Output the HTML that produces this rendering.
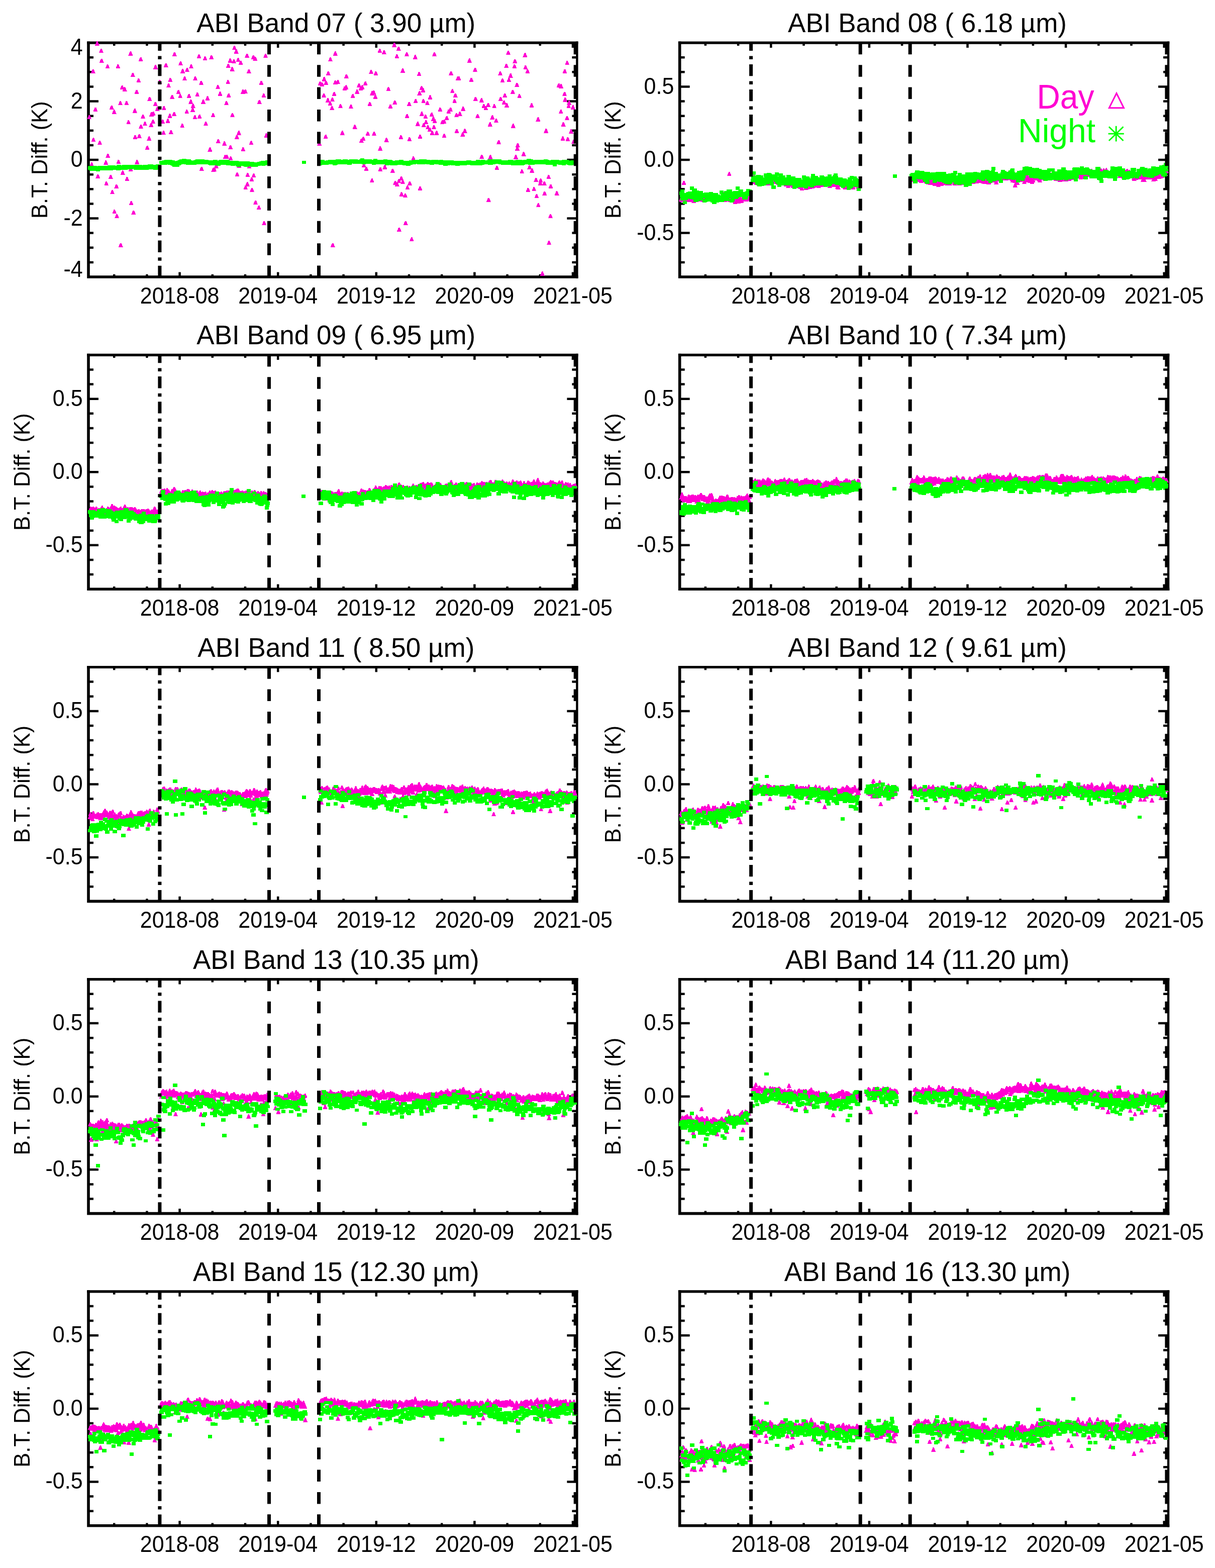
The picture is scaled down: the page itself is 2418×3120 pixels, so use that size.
<!DOCTYPE html><html><head><meta charset="utf-8"><title>ABI Bands B.T. Diff.</title><style>

*{margin:0;padding:0}
html,body{width:2418px;height:3120px;background:#fff;overflow:hidden}
svg{display:block}
text{font-family:"Liberation Sans",Arial,sans-serif;fill:#000}
.ti{font-size:53px;text-anchor:middle}
.tl{font-size:43px}
.yl{font-size:43.5px;text-anchor:middle}
.lg{font-size:66px}
path.d{fill:none;stroke:none;marker-start:url(#t);marker-mid:url(#t);marker-end:url(#t)}
path.n{fill:none;stroke:none;marker-start:url(#s);marker-mid:url(#s);marker-end:url(#s)}

</style></head><body>
<svg width="2418" height="3120" viewBox="0 0 2418 3120">
<rect width="2418" height="3120" fill="#fff"/>
<text class="ti" x="668.8" y="64.1">ABI Band 07 ( 3.90 µm)</text>
<text class="yl" transform="translate(93.8,318.1) rotate(-90)">B.T. Diff. (K)</text>
<path d="M357.6 551V541.4M357.6 85.1V94.9M553.2 551V541.4M553.2 85.1V94.9M748.8 551V541.4M748.8 85.1V94.9M944.4 551V541.4M944.4 85.1V94.9M1140 551V541.4M1140 85.1V94.9M227.2 551V545.8M227.2 85.1V90.9M292.4 551V545.8M292.4 85.1V90.9M422.8 551V545.8M422.8 85.1V90.9M488 551V545.8M488 85.1V90.9M618.4 551V545.8M618.4 85.1V90.9M683.6 551V545.8M683.6 85.1V90.9M814 551V545.8M814 85.1V90.9M879.2 551V545.8M879.2 85.1V90.9M1009.6 551V545.8M1009.6 85.1V90.9M1074.8 551V545.8M1074.8 85.1V90.9M176 434.5H196M1148.4 434.5H1128.4M176 318.1H196M1148.4 318.1H1128.4M176 201.6H196M1148.4 201.6H1128.4M176 521.9H186M1148.4 521.9H1138.4M176 492.8H186M1148.4 492.8H1138.4M176 463.6H186M1148.4 463.6H1138.4M176 405.4H186M1148.4 405.4H1138.4M176 376.3H186M1148.4 376.3H1138.4M176 347.2H186M1148.4 347.2H1138.4M176 288.9H186M1148.4 288.9H1138.4M176 259.8H186M1148.4 259.8H1138.4M176 230.7H186M1148.4 230.7H1138.4M176 172.5H186M1148.4 172.5H1138.4M176 143.3H186M1148.4 143.3H1138.4M176 114.2H186M1148.4 114.2H1138.4" stroke="#000" stroke-width="4.5" fill="none"/>
<text class="tl" transform="translate(164.6,108.7) scale(1,1.065)" text-anchor="end">4</text>
<text class="tl" transform="translate(164.6,215.6) scale(1,1.065)" text-anchor="end">2</text>
<text class="tl" transform="translate(164.6,332.1) scale(1,1.065)" text-anchor="end">0</text>
<text class="tl" transform="translate(164.6,448.5) scale(1,1.065)" text-anchor="end">-2</text>
<text class="tl" transform="translate(164.6,551) scale(1,1.065)" text-anchor="end">-4</text>
<text class="tl" transform="translate(357.6,603.5) scale(1,1.065)" text-anchor="middle">2018-08</text>
<text class="tl" transform="translate(553.2,603.5) scale(1,1.065)" text-anchor="middle">2019-04</text>
<text class="tl" transform="translate(748.8,603.5) scale(1,1.065)" text-anchor="middle">2019-12</text>
<text class="tl" transform="translate(944.4,603.5) scale(1,1.065)" text-anchor="middle">2020-09</text>
<text class="tl" transform="translate(1140,603.5) scale(1,1.065)" text-anchor="middle">2021-05</text>
<text class="ti" x="1845.5" y="64.1">ABI Band 08 ( 6.18 µm)</text>
<text class="yl" transform="translate(1235.4,318.1) rotate(-90)">B.T. Diff. (K)</text>
<path d="M1534.3 551V541.4M1534.3 85.1V94.9M1729.9 551V541.4M1729.9 85.1V94.9M1925.5 551V541.4M1925.5 85.1V94.9M2121.1 551V541.4M2121.1 85.1V94.9M2316.7 551V541.4M2316.7 85.1V94.9M1403.9 551V545.8M1403.9 85.1V90.9M1469.1 551V545.8M1469.1 85.1V90.9M1599.5 551V545.8M1599.5 85.1V90.9M1664.7 551V545.8M1664.7 85.1V90.9M1795.1 551V545.8M1795.1 85.1V90.9M1860.3 551V545.8M1860.3 85.1V90.9M1990.7 551V545.8M1990.7 85.1V90.9M2055.9 551V545.8M2055.9 85.1V90.9M2186.3 551V545.8M2186.3 85.1V90.9M2251.5 551V545.8M2251.5 85.1V90.9M1352.7 463.6H1372.7M2325.1 463.6H2305.1M1352.7 318.1H1372.7M2325.1 318.1H2305.1M1352.7 172.5H1372.7M2325.1 172.5H2305.1M1352.7 521.9H1362.7M2325.1 521.9H2315.1M1352.7 492.8H1362.7M2325.1 492.8H2315.1M1352.7 434.5H1362.7M2325.1 434.5H2315.1M1352.7 405.4H1362.7M2325.1 405.4H2315.1M1352.7 376.3H1362.7M2325.1 376.3H2315.1M1352.7 347.2H1362.7M2325.1 347.2H2315.1M1352.7 288.9H1362.7M2325.1 288.9H2315.1M1352.7 259.8H1362.7M2325.1 259.8H2315.1M1352.7 230.7H1362.7M2325.1 230.7H2315.1M1352.7 201.6H1362.7M2325.1 201.6H2315.1M1352.7 143.3H1362.7M2325.1 143.3H2315.1M1352.7 114.2H1362.7M2325.1 114.2H2315.1" stroke="#000" stroke-width="4.5" fill="none"/>
<text class="tl" transform="translate(1341.3,186.5) scale(1,1.065)" text-anchor="end">0.5</text>
<text class="tl" transform="translate(1341.3,332.1) scale(1,1.065)" text-anchor="end">0.0</text>
<text class="tl" transform="translate(1341.3,477.6) scale(1,1.065)" text-anchor="end">-0.5</text>
<text class="tl" transform="translate(1534.3,603.5) scale(1,1.065)" text-anchor="middle">2018-08</text>
<text class="tl" transform="translate(1729.9,603.5) scale(1,1.065)" text-anchor="middle">2019-04</text>
<text class="tl" transform="translate(1925.5,603.5) scale(1,1.065)" text-anchor="middle">2019-12</text>
<text class="tl" transform="translate(2121.1,603.5) scale(1,1.065)" text-anchor="middle">2020-09</text>
<text class="tl" transform="translate(2316.7,603.5) scale(1,1.065)" text-anchor="middle">2021-05</text>
<text class="ti" x="668.8" y="685.3">ABI Band 09 ( 6.95 µm)</text>
<text class="yl" transform="translate(58.7,939.2) rotate(-90)">B.T. Diff. (K)</text>
<path d="M357.6 1172.2V1162.6M357.6 706.3V716.1M553.2 1172.2V1162.6M553.2 706.3V716.1M748.8 1172.2V1162.6M748.8 706.3V716.1M944.4 1172.2V1162.6M944.4 706.3V716.1M1140 1172.2V1162.6M1140 706.3V716.1M227.2 1172.2V1167M227.2 706.3V712.1M292.4 1172.2V1167M292.4 706.3V712.1M422.8 1172.2V1167M422.8 706.3V712.1M488 1172.2V1167M488 706.3V712.1M618.4 1172.2V1167M618.4 706.3V712.1M683.6 1172.2V1167M683.6 706.3V712.1M814 1172.2V1167M814 706.3V712.1M879.2 1172.2V1167M879.2 706.3V712.1M1009.6 1172.2V1167M1009.6 706.3V712.1M1074.8 1172.2V1167M1074.8 706.3V712.1M176 1084.8H196M1148.4 1084.8H1128.4M176 939.2H196M1148.4 939.2H1128.4M176 793.7H196M1148.4 793.7H1128.4M176 1143.1H186M1148.4 1143.1H1138.4M176 1114H186M1148.4 1114H1138.4M176 1055.7H186M1148.4 1055.7H1138.4M176 1026.6H186M1148.4 1026.6H1138.4M176 997.5H186M1148.4 997.5H1138.4M176 968.4H186M1148.4 968.4H1138.4M176 910.1H186M1148.4 910.1H1138.4M176 881H186M1148.4 881H1138.4M176 851.9H186M1148.4 851.9H1138.4M176 822.8H186M1148.4 822.8H1138.4M176 764.5H186M1148.4 764.5H1138.4M176 735.4H186M1148.4 735.4H1138.4" stroke="#000" stroke-width="4.5" fill="none"/>
<text class="tl" transform="translate(164.6,807.7) scale(1,1.065)" text-anchor="end">0.5</text>
<text class="tl" transform="translate(164.6,953.2) scale(1,1.065)" text-anchor="end">0.0</text>
<text class="tl" transform="translate(164.6,1098.8) scale(1,1.065)" text-anchor="end">-0.5</text>
<text class="tl" transform="translate(357.6,1224.7) scale(1,1.065)" text-anchor="middle">2018-08</text>
<text class="tl" transform="translate(553.2,1224.7) scale(1,1.065)" text-anchor="middle">2019-04</text>
<text class="tl" transform="translate(748.8,1224.7) scale(1,1.065)" text-anchor="middle">2019-12</text>
<text class="tl" transform="translate(944.4,1224.7) scale(1,1.065)" text-anchor="middle">2020-09</text>
<text class="tl" transform="translate(1140,1224.7) scale(1,1.065)" text-anchor="middle">2021-05</text>
<text class="ti" x="1845.5" y="685.3">ABI Band 10 ( 7.34 µm)</text>
<text class="yl" transform="translate(1235.4,939.2) rotate(-90)">B.T. Diff. (K)</text>
<path d="M1534.3 1172.2V1162.6M1534.3 706.3V716.1M1729.9 1172.2V1162.6M1729.9 706.3V716.1M1925.5 1172.2V1162.6M1925.5 706.3V716.1M2121.1 1172.2V1162.6M2121.1 706.3V716.1M2316.7 1172.2V1162.6M2316.7 706.3V716.1M1403.9 1172.2V1167M1403.9 706.3V712.1M1469.1 1172.2V1167M1469.1 706.3V712.1M1599.5 1172.2V1167M1599.5 706.3V712.1M1664.7 1172.2V1167M1664.7 706.3V712.1M1795.1 1172.2V1167M1795.1 706.3V712.1M1860.3 1172.2V1167M1860.3 706.3V712.1M1990.7 1172.2V1167M1990.7 706.3V712.1M2055.9 1172.2V1167M2055.9 706.3V712.1M2186.3 1172.2V1167M2186.3 706.3V712.1M2251.5 1172.2V1167M2251.5 706.3V712.1M1352.7 1084.8H1372.7M2325.1 1084.8H2305.1M1352.7 939.2H1372.7M2325.1 939.2H2305.1M1352.7 793.7H1372.7M2325.1 793.7H2305.1M1352.7 1143.1H1362.7M2325.1 1143.1H2315.1M1352.7 1114H1362.7M2325.1 1114H2315.1M1352.7 1055.7H1362.7M2325.1 1055.7H2315.1M1352.7 1026.6H1362.7M2325.1 1026.6H2315.1M1352.7 997.5H1362.7M2325.1 997.5H2315.1M1352.7 968.4H1362.7M2325.1 968.4H2315.1M1352.7 910.1H1362.7M2325.1 910.1H2315.1M1352.7 881H1362.7M2325.1 881H2315.1M1352.7 851.9H1362.7M2325.1 851.9H2315.1M1352.7 822.8H1362.7M2325.1 822.8H2315.1M1352.7 764.5H1362.7M2325.1 764.5H2315.1M1352.7 735.4H1362.7M2325.1 735.4H2315.1" stroke="#000" stroke-width="4.5" fill="none"/>
<text class="tl" transform="translate(1341.3,807.7) scale(1,1.065)" text-anchor="end">0.5</text>
<text class="tl" transform="translate(1341.3,953.2) scale(1,1.065)" text-anchor="end">0.0</text>
<text class="tl" transform="translate(1341.3,1098.8) scale(1,1.065)" text-anchor="end">-0.5</text>
<text class="tl" transform="translate(1534.3,1224.7) scale(1,1.065)" text-anchor="middle">2018-08</text>
<text class="tl" transform="translate(1729.9,1224.7) scale(1,1.065)" text-anchor="middle">2019-04</text>
<text class="tl" transform="translate(1925.5,1224.7) scale(1,1.065)" text-anchor="middle">2019-12</text>
<text class="tl" transform="translate(2121.1,1224.7) scale(1,1.065)" text-anchor="middle">2020-09</text>
<text class="tl" transform="translate(2316.7,1224.7) scale(1,1.065)" text-anchor="middle">2021-05</text>
<text class="ti" x="668.8" y="1306.5">ABI Band 11 ( 8.50 µm)</text>
<text class="yl" transform="translate(58.7,1560.5) rotate(-90)">B.T. Diff. (K)</text>
<path d="M357.6 1793.4V1783.8M357.6 1327.5V1337.3M553.2 1793.4V1783.8M553.2 1327.5V1337.3M748.8 1793.4V1783.8M748.8 1327.5V1337.3M944.4 1793.4V1783.8M944.4 1327.5V1337.3M1140 1793.4V1783.8M1140 1327.5V1337.3M227.2 1793.4V1788.2M227.2 1327.5V1333.3M292.4 1793.4V1788.2M292.4 1327.5V1333.3M422.8 1793.4V1788.2M422.8 1327.5V1333.3M488 1793.4V1788.2M488 1327.5V1333.3M618.4 1793.4V1788.2M618.4 1327.5V1333.3M683.6 1793.4V1788.2M683.6 1327.5V1333.3M814 1793.4V1788.2M814 1327.5V1333.3M879.2 1793.4V1788.2M879.2 1327.5V1333.3M1009.6 1793.4V1788.2M1009.6 1327.5V1333.3M1074.8 1793.4V1788.2M1074.8 1327.5V1333.3M176 1706H196M1148.4 1706H1128.4M176 1560.5H196M1148.4 1560.5H1128.4M176 1414.9H196M1148.4 1414.9H1128.4M176 1764.3H186M1148.4 1764.3H1138.4M176 1735.2H186M1148.4 1735.2H1138.4M176 1676.9H186M1148.4 1676.9H1138.4M176 1647.8H186M1148.4 1647.8H1138.4M176 1618.7H186M1148.4 1618.7H1138.4M176 1589.6H186M1148.4 1589.6H1138.4M176 1531.3H186M1148.4 1531.3H1138.4M176 1502.2H186M1148.4 1502.2H1138.4M176 1473.1H186M1148.4 1473.1H1138.4M176 1444H186M1148.4 1444H1138.4M176 1385.7H186M1148.4 1385.7H1138.4M176 1356.6H186M1148.4 1356.6H1138.4" stroke="#000" stroke-width="4.5" fill="none"/>
<text class="tl" transform="translate(164.6,1428.9) scale(1,1.065)" text-anchor="end">0.5</text>
<text class="tl" transform="translate(164.6,1574.5) scale(1,1.065)" text-anchor="end">0.0</text>
<text class="tl" transform="translate(164.6,1720) scale(1,1.065)" text-anchor="end">-0.5</text>
<text class="tl" transform="translate(357.6,1845.9) scale(1,1.065)" text-anchor="middle">2018-08</text>
<text class="tl" transform="translate(553.2,1845.9) scale(1,1.065)" text-anchor="middle">2019-04</text>
<text class="tl" transform="translate(748.8,1845.9) scale(1,1.065)" text-anchor="middle">2019-12</text>
<text class="tl" transform="translate(944.4,1845.9) scale(1,1.065)" text-anchor="middle">2020-09</text>
<text class="tl" transform="translate(1140,1845.9) scale(1,1.065)" text-anchor="middle">2021-05</text>
<text class="ti" x="1845.5" y="1306.5">ABI Band 12 ( 9.61 µm)</text>
<text class="yl" transform="translate(1235.4,1560.5) rotate(-90)">B.T. Diff. (K)</text>
<path d="M1534.3 1793.4V1783.8M1534.3 1327.5V1337.3M1729.9 1793.4V1783.8M1729.9 1327.5V1337.3M1925.5 1793.4V1783.8M1925.5 1327.5V1337.3M2121.1 1793.4V1783.8M2121.1 1327.5V1337.3M2316.7 1793.4V1783.8M2316.7 1327.5V1337.3M1403.9 1793.4V1788.2M1403.9 1327.5V1333.3M1469.1 1793.4V1788.2M1469.1 1327.5V1333.3M1599.5 1793.4V1788.2M1599.5 1327.5V1333.3M1664.7 1793.4V1788.2M1664.7 1327.5V1333.3M1795.1 1793.4V1788.2M1795.1 1327.5V1333.3M1860.3 1793.4V1788.2M1860.3 1327.5V1333.3M1990.7 1793.4V1788.2M1990.7 1327.5V1333.3M2055.9 1793.4V1788.2M2055.9 1327.5V1333.3M2186.3 1793.4V1788.2M2186.3 1327.5V1333.3M2251.5 1793.4V1788.2M2251.5 1327.5V1333.3M1352.7 1706H1372.7M2325.1 1706H2305.1M1352.7 1560.5H1372.7M2325.1 1560.5H2305.1M1352.7 1414.9H1372.7M2325.1 1414.9H2305.1M1352.7 1764.3H1362.7M2325.1 1764.3H2315.1M1352.7 1735.2H1362.7M2325.1 1735.2H2315.1M1352.7 1676.9H1362.7M2325.1 1676.9H2315.1M1352.7 1647.8H1362.7M2325.1 1647.8H2315.1M1352.7 1618.7H1362.7M2325.1 1618.7H2315.1M1352.7 1589.6H1362.7M2325.1 1589.6H2315.1M1352.7 1531.3H1362.7M2325.1 1531.3H2315.1M1352.7 1502.2H1362.7M2325.1 1502.2H2315.1M1352.7 1473.1H1362.7M2325.1 1473.1H2315.1M1352.7 1444H1362.7M2325.1 1444H2315.1M1352.7 1385.7H1362.7M2325.1 1385.7H2315.1M1352.7 1356.6H1362.7M2325.1 1356.6H2315.1" stroke="#000" stroke-width="4.5" fill="none"/>
<text class="tl" transform="translate(1341.3,1428.9) scale(1,1.065)" text-anchor="end">0.5</text>
<text class="tl" transform="translate(1341.3,1574.5) scale(1,1.065)" text-anchor="end">0.0</text>
<text class="tl" transform="translate(1341.3,1720) scale(1,1.065)" text-anchor="end">-0.5</text>
<text class="tl" transform="translate(1534.3,1845.9) scale(1,1.065)" text-anchor="middle">2018-08</text>
<text class="tl" transform="translate(1729.9,1845.9) scale(1,1.065)" text-anchor="middle">2019-04</text>
<text class="tl" transform="translate(1925.5,1845.9) scale(1,1.065)" text-anchor="middle">2019-12</text>
<text class="tl" transform="translate(2121.1,1845.9) scale(1,1.065)" text-anchor="middle">2020-09</text>
<text class="tl" transform="translate(2316.7,1845.9) scale(1,1.065)" text-anchor="middle">2021-05</text>
<text class="ti" x="668.8" y="1927.7">ABI Band 13 (10.35 µm)</text>
<text class="yl" transform="translate(58.7,2181.7) rotate(-90)">B.T. Diff. (K)</text>
<path d="M357.6 2414.6V2405M357.6 1948.7V1958.5M553.2 2414.6V2405M553.2 1948.7V1958.5M748.8 2414.6V2405M748.8 1948.7V1958.5M944.4 2414.6V2405M944.4 1948.7V1958.5M1140 2414.6V2405M1140 1948.7V1958.5M227.2 2414.6V2409.4M227.2 1948.7V1954.5M292.4 2414.6V2409.4M292.4 1948.7V1954.5M422.8 2414.6V2409.4M422.8 1948.7V1954.5M488 2414.6V2409.4M488 1948.7V1954.5M618.4 2414.6V2409.4M618.4 1948.7V1954.5M683.6 2414.6V2409.4M683.6 1948.7V1954.5M814 2414.6V2409.4M814 1948.7V1954.5M879.2 2414.6V2409.4M879.2 1948.7V1954.5M1009.6 2414.6V2409.4M1009.6 1948.7V1954.5M1074.8 2414.6V2409.4M1074.8 1948.7V1954.5M176 2327.2H196M1148.4 2327.2H1128.4M176 2181.7H196M1148.4 2181.7H1128.4M176 2036.1H196M1148.4 2036.1H1128.4M176 2385.5H186M1148.4 2385.5H1138.4M176 2356.4H186M1148.4 2356.4H1138.4M176 2298.1H186M1148.4 2298.1H1138.4M176 2269H186M1148.4 2269H1138.4M176 2239.9H186M1148.4 2239.9H1138.4M176 2210.8H186M1148.4 2210.8H1138.4M176 2152.5H186M1148.4 2152.5H1138.4M176 2123.4H186M1148.4 2123.4H1138.4M176 2094.3H186M1148.4 2094.3H1138.4M176 2065.2H186M1148.4 2065.2H1138.4M176 2006.9H186M1148.4 2006.9H1138.4M176 1977.8H186M1148.4 1977.8H1138.4" stroke="#000" stroke-width="4.5" fill="none"/>
<text class="tl" transform="translate(164.6,2050.1) scale(1,1.065)" text-anchor="end">0.5</text>
<text class="tl" transform="translate(164.6,2195.7) scale(1,1.065)" text-anchor="end">0.0</text>
<text class="tl" transform="translate(164.6,2341.2) scale(1,1.065)" text-anchor="end">-0.5</text>
<text class="tl" transform="translate(357.6,2467.1) scale(1,1.065)" text-anchor="middle">2018-08</text>
<text class="tl" transform="translate(553.2,2467.1) scale(1,1.065)" text-anchor="middle">2019-04</text>
<text class="tl" transform="translate(748.8,2467.1) scale(1,1.065)" text-anchor="middle">2019-12</text>
<text class="tl" transform="translate(944.4,2467.1) scale(1,1.065)" text-anchor="middle">2020-09</text>
<text class="tl" transform="translate(1140,2467.1) scale(1,1.065)" text-anchor="middle">2021-05</text>
<text class="ti" x="1845.5" y="1927.7">ABI Band 14 (11.20 µm)</text>
<text class="yl" transform="translate(1235.4,2181.7) rotate(-90)">B.T. Diff. (K)</text>
<path d="M1534.3 2414.6V2405M1534.3 1948.7V1958.5M1729.9 2414.6V2405M1729.9 1948.7V1958.5M1925.5 2414.6V2405M1925.5 1948.7V1958.5M2121.1 2414.6V2405M2121.1 1948.7V1958.5M2316.7 2414.6V2405M2316.7 1948.7V1958.5M1403.9 2414.6V2409.4M1403.9 1948.7V1954.5M1469.1 2414.6V2409.4M1469.1 1948.7V1954.5M1599.5 2414.6V2409.4M1599.5 1948.7V1954.5M1664.7 2414.6V2409.4M1664.7 1948.7V1954.5M1795.1 2414.6V2409.4M1795.1 1948.7V1954.5M1860.3 2414.6V2409.4M1860.3 1948.7V1954.5M1990.7 2414.6V2409.4M1990.7 1948.7V1954.5M2055.9 2414.6V2409.4M2055.9 1948.7V1954.5M2186.3 2414.6V2409.4M2186.3 1948.7V1954.5M2251.5 2414.6V2409.4M2251.5 1948.7V1954.5M1352.7 2327.2H1372.7M2325.1 2327.2H2305.1M1352.7 2181.7H1372.7M2325.1 2181.7H2305.1M1352.7 2036.1H1372.7M2325.1 2036.1H2305.1M1352.7 2385.5H1362.7M2325.1 2385.5H2315.1M1352.7 2356.4H1362.7M2325.1 2356.4H2315.1M1352.7 2298.1H1362.7M2325.1 2298.1H2315.1M1352.7 2269H1362.7M2325.1 2269H2315.1M1352.7 2239.9H1362.7M2325.1 2239.9H2315.1M1352.7 2210.8H1362.7M2325.1 2210.8H2315.1M1352.7 2152.5H1362.7M2325.1 2152.5H2315.1M1352.7 2123.4H1362.7M2325.1 2123.4H2315.1M1352.7 2094.3H1362.7M2325.1 2094.3H2315.1M1352.7 2065.2H1362.7M2325.1 2065.2H2315.1M1352.7 2006.9H1362.7M2325.1 2006.9H2315.1M1352.7 1977.8H1362.7M2325.1 1977.8H2315.1" stroke="#000" stroke-width="4.5" fill="none"/>
<text class="tl" transform="translate(1341.3,2050.1) scale(1,1.065)" text-anchor="end">0.5</text>
<text class="tl" transform="translate(1341.3,2195.7) scale(1,1.065)" text-anchor="end">0.0</text>
<text class="tl" transform="translate(1341.3,2341.2) scale(1,1.065)" text-anchor="end">-0.5</text>
<text class="tl" transform="translate(1534.3,2467.1) scale(1,1.065)" text-anchor="middle">2018-08</text>
<text class="tl" transform="translate(1729.9,2467.1) scale(1,1.065)" text-anchor="middle">2019-04</text>
<text class="tl" transform="translate(1925.5,2467.1) scale(1,1.065)" text-anchor="middle">2019-12</text>
<text class="tl" transform="translate(2121.1,2467.1) scale(1,1.065)" text-anchor="middle">2020-09</text>
<text class="tl" transform="translate(2316.7,2467.1) scale(1,1.065)" text-anchor="middle">2021-05</text>
<text class="ti" x="668.8" y="2548.9">ABI Band 15 (12.30 µm)</text>
<text class="yl" transform="translate(58.7,2802.9) rotate(-90)">B.T. Diff. (K)</text>
<path d="M357.6 3035.8V3026.2M357.6 2569.9V2579.7M553.2 3035.8V3026.2M553.2 2569.9V2579.7M748.8 3035.8V3026.2M748.8 2569.9V2579.7M944.4 3035.8V3026.2M944.4 2569.9V2579.7M1140 3035.8V3026.2M1140 2569.9V2579.7M227.2 3035.8V3030.6M227.2 2569.9V2575.7M292.4 3035.8V3030.6M292.4 2569.9V2575.7M422.8 3035.8V3030.6M422.8 2569.9V2575.7M488 3035.8V3030.6M488 2569.9V2575.7M618.4 3035.8V3030.6M618.4 2569.9V2575.7M683.6 3035.8V3030.6M683.6 2569.9V2575.7M814 3035.8V3030.6M814 2569.9V2575.7M879.2 3035.8V3030.6M879.2 2569.9V2575.7M1009.6 3035.8V3030.6M1009.6 2569.9V2575.7M1074.8 3035.8V3030.6M1074.8 2569.9V2575.7M176 2948.4H196M1148.4 2948.4H1128.4M176 2802.9H196M1148.4 2802.9H1128.4M176 2657.3H196M1148.4 2657.3H1128.4M176 3006.7H186M1148.4 3006.7H1138.4M176 2977.6H186M1148.4 2977.6H1138.4M176 2919.3H186M1148.4 2919.3H1138.4M176 2890.2H186M1148.4 2890.2H1138.4M176 2861.1H186M1148.4 2861.1H1138.4M176 2832H186M1148.4 2832H1138.4M176 2773.7H186M1148.4 2773.7H1138.4M176 2744.6H186M1148.4 2744.6H1138.4M176 2715.5H186M1148.4 2715.5H1138.4M176 2686.4H186M1148.4 2686.4H1138.4M176 2628.1H186M1148.4 2628.1H1138.4M176 2599H186M1148.4 2599H1138.4" stroke="#000" stroke-width="4.5" fill="none"/>
<text class="tl" transform="translate(164.6,2671.3) scale(1,1.065)" text-anchor="end">0.5</text>
<text class="tl" transform="translate(164.6,2816.9) scale(1,1.065)" text-anchor="end">0.0</text>
<text class="tl" transform="translate(164.6,2962.4) scale(1,1.065)" text-anchor="end">-0.5</text>
<text class="tl" transform="translate(357.6,3088.3) scale(1,1.065)" text-anchor="middle">2018-08</text>
<text class="tl" transform="translate(553.2,3088.3) scale(1,1.065)" text-anchor="middle">2019-04</text>
<text class="tl" transform="translate(748.8,3088.3) scale(1,1.065)" text-anchor="middle">2019-12</text>
<text class="tl" transform="translate(944.4,3088.3) scale(1,1.065)" text-anchor="middle">2020-09</text>
<text class="tl" transform="translate(1140,3088.3) scale(1,1.065)" text-anchor="middle">2021-05</text>
<text class="ti" x="1845.5" y="2548.9">ABI Band 16 (13.30 µm)</text>
<text class="yl" transform="translate(1235.4,2802.9) rotate(-90)">B.T. Diff. (K)</text>
<path d="M1534.3 3035.8V3026.2M1534.3 2569.9V2579.7M1729.9 3035.8V3026.2M1729.9 2569.9V2579.7M1925.5 3035.8V3026.2M1925.5 2569.9V2579.7M2121.1 3035.8V3026.2M2121.1 2569.9V2579.7M2316.7 3035.8V3026.2M2316.7 2569.9V2579.7M1403.9 3035.8V3030.6M1403.9 2569.9V2575.7M1469.1 3035.8V3030.6M1469.1 2569.9V2575.7M1599.5 3035.8V3030.6M1599.5 2569.9V2575.7M1664.7 3035.8V3030.6M1664.7 2569.9V2575.7M1795.1 3035.8V3030.6M1795.1 2569.9V2575.7M1860.3 3035.8V3030.6M1860.3 2569.9V2575.7M1990.7 3035.8V3030.6M1990.7 2569.9V2575.7M2055.9 3035.8V3030.6M2055.9 2569.9V2575.7M2186.3 3035.8V3030.6M2186.3 2569.9V2575.7M2251.5 3035.8V3030.6M2251.5 2569.9V2575.7M1352.7 2948.4H1372.7M2325.1 2948.4H2305.1M1352.7 2802.9H1372.7M2325.1 2802.9H2305.1M1352.7 2657.3H1372.7M2325.1 2657.3H2305.1M1352.7 3006.7H1362.7M2325.1 3006.7H2315.1M1352.7 2977.6H1362.7M2325.1 2977.6H2315.1M1352.7 2919.3H1362.7M2325.1 2919.3H2315.1M1352.7 2890.2H1362.7M2325.1 2890.2H2315.1M1352.7 2861.1H1362.7M2325.1 2861.1H2315.1M1352.7 2832H1362.7M2325.1 2832H2315.1M1352.7 2773.7H1362.7M2325.1 2773.7H2315.1M1352.7 2744.6H1362.7M2325.1 2744.6H2315.1M1352.7 2715.5H1362.7M2325.1 2715.5H2315.1M1352.7 2686.4H1362.7M2325.1 2686.4H2315.1M1352.7 2628.1H1362.7M2325.1 2628.1H2315.1M1352.7 2599H1362.7M2325.1 2599H2315.1" stroke="#000" stroke-width="4.5" fill="none"/>
<text class="tl" transform="translate(1341.3,2671.3) scale(1,1.065)" text-anchor="end">0.5</text>
<text class="tl" transform="translate(1341.3,2816.9) scale(1,1.065)" text-anchor="end">0.0</text>
<text class="tl" transform="translate(1341.3,2962.4) scale(1,1.065)" text-anchor="end">-0.5</text>
<text class="tl" transform="translate(1534.3,3088.3) scale(1,1.065)" text-anchor="middle">2018-08</text>
<text class="tl" transform="translate(1729.9,3088.3) scale(1,1.065)" text-anchor="middle">2019-04</text>
<text class="tl" transform="translate(1925.5,3088.3) scale(1,1.065)" text-anchor="middle">2019-12</text>
<text class="tl" transform="translate(2121.1,3088.3) scale(1,1.065)" text-anchor="middle">2020-09</text>
<text class="tl" transform="translate(2316.7,3088.3) scale(1,1.065)" text-anchor="middle">2021-05</text>
<path d="M173.2 85.1H1150.6" stroke="#000" stroke-width="5.2"/><path d="M173.2 551H1150.6M176 82.5V553.8" stroke="#000" stroke-width="5.6"/><path d="M1148.4 82.5V553.8" stroke="#000" stroke-width="4.4"/>
<path d="M1349.9 85.1H2327.3" stroke="#000" stroke-width="5.2"/><path d="M1349.9 551H2327.3M1352.7 82.5V553.8" stroke="#000" stroke-width="5.6"/><path d="M2325.1 82.5V553.8" stroke="#000" stroke-width="4.4"/>
<path d="M173.2 706.3H1150.6" stroke="#000" stroke-width="5.2"/><path d="M173.2 1172.2H1150.6M176 703.7V1175" stroke="#000" stroke-width="5.6"/><path d="M1148.4 703.7V1175" stroke="#000" stroke-width="4.4"/>
<path d="M1349.9 706.3H2327.3" stroke="#000" stroke-width="5.2"/><path d="M1349.9 1172.2H2327.3M1352.7 703.7V1175" stroke="#000" stroke-width="5.6"/><path d="M2325.1 703.7V1175" stroke="#000" stroke-width="4.4"/>
<path d="M173.2 1327.5H1150.6" stroke="#000" stroke-width="5.2"/><path d="M173.2 1793.4H1150.6M176 1324.9V1796.2" stroke="#000" stroke-width="5.6"/><path d="M1148.4 1324.9V1796.2" stroke="#000" stroke-width="4.4"/>
<path d="M1349.9 1327.5H2327.3" stroke="#000" stroke-width="5.2"/><path d="M1349.9 1793.4H2327.3M1352.7 1324.9V1796.2" stroke="#000" stroke-width="5.6"/><path d="M2325.1 1324.9V1796.2" stroke="#000" stroke-width="4.4"/>
<path d="M173.2 1948.7H1150.6" stroke="#000" stroke-width="5.2"/><path d="M173.2 2414.6H1150.6M176 1946.1V2417.4" stroke="#000" stroke-width="5.6"/><path d="M1148.4 1946.1V2417.4" stroke="#000" stroke-width="4.4"/>
<path d="M1349.9 1948.7H2327.3" stroke="#000" stroke-width="5.2"/><path d="M1349.9 2414.6H2327.3M1352.7 1946.1V2417.4" stroke="#000" stroke-width="5.6"/><path d="M2325.1 1946.1V2417.4" stroke="#000" stroke-width="4.4"/>
<path d="M173.2 2569.9H1150.6" stroke="#000" stroke-width="5.2"/><path d="M173.2 3035.8H1150.6M176 2567.3V3038.6" stroke="#000" stroke-width="5.6"/><path d="M1148.4 2567.3V3038.6" stroke="#000" stroke-width="4.4"/>
<path d="M1349.9 2569.9H2327.3" stroke="#000" stroke-width="5.2"/><path d="M1349.9 3035.8H2327.3M1352.7 2567.3V3038.6" stroke="#000" stroke-width="5.6"/><path d="M2325.1 2567.3V3038.6" stroke="#000" stroke-width="4.4"/>
<defs>
<marker id="t" markerUnits="userSpaceOnUse" markerWidth="12" markerHeight="12" refX="6" refY="6" overflow="visible"><path d="M1.5 10.1L4.8 1.8L7.2 1.8L10.5 10.1Z" fill="#ff00d2" shape-rendering="crispEdges"/></marker>
<marker id="s" markerUnits="userSpaceOnUse" markerWidth="12" markerHeight="12" refX="6" refY="6" overflow="visible"><rect x="1.8" y="2.6" width="8.4" height="6.8" fill="#00ff00" shape-rendering="crispEdges"/></marker>
</defs>
<path class="d" d="M193.4 86.5l8 14.5 58.5 5.4 20.2 11.4-77.8 2.9 11.8 11.6 20.7 0-49.6 9.4 124.4-8.3 37.7-25.5 48.7 4.4 12.1 4 12.7-2.5-90.5 15.9 29.1-3.4 21.1 6-17 9.3 8.9-2.4-108.1 9.6 11.5 11.5 42 3 21.1-4.5 28.6-2.5 21.1-.1 11.9 8.5-65 5.5-92.3 3.7 4.9 3.7 23.9 5.2 83.1 0 3.6 8.5-16.1 1.5 33.5-1.8 16.7-2.6 20.2 7.3-115.2 1.1-58.3 8.5 12.3 0 57.5 1.5 70.5-4.4 24.8 0-20.4 8.1-194.2 7.4 32.2-4.1 5 8.8 41.1-2 45-4.2 13-1.2 57.2 3.4-11.8 3.7-70.2 5.2 3.7-1.5 41.4 .8-8.6 3.7-53.5 1.4 103.4 1.5 9.2-1.5 27-2.5-246.3 4 77.9 9.9 48.8-1.3 19.2 0 10.3-1.5-45.5 5.8 12.3 2.6-20.3 3 82.3-1.5 46.8-4.4-84 18.4 14.8-1.5-71.4 9.9 8.2-2 19.6 4.7-110.8 2.9 12.6 5.7 94.5 9.9 124.8 3.6-203.2 12.2 21.1 12.2 36.9 .5-62 1-28.1 4.1 77.6 9.6-16 6.3-49.3 7.2 25.4 1.2 32.5 4.4-41.1 8.9 20.1 5.6-8.3 11.4 37.7 22.1-33.5 17 4.9 8.9 33.2-7.4-25.6 65 161-152.1 23.6 2.2 41.7-242.6 3.7 7.1 21.4 8.4 12.6 3 3.7 2.9 20.6-5.9-70.4 9.6 7.4 1.5 8.4-2.6 5.2 5.6-24.8 5.9 7.8 6.6 33.2 4.5-41.6 21.4 66.4 1.4-86.5 8.5 49.9 9.3 4.7-.8-50.2 4.9 17.1 3.5 69.7 0-74.2 15.2 65.7-2.6-53.8 26.3 12.9 35.4-4 8.4-37.1 8.3 12.3 4.4 12.1 7.4 41.3-8.5-16.2 12.8-35.7 15.2 3.6 0 7.4 3 70.9-45.8 137.3-163.2-9.8 11.8-4.2 27.6-8.1 11.6 3.7 7.3-11.8 1.5 3.7 1.5 26.5-3.7-22.8 25.8 20.6-2.9 7.4-23.7-19.9 36.2 8.8-1.4-4.4 8.1 3.7 8.9-12.6 56.8-12.5 14-205.3 44.7-3.7 6.7 49.2-7.4 20.2 1.4-24 16 20.8 1 12.1 1.1-4 7.8-8.5 9.3-3.7 6.9 12.8 4.5 7.1 25.1 6.6 10.3 10.4 31 136.6 43.6 122.6-398.4 8.4 7.4-37.4 4.2 8.6 2.9 25.4 8.1 19.7-4.1 16.9 5.6 38.1-5.6-125.9 35.1 9.3 2.8 53.7-5.4 32.5 6.9 63.5-1.5-208.2 5.9 221.9 4.2-222.5 17.7-2.9 2.2 28.6-5.9 12.7-4-6.3 7.7-3 2.2-7.2 6.7 62.3-5.2 66-2.2 3 4.4-7 5.9 65.3-4.1-159.5 4.1 2.9-1.5 3.3 8.6-44.9-1.5 153.9 2.5 50.2-3.7-1.5 11.4-168.8 5.6 49.9-2.9-8.8 7.8 37.3-4.9 12.9-5.6 15.5 0 7.7 4.1-172.8 5.7 20.8 1.3 177.5 5.6 20.7 0-3.7 4.1 15.5 7-98.2 1.9 29.2-4.4 7.4 5.7 12.4-4.3 3.4 8.5 2.5 4.4 24.1-5.9-8.9 8.4 3.7-1-52.7 4.1 16.5-3.4-4.4 5.9 8.1 4.4 3.7 4.5 8.4-4.5-3.5 11.1 8.9 0 40.1-3.7-25.1 9.6-177.9-17.7-24.7 11.8 50.5 1.5 12.6-0-21.4 10.3-3.7 3.7 49.7-1.5 28.8-5.6 17 4.2 21.1-5.2-79.3 23.6 66 20.1-98.5 13.5 4.8 6.7 28 1.2 8.9-4.5 15.5 7.4-41.1 19.5 58.4-4.4 2.9 7.1-15 1.7 3.7 3 3.7-6.7 21.4 4.8-4.5 8.5 25.1 1.5-36.9 11.8 7.4 2.2 .7 55-12.8 13 24.9 19.5 192.2-371.4 33.5 4.5-110.7 11 90.5 1.5-17.1 8.9 16.2 1.2 21.9 2.2 4.1 7.7-104.3-3 183.1-13.6-4.7 16.6-128.4 4.1 20.6 4.4-103 5.5 24.8 2.9 62 1.5 12.8-1 16 9.6 83.4 1 4.4 1.5-96.2 11.4-15.7 7.3 29 1.2 89.9-4.4-177.2 9.9 11.9 2.6 38-2.6 6.9 7.1 5.3 5.6-45.7 1.8 4 3.7 4.8-6.3 12.1 2.6 74.3-1.8 66.8-11.1 7.8 6.2-.9 6.7 8.6 2.2-218.6 2.9-6.6 10.1 35.4 4.4 29.5 2.5 7.4 6.9-12.1 7.1 46.1 3 49.5-13 45.4-15.1 12.2 12.6-7.4 12.5-196 13-4.1 7 165.8-7 49.8 1.1-144 21.4 37.7 5.9-.8 6.6 90.5-19.9 9.9 1.5-87.8 29.5-83.2 5.2 17 .7 50.7 0 115.1-30.3-152.8 51.8 49.8 7.4 15.2-8.6 4.9 6.7 33 12.8-25.1 5.6 9.3 1.5-.7 5.2 8.1 .4 12.6 5.9-45.1 7 11.8-1.5 21.2 8.4 24.2-.3-40.2 5.9-95.5 7.4 98.9 10.6 24.2 21.6-2.9 53.4-13.2 61.3"/>
<path class="n" d="M179.2 334.7l.6-.1 .5-.7 .5 .3 1.2 2.8 .7-2.3 1 .7 .4-1.4 1.2 1.6 1.1 1 .6-.7 1.1-2 .6-.3 1 1.5 1.1-.1 .9 .4 .8 0 .5 1.4 .5-1.7 .6-.1 .9 2.7 1.2-1.9 .7-1.5 .7 1.4 .7-1.8 1.2 1 .9-.5 .5 .9 .6-1 .8 .5 .8 .4 1 .6 .8-.2 .7-1.1 .4-.1 .6 .1 .6-1.1 .6 2.3 .6-1.4 .5 .9 .6-2.1 .9 1.4 .8-1.1 .8 .6 .7 .1 1-.4 .8-0 .8 .4 .7 1.2 .9-1.2 .8 .1 .6-1.3 1 1.7 .6-.3 .6 1.3 .5-1.4 .5-1.5 .7 1.4 .5 .5 .8-1.9 .7 2.3 .8-1.7 .7-.4 .5 .2 1.1 1.6 .4-1.3 .7 1.1 .4-1.2 .6 .4 .9 .1 1.2 .1 1.1-.6 .5 0 .6 .6 .5-.5 1.2 2.5 1.1-4.1 .9 2.5 1.1 .1 1-.5 .5-.5 1.2 .4 1-.6 .9 1.6 .5 .3 1.1-2.5 .9 .4 .6 0 .6 .3 .7-1.4 1 .2 1 2.7 1.1-2.2 .9 .9 .6-1.5 .5 .8 .8 .8 1-.9 .5-1 .7 .8 .9-1.1 1 1.7 1.2-1.8 .9 2.5 1.2-.9 .9-.5 .6-.6 .7 1.3 1-.6 .9-.1 .4 .6 1.1-1 .9 .6 .6-.6 .7 .2 1-.5 .8 2.5 .5-1.6 1 .4 .6-.7 1.1-.6 .6 1.8 .5-.8 1 .1 .4-.2 .7-1.1 .9 3.2 .7-2.5 .4-1.1 .6 2.4 1-1.4 .5 .3 1.2 2.7 1.1-1.7 1.2-.2 .4-1.2 .4 2.4 .8-1.8 1 .4 1.1-1.4 .7 1.8 .6 .5 .8-1.6 .5 1.5 1.1 .4 .9-2.4 .6 1.1 .7-.5 .4 1.7 .6-1.1 .9-1.7 .7 2.5 .8-1 .5-1.9 1 .9 .6 .9 1-2.3 .8 1.3 .7-.1 .9 .2 .8 1.4 .9-1.3 1.2 1.1 1.2 .1 1-.7 .9 .2 .4 1.6 .6-1.7 1.1 .7 .6-1.3 .9 .9 .5-1 .6-.8 .9-.4 .8 2.5 6.1-10 .7-.1 1 1.2 .5-.6 .7 .6 .9-.4 .5 .1 1.1 .4 .4-1.9 .7 1 .7 1.2 1.1-1.9 .4-.6 .9-.7 .8 1.8 .4 .4 1.2-.7 .6 .8 .8-1.5 .6 1.7 .8-2.4 .5 2.4 1 1 1-3.6 1 1.7 1.1 .3 1-.6 .9 2.5 .7-2.6 .5 3.2 .9 1 1.2-1.2 .5 .8 .5 1.9 1.2-1.3 1.1 1.1 1.1-3.5 1.1 2.3 .9 1.9 1-5.1 .9 2.1 .5-.9 .9 .2 .5 .8 .7-1 .7-2.5 .7 .7 .5-2 .4 1.1 .7 1.5 .8-2.8 1 2.1 1-2.4 1.1 1.3 .7-.6 .4-.5 1.2-.2 .4-1.1 .8 1.9 .7-1.2 .7 0 .8 3.1 .5-.9 1.1-1.2 1.1 .3 1.1-.3 .7 3.5 1-2.9 1.2-1.2 1.1 2.5 .8-1 .9 .6 .6 .3 .6 .6 1.1 1.2 1.2-1.2 .5 .9 1.1-1.2 1.1 1.1 1.2-.9 .8 .8 1.1-2.2 1.1 1.2 .6-.8 1.1-1.5 .8 .5 1-.6 .9 1.4 .7 .5 .6 .9 .6-1.5 .7-1.8 .4 2.2 .9 .6 .6 .2 .7-1.3 .5 1.8 .4-1.6 1.1 1.5 .5-2.3 1.1-1.5 .4 2 1.1 .7 .9-.4 1.1 1 .6-1.5 .7 .6 1.1-.6 .4 1.2 1 1 .4-1.8 .9-.8 .5 2 1.1-.2 .8-.8 .5 .4 .7 1.2 1.1-1.5 1 .5 1.2 2 1.1-.2 .6 .9 1-3.1 .6 2.1 1 0 .7 .7 .8-.4 1.1-1.6 .6-.9 1 1.5 .7-1.9 .4-1 .8 2.9 .6-2.1 .6 2 .8-.4 1.1 1.9 1.2-1.7 1 .7 .9 1.8 .8-1.6 .5-1.4 .5 1.9 1-1.2 1.1-1.5 1.1 1.6 .5-2.2 1.1 1.7 .8 .1 1 .5 .7 .1 .5-1.2 .9-.7 .5-1 .5 1.3 1-.8 1.1 3 1.2-.6 1.2 .7 1.1-.3 1-3.1 .9 3.7 .6-1.8 1.2 .4 .8-.8 .6 .5 1.2 .7 .5 .8 .6-.1 .8-1 .5 1.4 1.1-1.1 .7-.8 1 3.7 .9-3.5 .7 1.2 .8 1 .6-1.9 .9 1.6 .9-1.1 .5-.4 1 .3 1.1-.4 1.2 1.2 .4-.2 .4 2.3 .9-2.2 .6 .4 1.1 3 .4-3.4 1.1-.5 .9 2.3 .5-.8 .9-.5 .7-.3 1.1 1.1 .6-1 .5 .7 .8 .4 .7-1.5 1.1 1.5 .8-1.1 .6-.9 .9 3.6 .9-3.2 .9 2.8 1.1-1.4 .6 2 1.1-.4 .9-.7 .7-2.9 1 1.6 .5 1.1 1 .8 1.2-1.2 1.1-.3 1 .2 .7 .9 1-.6 .7-1.7 .7 2.8 1-1.2 .5 1.9 1.1-2 .4 1.2 .7 .3 .5-1.3 .8 1.9 .6-1.8 1-.4 .4 2 1.1-.9 .5-.4 .5-.8 .8 .2 .6 .2 .7-.7 .7 1.1 .6-.4 1.2-1.2 .6-.2 .9 .5 .8 0 .8 .3 .9-1.2 1-.2 .8 .2 .8 .3 .8-2.2 .8 3.9 .9-.8 .6-1.5 .5 .5 .6 .2 1.2-1.7 1.1 .8 .8 .5 1.1-1.9 .8 1.2 .6-2.1 105.1 3.1 .5-1.5 .9 .7 1-1.1 1.1-.1 .6-1.3 .8 .2 .8 1.8 1-.1 .5-.4 .7 1.5 .5-1.2 1 1.4 1-2 .6 1.5 .9-1.1 1 1.6 .5-1.4 1.1-.5 .4-1 .7 1.3 .4-.9 1 .8 .6-1.2 .5 1.4 .5-.8 .8 .1 .4-1.1 .5 .8 .8 .6 .8 .2 1-0 1-.1 .8-1 .6 1.2 1.1-2.3 .8 1.5 .7 .1 1.1 2.7 .9-2.8 .6 2.3 1.1-3.2 .9 2.3 1.2-2.9 .9-.6 .7 2.1 1.2-.6 1-.2 .5-1.9 .6 1.5 .5 .7 .4 1.1 .5-2.2 .9 .4 .4 2.2 .8-.7 .6 .2 .7-.6 1.1-.1 .6-1.1 .8-.4 .5 .6 1 2.1 1.1-2.9 .9 .5 .9-.5 .5 0 1 1.1 .4 .9 1.1 .6 .6-.6 .4 .7 .7 .4 .6-.9 .5 .1 .7-.5 .5 .2 1 1.7 .6-2.9 .6 .7 .9-.5 1.1-.7 .8-.2 1.1 .8 1.1-1.1 1.2 .8 1.1 .1 1-.3 .8 1.5 .5-2 1.2-0 1 1.1 .9 1.1 .7-.9 .7 .1 .8 .3 .7-.5 1.1-.2 .8 0 .7 .9 1.1-.2 .4-.1 .6 .5 .7-.5 .9-.6 .8-1.1 .8-.2 1-2.1 .8 3 .8 1.7 .8-.9 .6 1.5 .4-2 .8 .1 .6 1.4 1-1.8 1.1-.4 .9 1.1 1-.7 .8-.3 .6 1 .5-.5 1.2 1 .9-1.5 .8-.8 .5 .2 1.2 .8 .9 .6 .5 .8 .5-1.5 .4 1.3 1-.5 .6-.5 .9 1.3 .6-.6 1.1 1 1 1.4 1.1-3 .8 1.9 .8-3.8 1 1.6 .9 2.3 .8-1.5 1.1 .1 .9 .3 .9-.5 .9-.3 .6 1.6 .9-1.8 .7 .6 .8 .9 .8-.7 .5-.9 .6 2.8 .7-2.2 .8 .8 1-.7 .8 1.2 1.1-.4 1.1-1.4 1.1 1.4 .4-1.7 .6 .3 .8 2.1 .8-3.5 .8 1.9 .9 .8 .7 1.8 1.1 1.1 .5-.7 1.1-.6 .5-.8 .5-2.1 .8 .8 1 1.8 .5-2.4 .6 1.6 1.1-1.2 .7 1.5 .9 1.6 .7-1 .8 1.9 .7-2.6 .9 1 .6 .5 .8 1.1 .6-.7 .6-1.7 .5 .8 .8 .5 .6 .9 .6-2.3 .5-.2 .9 1.5 1.2-2 .7-.3 1 1.5 .7-.8 1.2 .1 .7-.3 .8 2.1 .9-1 .6-.4 1.1-.6 .6-.1 .6-1.3 .5 1.5 .4-.1 .7 1 1 .6 1 .2 .7-.4 .7 .1 1.2 .6 .8-1.3 .7 .5 1.2-0 .5-1.3 .8 1.6 .4 .3 .9-1 1 1.4 .7-.7 .7 1.8 .9-2.4 1.1 0 .8-.8 .4 1.8 .5-1.5 1 1 .9-1.9 .5-.4 .7 .8 .8-1.1 1 .5 .9 .7 .4-1.2 1 1.2 .7-.9 .5 .1 .6-.6 1.2-.2 1.1 .5 .7-1.1 1.1 1 1.2 .2 .7 .1 .7-.9 1.1 .5 1.1 1.7 .5-1.1 1.1-.7 .9 1.3 .9-.8 .9-1.5 1.2 2.3 .5-2.5 .5 1.8 .5-1 1.1 2.3 .8-3.2 .8 1.2 .8-.3 .5-1.3 1.2 2 .7 .8 .9-.9 1.1-0 1-.5 1.1 1.5 .7 .8 .9-2 .6 1.5 .6-.4 .6 .5 1.1-1.1 1 .3 1.1-.5 1.2 1.8 .4 .3 1-.3 .9-1.5 .7-1.2 .9 1.4 1.2-.9 .4-.7 .9 1.7 .6-.7 1 .5 1.1-.7 .5-.1 .9 .8 .9 1.3 .7-1.2 .9-.3 .8 1 .7-1.3 .5 .6 .8 .1 1.2 1 .5 .2 1.1 .5 .6-2.8 .6 3 .6-.3 .7-.2 .4 0 1-.4 .7 .5 1.1 .1 .5 .5 .9-1.8 .6-.5 .4 .8 .9 3.1 .9-4.1 1 2.4 1.2-2 .6 1.4 1 1.1 .5 .1 1.2-1.2 .6-1.2 .8 1 1.1-.9 .5 .8 .6-.1 .9 .3 .9-.6 .8-.9 .8 1.5 .5 .5 1.1 1.6 .7-2.4 .6 .4 .8 .9 .8 .6 1.1-.6 .6-.6 1.1-.1 1 .4 .9-.8 1.2 3 .8-3.7 .7 1.9 1.1-.6 1-1.1 .8 .9 1.2 .3 .9 .7 .9-2.1 .5 .8 .7 1 .4-.2 .6 .7 .7-2.5 1 0 .5 .2 1.2 2.4 1.1 .3 .8-.9 1.2-1.3 .9 1.1 .9-.9 .9 .5 1.2-.7 .9 .9 .8-2 .7 1.9 .9-1.7 .8 1.3 .7-.5 .9-.5 1 1 .5-.7 .4 .1 .6 1 .9-.8 .7 2 .8-2.2 .8 1 1-1.2 .5 .4 .8 .7 1-.1 1.1-.6 1.1 1.6 1.1-1.5 .8 0 1 .3 1.2-2.2 1 2 .7-1 1.2 1.1 .9-2 .8 3.4 1-1.5 .8 1 .9-1.1 1 .7 1.1-2.7 1.1 1.6 .7 .4 .7 .2 1.1-1.1 1 .1 1.2 .1 .6 0 .9-1 1.2 1.5 .9-.1 .4-.1 .5 .2 1.1-.4 1.2-.3 .4-.7 .6-1.4 .8 4 .9-1.9 .8 1.7 1-.7 .9-1.1 1.1-.9 .9-.1 .9 1.7 .5-2.7 .5 2.1 .5-.8 1.1 .5 1.2-.6 1.1 .1 .6 1 .8-2.2 1.1 .4 .5-0 1 .5 .9 1 .9-.5 .7-.8 .4 .5 .6-1.6 1 2.7 .6 .2 1 .4 .5-1.1 .9-.2 1 1.1 .8-1.2 .5 1.3 .4 1.3 1.1-2 .6-.8 .6 1.3 1.2 1.2 1.1-1.5 .4 .1 1 .3 1-.4 .7 1.2 1.2-.1 .9-2 1.2 .5 .7-.1 .4 1.6 1.2-1.6 1.2-1.3 1.1 .5 .6 1.5 .8-.6 .4 .6 .5-.7 .9 .5 .9 1.1 .9 1.1 .9-2.7 .8 1.6 .5-2.1 .5 0 .9 .9 .6 .2 1 .1 .4-.8 .8 .3 1.2 3 .7-4.2 .5 3.6 .7-.5 .5-.9 .8-.2 1-.1 .7-1.3 .8-1 .6 1.2 .9-.7 .8 1.7 .6 .5 .9 1.9 .7-2.8 .7 .3 1.1 1.2 .7-2.1 .7 .8 .7 .6 .6-1.7 .5 .8 .7-.5 .6-.6 1 1.5 .9-.8 1.1 .6 1.1-.4 1.1 .8 .9-.4 1.1-3.2 .8 1 .9 2 1 1.4 1.2-3.9 1.1 .9 .6 1.1 .6 2 .7 .2 1.1-1 1.1-.5 .7-.4 .6 .9 .9-.6 1.2 .1 1-1 1 1.3 .5-1.9 1 2.3 1-.7 .5 .2 1-2.1 .7 2.5 .5-0 .9-2.1 .9 2.1 .8-2.4 .5 2.8 .8-1.3 .4-1.2 1.1 1.4 .9 .3 .8-1.8 1.1 .4 .5 .8 1.1-1 .4-.4 .6 1.2 .9-.8 .4 0 .6 2.1 1-3.3 .5 .6 .6 2.3 .8 .6 .6-2.1 .5 1 .9 .4 .7 .9 1.1-.5 .7-1.4 1.1 .5 .6 .8 .7 .4 .9 .1 .8 .2 1.1 .6 .9-1 .9-.8 1.1-1.5 .6 .3 .7 2 .9-2.2 .5 3.3 .7 2.4 1.1-6.2 .6 .9 .5 1.5 .8-1.2 1 .7 .4-.3 .6-1.6 .8 2.3 1.2 .6 .8-1.2 1.1-.8 .4 2 .4-1.9 .6 1.7 .9 .9 .7-1 1-.9 1 .7 1.2 .5 .4-2.1 .6 2.4 .6-1.6 .6 1.2 .8 1.4 .6-3.5 .5 .9 1.2-.8 .4-.4 .6 1.3 .6 .6 .6-2.1 .9-.1 .4 1.6 1-.2 .9-.7 .7 2 .5-1 1.1 2.1 .6-.8 1.2-.6 1.1 0 .6 1.6 .8-1.8 .9 .4 .5 1 .6-1.9 .5 1.5 .7-2.2 .7 1 1.2 1.1 1.2-.8 .6-.8 1-.1-539 .3"/>
<path class="d" d="M1355.9 395.5l.5 2 1-3.3 .8 2.7 .9-1.6 .9 1.4 1.1-6.3 1 7 1.2-1.5 1.1-2.6 1.1-.5 .5 4.8 .6-1.1 .6-4.4 1.1 1.2 .5 4.7 1.1-9.3 1 5.4 .5 1.5 .9 1.1 .4-1.4 1.1 1.5 .8-3.5 .8 4.8 .6-6 .4 2.8 .5-4 1 2.9 .7-2.8 1 1.6 1.1 7.1 1.1-4.8 .9 .1 1.1 2.6 1-4 .7 4.2 .7 .1 .8-5.7 .7 1.6 .7-3.5 .6 5.8 1.1-5.2 1.1-0 .9 0 .8 4.9 1.1 1.3 .7-1.8 .8 1.7 .4-.7 .9-0 .4-6.1 .4 6.1 1-2.8 1.1-2.1 .9 6.8 1.2-10.2 .6 7.7 .5-3.9 .9 .2 .6 1.1 .7 .1 .9-.4 .7-4.8 1 7.4 .5-.3 1-4.5 .6 4.4 1.2-3.5 .6-2.3 1.1 3.9 .7-2.9 .7 1.6 .7 2.2 1.1-4.3 .9 4.2 .6-.5 1.1 1.3 1-4.7 .9 2.1 .7 2.5 .9-1.8 1 2.5 .6-3.3 .5-.5 1-3.5 .6 2.6 1.1 4.9 .9-2.3 .8 .5 .9-1.9 .4 4.8 .9-1.6 1.1-2.5 1.1 4.2 1-1 1.2 2.1 .8-4.3 .8-2.2 1 2.4 .6-7.5 1.1-.3 1.1 5.5 .5 1.7 .9-.7 1.1 5.8 1-2.1 .9-3.7 .8-2.3 .9-1 .9 5.7 1.1-1.9 .7 2.5 1.1-6.4 .9 1.7 .6 7.2 .7-7.6 .9 7.1 1-2.3 1.1-3.6 .9 5.7 .8 .4 1.1-2.8 1 2.5 1.1 1.3 .8-2.6 .7-.8 1 6.7 .8-4.1 .7 2.4 .9 .4 .8-3.8 .5 .1 .7 3.7 .6 .1 .7-9.4 .6 9.8 .6-6.3 .5 4.5 .8-7.2 1 4.7 1.2-.7 1.1 4.2 .8-2.6 1.1 1.2 1.1-3.8 1.1 1 1.1-1 .4-3.8 .6 4.5 .8-4.1 .4 1.3 1-2.7 .6 5.3 .8-.4 .6-.2 .8 1.9 .6-5.9 1.1-4.2 .8 5.8 .8 .4 .8-.6 1.2 2.2 .6 .7 6.4-34.1 .5-1.3 1.1-5.6 1.2-2.8 1 10.3 .7-4.6 1 2.7 1.1-.9 .7 4.7 1-3.7 .8 3.2 1.1-3.6 1 5.7 .5-2 .8-2.8 .9 .6 1 .6 .5-.5 .8-4 1.1 6.6 .8 2 .7-2.9 .5-5.8 1 8.2 .6-3.2 1 .3 1-1.9 .8 1.4 .9 1.2 .6-1.1 1.1-4.3 .8 4.4 .5 1.4 .4 .9 1.2 .8 1-4.1 .7 .8 .4 2.7 .9-.1 .9-6.5 .7 1.1 .5 4.9 1-.6 1.2-2.8 .4 4.1 .7-3 .5-1 .5-.4 .6-4.9 .9 6.3 1-6 .9 1 1.2 3.6 .8-1.6 1.1 2.8 1-2.4 .7 1.2 .9-1 .4-2.4 1.2 .8 .8 1.4 .4-.9 .8 4.7 .8 1.3 .9-1.5 .4-2.6 1 1.3 .6 .9 .7-.7 .5 .7 .9-3.6 .4 .3 1.2 3.5 1.1-4.6 .5 4.2 .8-.3 .6 .4 1.2 2.6 .9-.9 .9 1.2 1.2-.9 .9 2.5 .9-1.5 .6-5.6 1.2 6.9 .5-2.8 .9 6.6 1.1-3.4 1.1-3 1.2-.3 .5-2.4 1.1 1.7 .9-3.2 1.2 4.4 .9-.2 .5 4 .8-4.4 .5 5.9 .7-.6 .4-3.7 1.1-2.4 .9 .4 .9-3.5 .9 9 .8-3.1 1.1-3.3 1.2 5.4 .5-1.5 .7-1 1.1-2.9 .9 2 1.1 2.9 .6-3.8 .5 7.9 .6-1.4 1.1 1.7 1-.1 .5-.6 .9 4.5 .8-5.9 .9-4.4 .8 1.8 1-2.7 .7 5.5 .4-4.8 .9 2 .4-.1 .7 1.1 .7 1.3 .5 4.8 .7-10.2 1.2 9.1 .9-0 .9-2.1 .7-2.3 .5 .7 .6 3.2 1-1.3 .5 1 .8-.5 .4-6 1 3.6 .7-4.7 .5 1 .6 2.8 .6-6.1 1 7.4 .9 1 .7-2.5 1.1 1.5 .5-1.3 .4-5.8 .8 3.4 .7 .8 .9 .3 .8-3.7 1.1 3.1 .4 3 1.2-1.1 .6-3.3 .9-3.5 1 3.7 1 4.4 .8-6.8 .7 1 .8 3 .6-4.8 .7 2.8 1-.3 1.1 3.9 1.2-4.5 .6 1.3 .6-1.8 1.2 .6 .4-4 1.1-.2 .4 7 .5-8.8 1 3.8 1-3.9 .4 4.2 .5-1.5 1.2 6 .5-6.9 .4 3.9 1.1-1.3 1-4.3 .9 7.3 .4-3.6 .4-.1 .7-2.6 1 10.8 .4-9.1 .7 1.8 1.2-5.5 .4 .9 .6 7 .7 2.6 1.1-.1 .4-4.3 .9 3.4 .7 1.9 .6-8.2 1.1 4.5 1 2.1 .6 .8 1-3 .6 2.5 .6-5.2 .6 1.7 1.1 1.6 .9 7 1.2-10.4 .5 11 .7-10.1 1.1 2.7 1.1 2.6 1-3 .7-4.7 .5 1.5 1 1.4 1-.4 1.2 5.3 1.2-.9 .7-2 1.1 1.8 1.1 1.8 .6 3 1.1 1.4 1.1-4.5 1.1 2.5 1.1-5.8 .9-1.1 .6 3.4 .4-3.2 .6 4.1 .6 2.2 .7-1.1 .7-9.9 .8 9.3 1 .1 .9-1.9 .4 .5 1-2.3 1.2 3.4 1-.2 1.1 3.7 .7 .9 .9-4.9 .6-1.9 .6 2 .4-2 .7-3.4 1.1-2.1 1 7.8 .6-2.4 .8 2.8 .9-1 .7 .5 1 3.6 1.2 2.9 .6-4.1 104.5-13.6 1.1-9.2 .5 8.2 .4-.5 1.2 .1 1-5.1 1 2.1 .4 .1 1 3.9 .9-1.7 .4 .7 1-.7 .8-2.3 .5 1.3 .5-.6 1 3.4 .7-5.9 .9 3.4 .8 1.9 .4 1.3 .9-.1 1.1 0 .9-4.1 1.1-1.6 .7 7.8 1-4.2 .9-2.3 .8 2.7 .7 .2 .6 1.3 1.2 .7 1-1.3 .8-.5 1 2.4 1.1-1 .9 3.3 .5-7.8 .7 7 .6-7 .4 6.1 .5 1.7 .6-4.9 1 6.3 .5-.9 .5-2.6 .6 2.8 .8-2.6 .9 2.1 .6 2.9 .4-3.6 .7 .9 .8-6.3 .7 6.4 1 1.1 .5-5.1 .8 3.1 .8-2.3 .9 5.1 .9-3.1 .6 2.2 .9 2.8 .5-8.4 1-1.2 .5 5 1.2 2.6 1.1-10.1 .7 2.7 .7 5.4 .5-6.1 .7 6.1 .5 6.5 .4-9 .7 7.3 .5-8.5 .5 4.6 .5-1.2 1.2 3.7 .5-6 .4 4.9 .5-.7 .9 2.7 .9-13.2 1.2 11.7 1.1-7.9 1.1 4.3 .8-3.3 .4 2.2 1.2-1.9 1.2 5.6 .5 .9 .4-6.1 .7 3.9 1.1 3.3 .5-7 .5 1.6 1.1 2.6 .4-2.3 1.1 4.9 .8-7 .8 4.4 .9 2.7 1.2-8.1 1.1-3.4 .4 4.6 .9-1.9 .5 3.5 .9-3.1 1.2-4.7 .8 5.4 .7-7.1 1 12.6 1.2 1.9 1.1-6.9 1.1 .1 1.1-.9 .6 3.5 .9-2.9 .7 2 .5 .7 .8-2 1 3.5 .8 3.2 .6-.1 1.2-1.9 .8-4.2 1 1.2 1 3.6 .6-5.5 .9 .7 .4 .9 1-3 .7 .2 .8 1.1 .8 1.9 .7-.7 1.1 .9 .4-6.7 1.2 5.9 .9 1.5 1-5.4 1-1.3 .9 3.4 .9 .3 .5-.8 .8-.6 .6-4.5 .4 4.7 .5-3.7 .9 4.4 .9-.6 .6-1.7 1.2 2.1 .5 3.7 .5-.6 .4-1.7 .8-3.1 .8 .1 .5 5.8 .5-10.3 1 5.4 .7 2 .6-4.3 .6 3.4 .6-.2 1.1-1 1.1 2.6 1.1 1.9 .8-6.7 1.1 3.8 .7-2 1-0 1-2.7 .5 6.9 1-3.1 .9 .7 1-1.9 1 3.3 .5 .7 .9-1.9 .6-2.1 1.1 4.9 .4-.5 .6-3.8 1.2 .9 1.1-.3 .5 4.4 .5-1.1 .4-.2 1.2-2.3 .5-.2 .7-1.6 1 1.6 .8 4.5 .8-3.1 1.1-7.4 .6 10.7 .8-1.6 .8-2 1.1-3.8 .6 2.1 .5 1 .9-2.7 .5-1.7 1.1 .5 .9 1.1 .5 1.7 .9 .1 .9-2.3 .6 4.1 .4-1.9 .5-2.8 .7 1.3 .6 .2 .8-.9 .9 4.2 1.1 3.5 .7-13.2 1.1 5.7 1.2 2.1 1-6.8 1 1.7 .9 .5 .7 1.5 1-3.4 1.2 4.1 1.2-2.3 .7 2.6 1.2-.1 .5-5.8 1.1 2.1 .9-4.2 .8 3.9 .6 3.6 1-.3 .8-10.1 .8 6.1 .5 .4 .8-.7 .6 4.9 1.1-3.4 1.2-4.1 .8 5.5 .7 .6 .4-6 .7-2.9 .7 8.2 .9-3 1.2 3.6 .9 0 1.1-1.5 .6 2.7 .5-1.6 .5 2.5 .5-1.6 .5 4.8 .5-6 .6 5.3 .9-.6 .4 1.4 .5-.1 .7-2.5 .9 4.1 .6 8.3 .4-14.9 1 1.1 .6-.6 .5 0 .6 .8 1 2.3 .4 6.7 1-7.7 .4 .1 .6 .7 .6-3.3 1.1 .5 .4 2.7 .8-2.4 1.1 3.8 .9-2 .9-2.4 1.1-.5 .6 1.9 1.1-2.8 1.1 .8 .5-1.1 .6 3.9 .8 6 .5-5.3 .7-4.6 .5 4.2 .9-4.6 .8 5.3 1.1 1.7 1-7.6 .7 1.2 1.1 .3 .5 1.3 .6 .4 1.1-.6 .7 3 .7-3.4 .8 6.7 .8-3.5 1.2 3.4 .8-5.3 1.2 7 .8-7.4 .7 2.9 .5 1.8 .4-8 .5-.8 .9 2 .5 .6 .7 .9 1 .9 .5 .4 .9 .3 .5-.6 .9-3.9 .5-2.2 1.1 6.1 .4-1.7 .8 1.5 .7-2.3 .5 2 1.1 2.5 .9-.5 .6 3 .5-11.8 .9 3.3 .6-1.8 .9-2.4 .9 6.1 .7 1.2 .7-6.1 1 1.8 1.1-1.3 1.1 .8 .5 4.8 .4-5.2 .8 7.1 1.2-6.6 .8 .3 .6-2.6 .7 2.7 .9 1 .5-3.2 1.2-1.2 1.1-.6 .9 .8 1 6.6 .9-.7 .9-4.9 .6 .7 .8 2.8 1.1-1.8 .4 4 .6-.6 1.1 1.3 1.2-.8 .4-1.7 .5 1.8 1.1 1 .6-4.1 .8 1.1 1-.7 1 5.1 .6-2.2 1.2-7.3 1 7.1 1 2.6 1.2-4.8 .4-2 .5 4.6 .5-5.1 .7 1.9 .7 7.4 .4-.3 .8-8.5 .7 3.9 .8-1.6 .6-0 1.1 3.6 1 1 1-3.8 1.1 .5 .9 4.3 .5-5.9 .4 3.8 .4-2.5 .6 1.3 1.1 3.4 .6-.2 1-8 .9 6.6 .9-5 1.1-2.3 .6 2.4 1-1.9 .8 7.3 .5-2.8 .8-4.3 .7-1.2 .8 1.6 .8 1.2 .4-3.5 .8 4.4 .6 2.8 .4-1.5 1-7.3 1 2.1 1.1 4.1 1.1 .4 .5-8.1 .7 .4 1 5.8 1-4.7 .4 2.8 .8 1.2 .8-6.6 1.2 8.3 .8-8.6 1 3.4 .5-.3 .7 .5 1 3.3 1.2-5.7 1 3.5 .8 5.9 .5-11.9 .9 10.7 .5-2.3 .8-3.2 .7 4.1 1.2-4.1 .5 .3 .9 2.1 .6 .5 1 .1 .6-2.6 .8 2.5 1.1 1.2 1.1-9.7 .8 1.6 1 5.4 .6-.3 1.2-5.7 1 4.7 1 .7 1.1-.7 .8-1.7 1.1-1.6 .9 2.9 .8-5.4 1.1 3.3 1.1 3 1.2-1.7 1.1 3.3 .7-3.7 1 1.7 .5-.4 .9 4.8 1.2-3.8 1.1 2.2 .7-5 .6 2 .8-2.1 .8 4.1 .5 .8 .7-1.4 .8-2.8 .6-1.4 1.2-.3 1 4.6 .7-8.5 .6 15.4 1.2-9.9 1 .7 .5-.9 .9-2.5 .8 6.8 .6-9.4 .7 9 1.2-1.3 .6-6 .8 1.1 .6-1.1 .5 2.7 1-5.2 1 9.7 1-4.1 .9 .1 .9 1.5 .5 3 1.1-4.6 1.2 3.5 .7 2.1 1-3 .8-.4 1.1 1.5 1-2 1-6.5 .8 .9 .9 2.9 1 4.5 .6-6.7 1 1.6 .6 2.1 .4 2.8 1.2-1.5 .7-.9 .8 .2 .6-0 .9-5.4 .5 4 .5 .7 1-6.1 1.1 2.7 .6 2.6 1.2 6.3 1.1-2.8 .9-4.7 .6 .3 .4 .3 1.1 4.1 1-4.6 1.1 7.3 1.2 .7 1.1-8 1.2 4.4 1 .8 .6-5.3 1.1 3.9 .5-1.4 .5 2.3 .7-2.7 .7-4.4 1.1 10.1 1.1-3.1 .6 .6 1.1-5.8 .8 3.9 .7 2.8 .5 .8 .6-2.5 .9 .2 .6-3.5 .9 6.1 .9-1.8 1.1-.7 .8-.5 1 2.3 .7 4.7 .7 2 1-4.1 1.2-1 .7-3.8 .4 6.8 .8-5.1 .9 3.6 .6-2.3 .6-2.7 .8 5.5 .7-.9 .5-5.2 1 .8 .5 2.7 1.1-.8 .5 3.4 .8-3.6 .9 2.5 1.1 .6 1.1 .8 .6-5.8 .9 1.2 .8 9 1.1-6.2 .8-2 .4 8.4 1-5.8 .5-5.7 1 2.1 .8-1.7 .8 5.9 .7-9.1 1.1 9.6 1.1-0 .7-2.3 1.1-1 .8 .2 .6 1.5 1.2 .9 .9-6.2 .8 5.1 .5-.8 1 2.8 .6-2.8 .6-4.7 .8 5.6 1-.3 1 6.1 .7-4.1 .5-5.3 .9 2.6 1.1 2.6 .6 3 .9-4.4 .5-3.5 1.1-0 1.1-.7 .8 1.8 .4-2.4 .8-1.9 .4 5.8 .6-.8 .5 2.4 .5-7.8 .5 4.4 1.1-.1 .8 2.4 1-5 .6-1.6 1 5.9 .9-.3 .9-3 1.2 .2 .5-.2 .9 1.4 1.1-1.3 .9-2.1 .7 4.1 .5-3.1 .5-5.5 .9-.9-960.1 24.1 90.3-17.4"/>
<path class="n" d="M1356 384.7l.9 4.6 .8-8.7 .6 15 .9-7.8 1 1.2 .5 1.2 .8 5.7 .6-8.2 1.1 15.2 .9-10.2 .8 1.5 .4-3 .6-.5 1.1-1.4 .9 .8 1-4.1 1.1-.3 .9 6.3 1.1-3 .7-5.1 .4 1.4 .6 1.4 .9 5.5 .8-6.5 .5 6.3 .8-17.6 .5 12 .6 .4 .9-.2 1 6.8 .7-3.7 1.1-9.8 1-1.5 .4 5.7 .9 14.4 1-14.1 1.1 4.5 .4 8.5 .7-15.2 .6 12.5 1.1 1.8 1.1-7.5 1 1.5 .8 .2 1.1 .2 1.2 3.6 1-11.2 .5 12 .8-3.6 .6-1.9 .5-1.9 .6 1 1.2-1.1 .9-.3 .7 3.3 1.1 8.7 .8-10.6 .5-.1 1.1 10.3 .7-12.8 1.2 6.7 .8 .6 .6 .7 .4-8.1 1.1 1.6 .6 1.8 .7 7.6 1.2-10.5 .8 4.5 .4-1.3 .4 1.5 .4 6.2 .5-11.2 .9-.6 .8 9.6 1.1 .3 1-4.5 .6 8.5 .9-4.6 .7 4.8 .7-12.6 .9 15.7 .4-13.4 1.1 8.6 .8-2.3 1-8.4 .8 8.2 1.1 3.6 .6-.9 .6-5.5 .5-2.7 1.1 2.6 1.1 1.8 1.2 2 .5-.4 .9 2.4 1.2-4.1 .9 2.8 .7-14.8 .6 15.8 .6-3.2 .9-5.6 .8 1.2 .4-.9 1.1-2.5 1 1.9 .9 7.4 .4-.2 .7-3 1-4.3 .5-5.5 .7 11.7 .8-10.1 1 11.9 .4-8.1 1 1.7 .7-.1 .9-10.3 .4 5.2 .6-4.5 1-.6 .8 5.5 1.1 3.2 .7-4.4 .8 15 .6-11.1 .4-1.9 .6 4.4 .7 6.6 .9-9.9 .6-3.1 .7 6.8 .4-6.3 .9 5.1 .6 .7 1-7.3 .8 4.5 .9 4.4 .8-2 .5-6.4 1 4.9 .6-14.3 .9 10.5 1-2.2 1.1 5.5 .7-3.5 .8 3.1 .9-6.1 1.1-1.6 .4 3.8 .9 .9 .8-.3 .8 .4 1 2.4 1.2 1.1 1.1 .1 1 4.8 .7-6.1 .8-2 1.1 7.8 .8-3.5 1.2-5.4 .8 1.4 1.1-2.6 .8-4.3 .8 1.5 .6 1.6 .6 2.9 .5 1.2 .4-6.1 6-21 1-5.3 .6-9.2 .9 10 .7-2.3 1 0 .7 6.2 .7 1.5 .8-3.1 1.1 .8 .8 2.2 .9-6.4 .5 11.2 1.2-2.6 .9-10.7 .9 5.7 1 10.1 1.2-12 .9 8.1 .6-5.3 .8-5.9 1.1 11 .8 3.3 .7-9.9 .5 3.3 1 1.9 .4-4.8 1.2 3.8 .4 4.4 .5-1.5 .6-.7 .6-2 .5-3.3 1-9.2 1 4.8 .8 10.3 .8 .4 1-7.7 .7 3.8 .4-5.8 .9-3.3 .4-3.3 .4 8 .7 .2 .9-7.6 .9 6.8 1.2-3.2 .6 9.7 .9 4 .7-10.6 .6 .7 1-5.6 .4 3.7 1.1 18.8 1.1-20.4 .5-.2 1.1 3.6 1.1-4.3 .4 7.8 1.1-4.8 1-7.9 1 16.4 .7-4.1 .7 4.2 .6-6 .6 2.6 1.2-2.3 .4 11.3 1.1-11.1 .6-3 .6-6.1 .8 5.7 .8 10.7 1 1 1-5.1 .9-3.9 1-4 1.2 4.6 1.1 1.8 .5 5.8 .5-3.6 .4 1 1.1 3.4 1-2.3 .4 1.7 1.2-7.7 .9-1.3 .5 2.2 1.1 3.3 .7-10.1 .5 13.7 .4-9.8 .8 5.5 .6-5.1 .8 2.1 .5-.1 .6 1.7 .6-.1 .9 3.3 .4 3.1 .9-4.4 1.1-2.7 .5 .1 .5-4.4 .8 3.7 .4 2.7 1.2 11.7 1.1-10.1 1-5.4 .9 8.8 1.1 5.2 .8-3.8 1-5.3 .6-2 .6 8.4 .8-5.7 1-2.1 .5-2.9 1.2 10.7 .5-4.1 1 3.6 .7-7 .8 4.9 1 4 .7-6.5 .8 .9 .5 .9 1.1 .2 .6 .6 .5-13.6 1.1 4 1 4.7 .8 3.8 .7-4 .6 10.5 1.1-9.6 .5 .3 1-7.9 .7 2.8 .6 1.7 1.1 9.2 .9-6.9 1.1 1.7 1.1-3.3 .7 2.2 1-3 1.1 .5 .9 10.6 1.1-14.6 .9-5 1 13.7 .4-1.6 .9 4.8 .9-9.5 .6-3.6 1.1 6.6 1.1-6.6 .7 10.8 .5-9.3 .6 4.6 .7-.6 1.1 6.4 .9-7.3 1.2 5.9 .8-7.9 .4 4.7 .5-.6 1.1 3.2 .9-5 1 2.3 1.1-8.3 1.1 13.1 1-11 1.1 .9 .4 5.1 .6-4 .5 1.1 1 2.4 .8-4.9 1.2 13.6 .8-4.5 .6-6.6 1 4.7 1-2.7 .6-5.2 .7 12.1 .6-5.1 1.1 6.5 1.1-5.2 .7-12.9 .6 15.2 .5-5 1.1-5.2 1 5.5 .6 2.4 .9-8.7 .8 1.8 .5 6.6 1-1.2 1.1-7.3 .9 6.4 .6-8 .8 3.9 .9-4.5 .7-3.3 .5 4.5 .8 4.5 1 6.4 .7 1 1.1-2 .4-1 .8 1.1 1.2 .6 .7-.9 .8-4.2 .8 2.6 .5-5.1 1 6.4 1.1 4.4 .9-7.4 .9 7.7 .4 1.2 1.1 2.4 .7-4 .8-2.3 .6 1.9 1.1-8 1 4.7 .7 .3 .5 .4 .7 .1 .8 3.4 1.2-5 .4 5.6 .4-7.8 1.1 .1 .4 7.3 .8 7.4 1.1-10.1 .8-8.6 .7 3.8 1 12.1 1-1.4 .6-7.1 .6-9.8 .9 10 1.1-.7 .9 .2 .8 4.7 .9-5.3 1.2-8.1 .7 7.1 .5 4.2 1-8.3 .7 1.8 .8 9.3 1.1-4.9 .8-2.6 .5 7.2 .7-8.7 .6 6.3 .8 10.2 105-27.1 1.1 5.8 .9-7.2 1.2 9.2 1.1-5.8 .4-2.9 1.2 8.3 .8-6.5 .9 11.5 .9-11.9 .6 3 .9-1.2 .6-5.5 .9-3.9 1 6.1 1.1-.6 1.1 .6 .6-4 .5 .8 .5 8.9 .8-3.6 .7-0 .8 3.3 .5-7.9 .9 2.8 .7-5.1 .6 8.6 .4-7.2 .7 2.3 .6-1 1.2-.9 .8 7.3 .8 3.5 .8-7.6 .9 10.4 1-6.6 1.1-2 1.1 5.4 .8 7.4 1.1-17.9 .9 7.2 .7-2.5 .6 .3 .6-1 .6 3.3 .6-4.9 .5 7 1.2-4.7 1 3.9 .7 .3 .6-2.5 .6-1.9 .8-3.3 .6 .7 1.1 1.4 1 5.4 .5-3.8 .6 10.9 1-1.9 1.1-2.4 1-7.4 .6-.5 .4 4.5 .5-6.2 .5 1.1 1.2-2.6 .8 5.7 1.1 1.5 .6 4.8 1.1 .6 .5-.9 .8-3.6 .7 5.2 .5-3.4 .6-.2 1-9.2 .5 9.7 1.2-2.9 .9-5.9 .7 3.4 .5 2.9 1-7.3 .6 14.4 .8-2.9 .4 1.3 1.2-4.5 .8 5.1 .4-2.8 .5 6 1-2.7 1-8.3 1.1-2 .6 6.5 .6 8 .8-9 .7-1.5 .8-0 .6 8.9 .7-13.9 1.2 8.4 .6-4.3 .7 4.8 .6-4.1 .5 2.1 1 1.3 1.2-8.7 .8 12.2 .9-1.4 .5-8.5 .7 7.2 .6-.5 .4-2.3 .4-10.8 .6 19.8 1-5.5 1.1 1.2 .8 3.6 .8-10.2 .8 5.1 .5-2.2 1 .1 1.2 9.1 1.1-17.8 .5 14.6 .9-11.5 1.2 5.4 1.1 .5 1.1 6.3 .5-2.5 .6-1.5 .5 5.8 .9-13.8 .9 2.2 1.1 8.4 1-.5 .5-4.2 .9 .8 .6 12 1.1-6.5 .5-1.7 1-14 .9 11.7 .6-3.4 1.1-1.6 .6 3.8 .6 7.2 1 2 1.1-10.3 .6-5.7 1-4.3 .9 4 .7 1.2 1-2 .6-.6 .5 9.1 .4 3.1 .6-6.8 1.2 4.6 1-1.9 .8-1.2 .7-9.9 1 6.1 .6 2.1 .8-4.3 1.1 .7 .7-3.6 1.1 4.5 1.1 2 .5-3.5 1.1 2.2 .9 1.3 .6-4.1 .7 .9 1 4.5 1.1-7.1 .8-1.5 1.2 4.5 1.2-8.5 .6 14.6 .9-6.5 1 1.4 1.1-7.4 1.2 8.9 1-3.2 1.2 2.5 .8-11.1 .4 3.9 .9-2.9 .9 3.2 .5 10.8 .9-12.7 .5 .4 .7 11.7 1-1.7 .7 6.4 1.1-13.8 .8 4.2 1 2.1 1.1-3.4 .5 5.7 .9-12.4 .7-7.3 .4 22.7 1.2-1.6 .4-5.9 1.1-0 1-.1 .6-5.3 .5 2.5 1.1 .8 1.2 .2 1 1 .6 .1 .6 1.5 .5 4.5 .5 .1 1-5.6 .7 2.6 .7-0 1-4.8 1.1 12.4 .7-10.3 1.1 2.1 1.1-4.5 .5-2.1 .6-3.8 .9 3.7 .8 4.3 .9-.5 .6-5.5 .7 4.1 .9 3.9 .6 .4 1 .5 .9-1.2 .6 2.2 .7-6.1 1.1 2.1 .8-4.3 .7 6.2 .7 1.2 1.1-2.7 .7 1.9 .9-5.9 .8-3.5 1.2 2.6 .5 8.8 .5-2.1 .6-11.2 .9-2.2 .4 6.5 .9 8 .4 1.9 .7-2.7 .5-4.9 .9 4.7 .7-2.2 .6 1.1 1 3.1 .9-2.5 1-2.9 1 2.2 1-4.1 1 12.4 .5-10.9 .8 5.3 .8-10.1 1.1 2.3 .4 5.1 .5-.7 .5-4.7 .8 8.8 .7-9.3 .4 5.8 .6-7.9 .6 7.5 1 5.8 .9-10.4 .7-2.7 .6 8.6 .9-10.1 1.2-6 .6 .7 .8 1.8 1.2 7.4 1.1-10.7 .6 1.8 .8 7.1 1-4 1 6.4 1.1-1.9 .8-.1 .9-5.1 .8-3.7 1.1 3.3 .8 5.3 .5 5.3 .5-10.6 .7 11.8 .6-9.5 .7-3.1 .5 5.7 1 7.2 .7-4.8 .6-.2 1.1-.4 1-6.7 .6 12.7 .8-11.7 .9 12.2 1.1 .3 .8-6.3 .4-7.9 .8 4.2 1 1.7 .4 .7 1-5.1 1.1-.4 .7 2.8 1.1 4.6 .8 7.1 .9-5.4 .9 5.8 1.2-5.8 1-1.3 1.1-.3 .7-5.3 .8 11.7 1-11 .5 12.5 .6-7.4 1.2 10 .9-6.2 1.1-2.7 1-4.4 .7 1.6 1.2-3.4 .4 9.6 .9-1.5 .5-11.4 1.2 16.9 .8-.3 .9-8.1 .8 3.8 .6-3.8 1.1 4.9 .9-.7 .9-13.3 1.1 13.7 .6 1.9 .4-9 .9 9.7 1-9.9 1 8.9 .7-8.4 1.2 1.5 .9 4.4 .5-1.8 .5 5.4 .9-9.9 1 11.4 1.1-2 .7-2.1 1.1-11.1 1.2 10 .4 2.7 1-4.1 1 5.1 .5-10.7 .6 .4 1 3 .6-6.6 .7 2.7 1.1-6.4 .9 11.1 1.2-4.9 .4-1.1 1.1 11.7 .4-8.7 .5 2.9 .4 1.5 .7 5.9 .8-12.3 .8-0 .6 8.1 1.2-4 1.1 2.9 .8-2.3 .7 2.9 1.2 2.7 .4-9.1 .9-1.7 .4 .4 1 6 .4 3.6 .6-5.1 .6-2.7 1 2.4 1.1-.4 1 3 .8-4.5 .4-7.7 .8-1.3 1.1 12 .7-9.7 .6 19.1 1.1-5.8 1-13.7 .8-1.3 .6 2.6 1.1 5.2 .5-7 .5 6.9 .7-6.1 .8-.6 .8 6.9 1.1-4.6 1.1 1.1 .5 2.9 .6 .7 .8-10.2 1.1 7.1 .9 2.3 1-6.3 .6 6.6 1-2.4 1.1-3.4 1.1 15.3 .6-.4 .8-12.1 .9 3.7 .6-8 1 1 .7 1.4 .9 .4 1.2 .4 1 .1 1 1.1 .6 4.6 .9-5.3 .8 1.4 .7 5.1 .6 4.6 1.2-9.3 1.1 1.4 1.2 5.4 1.1-7.4 .5 5.2 1 3.3 .4-.6 1.2 2.3 .7-10.5 .9 5.6 .7-1.8 .5-1.7 1.1-8.1 .6 6 1-6.4 .4 13.9 1 6 .7-6.8 1.2-.7 .6 1.8 .8 6.8 .6-.8 .5-10.6 .8 16.1 .9-10.4 1-5.4 .7 2.7 1-1.1 .7 2.8 .9-3.6 .8 4.7 1.1-8.2 .7-.9 1.1 6 .5-4.5 .9-.4 1.2 7.9 1-2.9 1.2 2.5 .9-7 .6 7.4 .5 1.2 1.2-6.7 1.1 3.3 .4-4.2 .6 1.4 1.2 2.7 1.1-6.5 .7-6.8 1.2 14.2 .4 2.6 .5-13.1 .5 10.9 .7-7.5 .9-.3 .8 14.9 1-5.1 .6-16.2 .7 10.2 .8-9.5 .5 9.2 1 2.1 1-8.1 .8 8.7 .6-2.7 .6-2.4 1-5.8 .6-2.1 1.2 4.5 .8 6.5 .6 1.4 .7-2.9 .4 1.2 .7 3.5 .6-7.1 .7 2.3 1-6.1 1.1 8.1 .6 8 .5-9.8 .8 5.4 .7-2.3 1.1 .6 1.1-4.1 .8 .5 .7 .6 .7 8.9 1.1-9.6 .9 7.9 .7-1 1.1-7.5 .5 5.3 1 .9 .7-6.3 .5 3 .9 1.9 .6 1.1 .5 1.5 .4-4.6 .4 4.5 .7-4.5 1-9.4 .9 9.7 .5-2.8 1.1 1.5 .5-7.7 1.1 9.8 1.1 1.3 .4-3.5 .5 3.6 .7-3.2 .9 4.4 .8 .9 .9-4.8 1.2-1 1 .1 .6-6.1 .9 8.3 .6-5.5 .5 .5 .4-.4 1.1-.8 .9 .9 .7-2.7 1-2.3 1.2-1.6 .8 3.5 .5 .3 .6 3.3 .8 2.7 .7-2.9 .7-4.2 .5 10.5 .8-3.7 .9-8.1 1.1 9.6 .5-.1 .8-2.4 .6 .4 .8-4.6 1.1 1.7 1.2 7.9 .7-1.9 .5-7.8 .7 6.2 .8-7.7 1.2 7 .5 1 .5-1.7 .9-.1 .6 6 .7-10.9 .7 5 .9-4.7 .7-5.3 .6 13.3 .9-6.2 .9 2.5 .7 1.9 1.1-2.4 .7-7.7 .8 7.9 .6 1.5 .5-3.9 .7-5.8 1.2 2.9 .6 2.6 .7-.1 .7-3.8 .7 3.5 .9 2.4 .9-1.2 .7-5 1.1-1.8 .6-2.6 .8 4 .8-.3 .9 6.7 .4-1.6 .6-1.4 .4 7.8 1.1-12.6 .5 3.5 1.1-7.7 1.1 15.1 .4 3.8 .6-22.8 1 10.7 .5-7-540 19.7"/>
<path class="d" d="M179.2 1015.2l.8 1.9 .7-4.5 .7 3.4 .5 .7 .8-3.3 .9 5 .7-2 .6 .7 .4 .4 .5-5.8 1 6.5 1.2 3 .8-6.7 1 2.1 .9-1.7 .6-1.3 .5-1.5 .6 10.8 .5-4 1.2-2.9 1.2 .9 .8 3.3 .6-4.6 .6 .1 1.1 2.6 .8-3.4 .8 2.8 .6 2.5 .5-1.4 .7-5.5 .5 6.3 1.1-9.2 .6 8 1.1 2.2 .5-4.4 .6-2.3 1 3.6 1-0 1-.8 1 1.1 .5-1.3 1.1 3.2 .5-4.1 .9 7.9 1-6.4 .6-4.7 .8 3.7 1 1.1 1.1-2.7 1.1-.7 1 7.6 1-6.1 .8-.6 .5 3.2 .9-11.1 1.1 2.4 .8 5.7 .9 1.4 .8-2.5 .7-3.5 .9 .9 .7 .5 1.1 .1 1 1 1.2 2.7 .6 .3 .5-1.6 .8 1.8 .9 3.5 .7-3.1 .4-1.7 1 2.4 .8 1.5 .8-4.6 1 1.7 .5-3.6 .7 5.2 .5 1.1 .6-3.1 .8 .1 1.1 .2 1.2-.7 .7-1.1 .7-1 .9 9.8 1.1-14.5 .5 2.5 .9 6 1.1 2.3 .5-2.3 .9-.3 .7-.5 .8-.1 .6-3 .8 4.8 1 2.8 1 .3 1.2-7.6 .8 8.4 .7-7.6 .7-.5 1.1 1.4 .8 7.3 .5-8.6 .9 3.5 1.1-.4 .6 2.9 1.1-2 .5-3.2 1-1.1 .6 4.1 .6-.5 .9-.6 .7 5.7 .5-3 .7-.2 1.2 1.7 .7 3.3 .6-5.9 .9 1 .9-1.6 .5 2.8 .4-.7 1 7 1.1-.4 .5-5.7 .8 2.7 .7-5.6 1.2 4.3 .8 1.1 .6-1.3 .7-4.2 1.1 5.3 .5-5.1 1.2 1.3 .5-.8 .8 .2 .8 1 .8 .4 .7-2.7 .5 5 .7-2.4 1.1 1.9 1-5.3 .8 3.7 .5 4.5 .8-5.7 1.1 6.4 1.1-1.9 .5-2.2 1.2 3.7 1-6.3 .7-.2 .8 4.4 .7-.5 .8-3.2 1 2.8 .5-2.6 .6-.3 .5 5.4 .7-12.2 .5 9.2 1.1 1.6 .4-2.4 .9 .6 1.2 2.2 1.1-4.6 .8 2.9 .8-3 6.6-40.5 1 3.5 .5-4.4 .7 5.4 .5-4.1 1.1 3.5 .7-4.2 .7 9.8 1-10.6 .7 6.3 .4 .5 1.2-1.2 .5-.9 .5 .2 .7 4 .7-2.8 .5-7.2 .9 9.3 .8-1.9 .6-2.9 .7-1.7 1.2 2.4 .6 2 1.1 2.2 .8-3.1 1 0 .7-.7 1.1 11.2 .4-15 1 .5 1.2 8.3 1.1-6.4 .7-7 .6 8.8 .6-1.4 .7-3.7 1 15.2 .7-6.6 1-2.9 .6 5.2 .9 .5 .5-4.3 .8 4.1 .7-1 .7-5.3 .6 5.2 .5-2.7 1.1-3.5 .8 9.9 1-2.5 .6-1.7 .5-.4 .4 1.1 .7-1.4 1.1-2.4 .7 2.7 .6-6.5 .5 7.6 .6-1.7 1.2-1.6 .7 3.6 1.2-8 1.2 8.2 .8-2.1 1.2 4.2 1-11.2 1.2-1.4 1 .6 .6 7.8 .9-7.2 .9 9 1.1-3.8 1.1 6.3 .8-6.8 .8-1.4 .7 5.1 1-7.9 .6 7.5 .7-5.4 .6 5 .6-4.3 1 1.3 .8-.8 1 2.4 .7-1.2 .9 3.2 .5 .9 .9 2 1.2-3.1 .7-5.4 .7 1.6 .5 .7 .5 5 .9-3.2 1.2 .1 1.2 2.9 .5-7.6 1 13.2 .5-8.5 1.1-1.8 .7 6.9 .4 .5 .4-6 .9-1.7 1.1 5.2 1.1-1.6 1.1-3.2 1 6.6 .9-.9 .5-6.2 .9 4.2 .6-.7 .6 4.3 .9-3.6 .5 3.2 .8-5.4 1.2-0 .6 1.9 .7 3.1 1-1.8 .9-7.3 .4 8.4 .5-4.5 .8 2.8 .8-1.5 .6-.4 .5-3.3 1.1-2.9 1.1 7.1 .7 .8 .7-1 1.1 .5 .9-5.2 .8 .6 .8-1.2 1.1 5.3 .8-.6 .4 .5 1.1 2.2 1 2.1 .6-6.4 .7-.6 .4 4.6 .7-.3 1.1-4 1.1 3.3 .8 1.6 .5-4.4 .9 4.9 1-6.2 .8 7.7 .5-4.1 .6-1.9 .4 1.2 .9-.5 .5-1.1 1.1 1.9 .7-4.5 1.2 4.8 .6-.3 .6-.9 .5-3.7 .9 4.6 .8-3.3 .7-2.4 1 4.3 .7-4.6 .7 .8 .5 .9 .5 3.1 .5-4.7 .6 5.4 .7-3.6 .7-1.7 .5 3.9 1-5 .4 7 1.2-0 .4-4.1 .6 6.9 .9-8.1 .5 6.9 .7-3.6 .5 .7 .5-4.2 1 4.7 .7-3.3 .5-2.2 .5 1 .7-.5 .5 1 .6-.4 .9-2.5 1.2 3.6 1.1-5.6 .5 1.3 .6 .8 .8-1.8 .9 2.6 .5 4.2 1.2-.3 .5 .5 .7 2.4 .9-5 .7 3.2 .8 1 .9-2.7 1-2.4 .6 1.4 .7 3.5 1.1 .4 .9-3.2 .4-.7 .5 4.6 1 .8 .8-3.9 .9 .7 .5-3.6 .9 5.2 1.1-1.2 1.1 .6 .8-.6 .9 .2 1-2.9 .5 5.8 1.1-.4 .9-.7 1.1 2.1 .4-1.4 .5-0 .6-2.8 1.2-3.7 .5 7 .9-2.7 1.1 7.3 .6-1.6 .8-8.1 .5-.3 .4-2.2 1 .2 .8 2.3 1.1 3.6 .5-1.2 .8 .8 .7-1.8 1.1 2.5 1-4.4 1.2 4.2 1-2.1 1 1.3 1 2.3 .5 1.1 .5-1.4 1.1-5.7 .6 7.6 1.2-4.1 .7 3.4 .9-3 .5 5.4 .5-7.3 .7-1.6 .5 12.1 .7-2.7 .7-6.1 1-1.3 1.1-.1 .5 4.8 .9-1.8 .8-1.4 .5 10.5 .8-9 105-1.2 .5 1.3 .5-3.5 .9 4.2 .5-7.9 .8 6.7 .8-2.2 .4-2.8 .8-.4 .7 4.8 .5 1.1 1.2-3.9 .7 9.1 .5-7.5 .9 .2 .9-1.3 1.1 1.4 .9-1.6 .8 3.5 .7 4.9 .5-4.6 .7-2.6 .4 2.3 1-3.7 .5 4.9 .8 1.9 1.1-5.2 .7 5.9 .9-4.5 .6 4.6 .8-9.2 .5 7.5 .9-5.1 1.2-1.5 1 6.9 .5-1.1 1-1 .8 1.8 .6-3.7 .6-1.5 .9 3.7 .9-4.1 .8-.2 .7 2.3 .8 3.6 .8-3.1 .6-4.7 1.1 .4 .7-4 .5 3.1 .7 8.5 .6-5.5 .6-.3 1 3.9 1.1-1.4 1.2 2.1 1.1-5.8 .7 5 .5-1.6 1.1 .2 .8 1.8 .5-4.5 .8 4.3 1.2 2 .8-5.6 .4 5.9 .6-6.3 .8 7.7 .8-6.7 .6 2.7 1.2 1.5 .7-5.7 .8 2.5 .9 1.1 .8 4.2 .8-3.2 .6 0 1.1 .7 .8-2.1 .9 6.5 .4-6.3 .9 3.3 .5-2.7 .8-.8 1.1 1.2 .6 1.5 .8 .6 1-8.5 .9 11.8 .9-8.3 .7-.6 .6 3.8 .5-2.2 1.1-1.1 .7-1.9 1.1-.2 1.1 2.5 1.2 2.1 1.1-3.3 .6 1.2 1.1 .8 1 .8 .6 .8 1.2-11.3 .8 7.6 .7 2.6 1.2-7.9 1.1 1.9 .5 5.6 1.1 .7 .5-5.1 .7-2.3 .5 3 .5-2.8 1 1.5 1.1 2.5 .7-2.5 .5 .1 .7 4 .9-4.2 .6-.9 .6 1.5 .7 .4 .8 4.7 .8-11.4 .7 12 1.2-7.2 .5 .1 .6 2.1 .9 2.9 .8-4.1 .6-.5 1.2 1.3 1 3.9 .9-9.1 .5 3.6 1-2.1 .5 4 1-6.9 .9-4.3 .9 5.3 .7 3.9 .7-4.5 .7 1.4 .8-1.8 .4 2 .7 .4 .4-.7 .8 1.7 1-6.9 .7 4.1 .6 6.7 1.1-9.5 .8-1.6 .8 4.2 1.1 .5 .8-1 .6-0 .8-1.1 1 8 .6-8.9 .8 3.7 .5-.7 .6-.8 .7-2.2 1.2-3.3 1 4.9 .9-4.3 1.2 1.5 .9 3.6 .4-3.1 .5 1.1 1 .3 1.1-2.7 .8 1.5 1 1.2 .4 4.7 .7-2.3 1.1-2.6 .4-4.3 .5 3.4 .7 5.9 .7-8.3 .6 5.4 .6-.1 .5 .9 1.2-7 .7 5.2 1.1-4.7 .8 4.3 .4-6.6 .5 7.9 .9-3.2 .9 .1 .5 .8 1.2 .1 1 4.3 .7 .7 .8-9.4 1-4.8 .9 9.9 .7-4.1 1 3 .6-4.5 1.1 10.4 .7-4.8 .8-1.9 .9-1.7 .5 2.7 1.1-3.6 .8 2.3 .4 .8 1.1 5.8 1.2-5.4 .4-1.1 .7 .5 .5 1 .9 2.3 .6-3.9 1.1-1.1 1.1 6.3 1.2-2.3 .8-1.4 1.1-1.4 .5 .2 .7 2.3 1.2 1.1 .8 .1 .4 .4 1-1.3 .7 .2 .4-4 .9 2.1 .7 1.5 .5-7.6 .5 7.5 1-3.7 1-.5 .4 1 1 2.1 1.2-2.6 1.2-1.5 1 .9 .7 5.9 1.2-3.9 .9-2.3 .5-1.8 .9 .1 .6 4.1 .5-.9 .7-1 .7-.9 .5-4.1 1.1 .3 .6 2.2 .9-1.6 1.2-1.4 1 3.8 1-5.6 1 9.4 .5-3.3 .9 1.1 .7 4.3 1-6 .9-2.1 .9 .5 1 3.2 1-5.2 .9-1.5 .9 4.1 .6-1.7 .8 7.5 .6-6.8 .5 1.3 1.1-2.2 .6 2.8 1-.2 .6-4.1 .9 3.5 .7-1.8 .9 3.8 1.1 9.4 1.2-3 .8-2.2 1.1-4.8 .9 1.3 1.1 5.4 .4-6.9 .5-2.3 .4 6.4 .7-5.5 1-.5 .4 3.7 1.2 7.2 .6-5.4 1.1-1.1 .8 1.5 .9 .7 1.1-.9 .6-7.2 1 7.7 .6-2.5 .7-.2 .6-.6 1 3.6 .8-1 1.1-1.5 1.1 .2 .9 1.5 1-2.7 .7 3.3 .7-5.6 .6 4.8 .7-5.8 1.1 3.6 1-1.3 1.1 1.5 .6-3.9 1-.9 .7 4.9 .7-2.7 .7-3.3 1 3.9 1.2-4.9 .9-3.8 1.1 5.1 .7 4.4 1.1-.8 .7 2.2 .9 .3 .6 7.3 .9-2.7 .9-7.8 1.2 5.4 .8-1.2 1-7.9 1.1 4.3 .9 5.4 .8-6.1 1 3.6 .7-2 .7 5.8 1.1-3.8 1.1-2.5 .7 3.1 .9-4.2 .8 4.3 .6 4.3 1.2-10.7 .9 3.6 1.1 1.7 .7 .7 1 1 .5-7.6 .9 2 1 2.4 .8-1.3 1 .5 .4-2.4 .6-2.6 .7 7.7 1-4.5 .9 4.5 .8-3 .7 .8 .9 2.1 .6-4.3 1.2-2.2 .9 2.9 1.2 5 1.2-6 .6-.2 1.2 1.8 1.1-.4 .9 .1 .9-2.7 1.2 3.9 1 .7 .8 1.2 1 1 .9 6.1 1-8.5 .6-5 .9 4.7 .6-1.4 .9-1.9 .9 .4 .8 2 .6-1.4 .7-1.5 .5-.9 .8 8.5 .8-4.1 .7 1.7 .7-.6 .5-8.7 1 9.1 .7-5.1 .8 .8 .6-2.5 1 5.8 1.1-6.1 .8 7.4 1-3.6 .5 5.4 .7-6 1.1-3.4 .8 5.7 1.1-1.8 .6 3.3 .5-0 .6-4.2 .6 3.1 .6 1.7 1-3.3 .8-7.6 1.1 8.9 .7-9.5 .5 6.6 .8-1.5 .7 .9 .6-1.4 .8 6 1.1-5.8 .7 3.1 1.2-0 .7-3.5 .5 1.6 1-4 .8-2.4 1.1 5 .6 6.8 1.1-8.6 .8 5.4 1.1-4.8 .6 4.5 1.1 3.2 1-4.9 1.2-1.7 1-.6 .5-1 .4-.2 .4 7.7 .5-1.9 1-3.8 1 4.8 .6-10.3 1.1 6.5 .8-2.2 1.1 4.8 .9-5 1 1 .9 .6 .7 1.2 .6-.6 .7 2 .8-4 .5 4.5 1-.3 .4 .4 1.2 .7 1-.9 .5-4.7 .4 2.9 .8 2.9 1.1-1.9 .5 2.6 .8 .5 .5-4.2 1-2.2 .7 2.9 .5 2.3 1-10 .8 6.2 .5 3.9 .5-5.8 .9 3.3 .6 2.2 .9-1 .8-4.7 .6 2 1 5.6 1.2-10.1 .5 7.1 1-1.7 1.2 7.3 .5-7 .7-3.6 .7 6 1.1-3.3 .6-.5 .6-.8 .8-2.8 1 9.8 .6-2.4 1-.7 1 1.8 1.1-3.1 .5 .8 1.2 .4 .5-5.4 1 9 1.2 .7 .7-6.1 .5 1.6 .5 .6 1-.8 .8-1.6 1.1 4 .5-5.9 .6-2.5 .9 3.8 1 2.1 .6-4.3 1.2 2.8 .6 .7 1-.6 .5 .1 1.2-2.1 .9 1.1 .4-.5 1.2 1 1 1.4 1-7.8 .8 7.7 .7-.1 1-2.2 1 6.2 .8-4.8 1.1 1 .5-1.9 .4-3.1 .4 4.2 .7 2.3 .5-12.1 .8 11.2 .8-3.1 1.2 .5 1.2 3.4 .5-3.9 1.2 .2 .7 3 1 .5 .5-1.2 .8 5 .6-1.9 1-6.7 .5 3.4 .4-2.5 .5 4.3 1 4.9 1.1-2.9 .9-4.7 .5 1.9 1-.1 .5 1.5 .9-1.1 .7-2.4 .4 .3 .5-.6 .9 2.4 .9-3.2 1.1 .6 .5 6.5 .8-8.5 .9 3.3 .7 5.7 .8-11.8 .9 11.6 .7-10 .7 3.8 1 .5 1-5.1 .5 4.3 1 .3 .6 3 .9 4.2 .9-8.9 .8 2.7 1 3 .5-2.6 1.2-2.5 .8 6 .8-.3 1.1 3.6 .5-4.5 .5 2.7 .8-5.8 .8-5.7 .6 5.1 .7 8.3 .9-5.2 .9 10.5 1.2-10.2 1.1-8 .6 2.1 .6 8.9 1-5.6 .7 2.1 .9 .6 .8-.7 .7-.1 1.1 0 1-4.3 .5 1.1 .9 9.9 .9-3.1 .4-.6 .7-2.5 .9-3.8 .7 6.9 .8-3.2 .8 1.2 1.2-1.8 1-2.1 .4 7.7 .6-.9 .8 1.7 1 4 .7-7.3 1.1-1.3 1.2 3.4 .6-5.1 .5 2.3 .9-2.3 1-.2 .4 .5 .7-2"/>
<path class="n" d="M179.2 1018.5l1 .7 .7 6.8 .8-2.2 1 6.5 .6-2.9 1.1-1.7 1.1-7.8 .8 6.1 1.1 2 1.1-1.9 .8-3.9 1.1 5.4 .8 1.1 .5-1.9 1.1 1.7 1.2-1 .6-1.5 .5 1.3 .7-4 .7 .8 .9-6.2 .9 11.1 1.2-3.8 1.1 5.3 1-4.3 .6 .8 1.1-2.3 1.1-8.3 1.1 4 1 .6 .7-1.2 .9 11 .8-13.5 .8 11.5 .4 .8 .8-1.3 .6 1.5 1.1-1.2 1-8.5 .7 7.3 .9-3.8 .8 5.1 .6-3.6 .8-6.4 .4 4.2 .7 5.8 1.1 2.3 .6-4.1 .9-5.7 .8 4.1 1.1-.4 .9 .7 1.1 6.8 1-3.2 .6 7.3 .6-7 1.1-5.9 1 4.7 .7-2.2 1.1 4 1.1 9.1 .5-18.1 .7 4.8 .6-.2 .9 1.6 .6-1.2 .5 1.9 .7 1.1 .4 .6 .7-8.6 .5 12.8 1.1-7.6 1.1 .5 .7 9 .9-15.2 .5 1.2 .5 3.9 .7 3.8 1.2 1.7 1.1-2.6 .7-7.2 .8 10.2 1.1-1 1-14.2 .5 13.4 .5-.7 1-11.9 .8 8.8 .9 1.6 .5-4.7 1.1-1.9 .7 6.4 .5 11.1 .6-6.1 1.1-4.6 .5 7.1 .6-11.6 .6 3.3 1.2-3.5 .9-1.9 1.1 11.3 .5-7 1 3.4 .7 3.9 .8-8.2 .4 6 1.2-2.8 .6 3.6 1.2-1.6 .7 4.3 .6-5.5 1.2 3.9 .8-3.6 .4 5.1 1.1 .4 .9 .6 .9-5.6 .7 3.3 .8 6.4 1-7.4 .5 6.6 1.1 3.1 .6-14.3 1.1 14 .8-10.5 .9-2.6 .5 6 .6 5.3 .6-5.3 .9-10.6 .9 11.7 1.1-3.5 .8 3 .6 .6 1.1-1.6 .4-4.7 .4 3.1 1.2 3 .5 .8 1.1-4.2 .6 2.4 1.2-.6 1.1 5.1 1-3.6 1.1-1.1 .6-5.1 .8 3.6 1.1 .2 1.2-4.2 .8 2.7 .5 3.8 .7 5.2 .8-1.5 1.1-.9 .8-1.9 .4 3.6 .5-4.8 .6 3.3 .8-4.4 .8-2 1.2 .7 .7-3.6 .8 3.6 .5-.5 .7 1.1 .7-4 6.2-39 1.1-2.8 1 6.9 .5-6.8 .6-6.4 .5 10.6 1 1 1 1.6 .5-.2 1.2 1.8 .6-4.1 .5 12.8 .4-8.5 .5 8.3 1-10.5 .6-4.5 .8 8.7 .7-2.3 .5 8.7 .9-3.8 1 .2 .8-11.2 1-2.9 .8 6.4 .7 7.6 .6-5.3 1.2-8 .9 8.5 .7-1 .6 1.1 .6-1.7 1.2-4.7 .7 11.2 .7-3.4 1.1-7.9 1.1 5.8 1.2 .6 .4-11.7 1.1 12.6 .7-.9 .5-1.6 1.1-.7 .6-11.8 .9 2.5 1.2 5.6 1.1-2 1.2 2.7 1.2 4.6 .6-3.9 .4-1.2 .9-3.8 .6 .2 1 11.1 .4-6.8 .6 7.7 .5-4.8 1 .1 1-5.8 1.1 5.1 .5-6 .5-.6 1.1 8.2 .8-11.2 .5 10.8 1 2.9 1.1-10.1 1.1-2.3 1.1 13.3 1-12.8 .5 3.7 1.1 7.6 .6-5 1-2.5 .6 3.6 .9-4.3 1-5.7 .5 12.6 .5 .6 .9-1.5 .5-2.4 .5 6.1 1-16.2 1 14.8 1.1-4.6 1-5 1 9.9 .5-8.4 .5 11.1 .7-4.5 .4 2.6 .8 2.1 .6-6.3 .6 5 .6 .6 .6-4.8 .6 2.1 1.2 2.3 .8-2.2 1 3.4 .6-7.3 .8 4.8 .8 .6 .8 1 .5-3.7 1.2 3.4 .6-7.1 .5 14.6 .7-6.4 .5 .5 .7 7.4 1.2-3.1 .6 .3 .6-5.1 .7-4.9 1 3.9 .8-7.2 .8-.5 .6 11.6 .9-.9 .5 5.4 .5-8 .6-7.1 1 .7 1.2 .7 .6-6.3 1.2 9.7 1.2-3.6 .8 3.1 .6-9.1 .6 10 1.2-4 .7 8.5 1-4.2 .4-8.5 .9-.5 .8 4.1 1 2.3 .9-3.2 1.2 6.7 .5-14.9 .5 13.9 .9-3.3 .5 1.7 .6 2.6 .5-3.6 .9 2.9 .5 7.7 .9-3.6 .4-1.7 .8-9.7 .9 7.6 .9 1.8 .8-11.7 1.1 4.7 .4 5.9 .5-3.8 .4 6.1 .6 9.7 1-15.7 .6 10.8 .7 3.4 1-19.1 .6 14.4 .5-8.9 1.1-9.8 .5 9.9 .4 1 .9-3.1 1-2 1-1.9 .9 11.3 1-4.2 1.1-11.1 1 16.4 .9-.4 1-10.4 .5-8.4 .7 14.1 .7-20.2 .6 12.4 .7 7.1 .6 6.3 .6-13.8 1.2 1.9 .7 4.6 .5-3.7 1.1 8.1 .4-7.2 1 1.3 .5-8.6 1 9.7 .9-6.2 1.1 1.1 1.1 5.5 .9 5.4 1.2-2.9 .8-12.6 1.2 3.5 .8 4.1 .8 .6 .9-3.7 .8 3.5 .6-8 .5 7.2 .4 4 1-4.7 .7-4.3 1 5.4 .4 7.3 .5-4 .4-4.5 .5-1 1.2 7.1 1-3.9 .4 1.6 .8 2.6 .6-5.2 .5-5.9 .6 3.3 .8 3.4 .8 1.8 1.1-2.2 .6-14.8 .5 14.3 1.1-3.6 .9 10.5 1.2-11.2 .6 11.7 .4-13.5 .5-.4 .5 5 .9 4.9 1-2.2 1.1 .3 .9-3 .9 3.5 .6-11.4 .6 9.9 .7 1.6 .7-3.4 .7 6.7 .8-2.4 .6 2 .7-8 1.1 13.5 .5-11.5 .7 4.2 .8-8.6 .9 13.7 .5-6.2 1.1-1.9 .5 12 .6-.1 .7-3.3 .6-.1 1.1 4.5 1.1-1.5 .9-11.8 .8 10 1-5.4 1.2 5.6 .8-6.1 .9-7.4 .6 6.5 .9-1.5 .9-2 1 4.2 .4 .8 .7 15.1 1.1-4.2 .9-4.5 104.1-17.2 .4-3.1 1.1 20.5 .5-11.1 .8-8 .8 .8 .9-1.5 .6 6.4 1.2 2.7 .8 1.9 1-14.8 .9 2.7 1.1 7 .5 4 .8-12.6 .9 10.3 .7-1.9 .6-1.8 1 1.6 1.2-6 .5 4.3 1.1 1 .5-7.1 .9 16.9 .9-10.6 1 3.4 .5 10.5 .7-9.7 .8 5.6 .9 3.9 1.2 4.1 .6-8.7 1.2-7.6 .6 7.7 .8-2.6 .8-7.2 .4 9 1.1-6.9 .8-1.5 .6 3.9 .5 .6 1.2-.1 .6-.8 .6 8.3 .8-5.7 1.1 .7 .9 .4 1.1 1.7 .8 11.6 .6-12.8 .8 7.3 .7-5.1 .5-6.2 1.2 14 1.1-7.6 1.1-6.6 .6 1.9 .6 8.6 .6-.5 .4-8.9 1.2 5.1 .6-10.1 .5 2.4 .8-4.9 .5 14.1 .7-8.1 .4-.6 1.1 8.8 .8-1 .5 2.2 .5-2.8 .9-5 .6 6.1 1.1-2.4 .5-9.7 .8 6.5 .5-2 .9 5.3 .4 4.1 .7-6.4 1.2-11.2 .5 10 1.1-3.7 .9 12.6 .5-.2 1-7.1 .6-.7 1-11.4 .5 18.5 1-1.7 .6-11 .7 4.5 .9 7.9 .8 5.8 .9-9.7 .5-3.6 1-1.7 .9-1.1 .8 .5 .6 10.2 .5-1.9 .8-5.4 1.1-1.5 1.1 .9 .4 3.8 1.1 7.6 .6-9.6 .5 .3 1.1-11 .6 4.7 .7 3.1 1.2 .7 1.1-2.6 1 1.4 .7 1.5 .9 .5 .9-2.6 1 1.7 .9-4.3 .5 4 .6-8.1 .9 2.7 .6-.4 1.1-4.3 .4 4 .9 5.6 .6-4.2 1.1 5.5 .8-6.5 .5 6.3 1-11.4 1.2 12.1 1.1-4 .9 8.2 .9-15 .9-4.1 1.1 13.9 .6-2.3 .8-6.1 .8-1.2 .8 2.6 .7-1.4 .5 8.2 .9-10 .4 4.1 .5-8.2 .6 13 1-3.7 .5-.9 .5-3 .7-3.3 .7 4.4 .5 10 .5-11.3 .9 6.5 1.2 10.8 .7-15.3 .5-2.3 1.1 1.9 1.2 2.6 .8 6.2 1.1 .5 .9-15.5 .4 6.2 .5 1.4 .5 1.2 .8-2 .7-1.1 .6-3.8 .8 .6 1 1.5 1-1.4 .8 .1 1.2-1.4 .7-.7 .8 7.6 .5 2.5 .7-7.7 .5 7 1.2-5.8 .7-2.3 1 7.8 1-5.5 .9 5.5 .6 .8 .4-15 .6 5.1 1 .8 1-5.1 1-7.6 1.2 18.4 1.1-.9 .7-2.4 .9 2.1 1.1-10.6 .4 18 1-11.6 1.1 3 .9 .7 .7-2.5 .8-11.4 1.1 17.3 .4-9.6 .6-3.7 1.2 8.6 .8 9.9 .7-15.2 .7 2.9 1.1-4.3 1.1-.2 1 1.1 1.2 6 .5 .1 .7-3.3 .6 5.5 .4-13.6 .8 14.5 .5-6.6 1.1 3.3 .8 5.2 1.1-9.6 .9-3.1 1 12.1 .8-12.7 .9 1.6 1.1 10.6 .6-6.9 1.1-2.5 .7-4 .7 8 1.1-.8 1.2-1.5 .4-2.6 .9-6.1 .5 9.1 .5 2.4 1.1-8.1 .8-1.3 .9 18.7 .8-14.7 1.1 7.2 .4-11.1 .7 8.1 .5 1.4 .6-4.6 1.1-1.1 .8-3.4 .7 20.4 .5-8.2 .5-2 .8-15 1.2 18 1-9.4 .7-1.5 1.2 8.1 .6-2.2 .5 .8 1.2-2.1 .8 2.9 .6 1.8 .7-3.5 1 6.3 1.1 .4 1.1-7.6 .6-1.7 .7 8.5 .9-4.5 1.1-6.7 .4 8.2 .9-13.7 .8 16.6 .7-3.5 .7-2.1 .6-6.5 .8 .3 .6 9.2 .9-4.7 1-4 1 5.6 .9-3.7 1.1 3.8 1.1-2.1 .9 .5 .6-7.6 .9 3.3 1.1 2.5 1.1-5.8 .7-2.4 .9 9.8 .5-.4 .5-8.8 .8-6.1 1 12.8 .8 3.7 .4-12.3 .7 12.3 .4-8.1 .7 4.8 1.2-5.7 .4 5 1.1-5.8 .6 14.1 .6-.4 .5-15 .9 12.9 .7-6.7 .7 .3 .6-1.8 .6 2.1 .8 5.9 .9-6.5 .6 3.1 .9-9.2 .8 12.3 .9-1.8 .6 3.6 .4-2.8 .9-2.3 1-1.3 1.1-4.5 .8 4.8 1-.1 .8 .9 .8-13.9 .5 8.6 .5-4 .5 2.6 .8-.2 .9 6.1 .9-.3 .7-4.7 .7 8.7 .7 .7 .9-10.3 1 15.1 .7-8.1 .7-8.4 .5 .5 .7 12 1.2-4.3 .7-8.8 1.1 9 .9 2.1 .9-1.3 .4 5.2 1 .6 1-10.8 1 0 .9-8.2 .9 4.7 .6-3 .9 10.6 .5 1.2 .5-2.5 1 4.1 .5-17.2 .6 13.8 1-6.5 .9-.7 1-1 1.1 10.9 1.1-7.7 .7 7.2 .6 2.8 .9 1.8 .6-7.2 .7-8.9 .8 8.3 .5-3.4 1 6.3 1.2 5.9 .5-5.1 .6-15.9 .8 17 .8 4.4 .5 4.4 .9-7.6 1.1-2.5 1.1 1.6 .4 9.1 .9-9.6 .8-1.9 .5-.6 .8 3.7 1.1 1.4 1.1 5.3 .4-11.2 .4-4 .4 10.3 1.2-7 1.2-6.3 1 12.2 .4-2.9 .8-4.5 .7 12.9 .9-8.2 .7 10.9 1.1-21.5 1.1 4.5 1.1 1.6 .4 .9 .7-1.6 .7 12.3 .7-10.7 .7-.8 1.2 8.5 .7-10.4 .4 9.4 .9-5.7 1.2 4.6 .7-7.4 .6-4.4 .6 17.3 1.1-11 .6 2.7 .8 .6 .5-8.4 .4 13.8 .4-9.1 .7 2.5 1-14.8 .7 10.4 .5 6.8 1.1-5.7 .9 8.5 .7-9.6 .6-5 .8-3.5 1 2.2 .7-2.3 1.1 4.9 1.1 1.8 .5-2.2 .5 2.1 .6-5.6 .6 10 .6-1.6 .8-3 .9 1.1 1-1.9 .4-3.5 1.2-1.8 .7 3.8 1.1-1.2 .9-8.9 .5 11 .8 3.5 .8-14 .6 23.4 1.2-11.2 1.1 2.3 .6 3.2 .7-9.7 1 8.6 .5-15.8 1 14.8 .9-8.5 .6-2.2 .7 2.9 1 4.7 .6 5.3 1.2 1.4 .5-3.7 .6-1.6 .6-8.8 1 3.7 .8 10.3 .6-6.7 .5-4.4 .8 6.2 .9-5.2 1 4.2 1.1-3.9 .8 1.1 .7 3.9 1.2-4 .8-.6 .7 7.8 .6-6.6 .9 6 .7-6.7 .9 2.3 .9 6.3 1-4.3 1-3.9 .7 3.1 .5 16.2 .8-26.8 1.1 9.5 .9-2.7 .8 3.9 .5 .6 1 4.8 .5 1.6 .6-12.7 .6 7.7 .4 .3 1-.3 1.1 5.6 .9-8.9 .9 18.9 .6-12.6 1 5.4 .6-5.9 .5 .3 .9 2.1 .9-9.4 .7 3.7 1.2 5.6 .4-2.5 .8-.2 .7 13.8 1-21.7 1 9.7 .5-12.9 .5 8.7 .8 11 .7-7.2 .9-3.5 1.1 8.9 1.1-1.5 .5-3.2 1.1-10.9 1.1 7.8 1.1-.7 1-5.7 .4 5 1.1 8.5 1-9.1 .8 3.9 .9-3.5 .7 1.2 1.2-5.3 .6 4.5 1.1-2.6 .4 9.5 1 .7 .5-6.5 .9 1.3 .5-8.9 .8 13.9 .5-5.5 1.1 2.8 .7-4 .8 9.7 .9-11 .5 8.1 .9-3.6 .5 3.2 1.2-1 .8-6.2 .5 2 1 6.3 .8-11.8 .8 1.8 1.1 2.3 1.1 5.6 .9 9.2 .7-6.3 .4-15.5 .8 3.3 .7 10.9 .9-10.6 .4 4.1 1.1-1.4 .9-1.5 .9 3.1 .6 6.1 .9-14.5 .9 15.4 .5-2.7 .9-.1 .5-4.7 1.2 3.4 .6 2.2 .7-3.1 .9-6.2 1 .3 .5-.7 .7 3.3 .7 6.5 1.2-4.6 .6 8.1 1.1-5.3 .4-1 .7-12.8 1.2 7.3 .5 3 .7-3.8 .5 5.1 .5-7.9 1.1 8.8 .8 .6 .5 2.6 1.1-4.1 .9 9.3 .5 1.2 1.1-16.1 .8 7.7 1-13.9 .9 7.7 1.2 7.5 .8-7.2 1.2 15.5 1-15 .5-.3 1.2 7.1 1 2 .8-8.6 .5 3.3 .7-.9 .8 3 .6-10.7 1 14.7 .7-11.8 1.1 4.8 .7-3.2 1 1.9 .4 4.8 1.1-3.4 .4 1.7 .7 1 .6-5.3 .5 3.3 1-1.3 .6 5.3 .6-5 .4-3.6 .5 1.2 .8 10.8 .9-5.4 .5-.8 1.2 1.8 1.1-4.8 1 .8 1.1-6.6 .9 .9 .4 11.2 .9-.7-540.9 5.6"/>
<path class="d" d="M1355.9 989.7l1-1.1 .4-4 .7 5.3 .6 3 1.2-.7 .4 .3 1.1 2.5 .8-3.4 1.1-.4 .5-.4 .6 1.7 .9-1.4 .6 2.9 1.1-.9 .6 0 .8 1.3 .7-.9 .8 3.3 .6-8.2 .6 5.1 1-4.4 1.1 8.1 .5-5.4 .7-1.8 .9-1 .9 3.4 1-4.8 1 5.5 1.2-5.5 .7 7.4 1-1.6 .8-.4 1.2 .8 .7-4.9 .9 3 .7 2.3 1.1 3.9 .9-5.5 .7 1.7 .8-5.9 1.1 6 .9-3.6 1.1-.4 .5-2.7 .8-.9 .7 4.3 .7-6 .8-.4 .7 1.6 .5 .9 .9 1.8 .8 2.2 .6 1.3 1.2-3.5 .8 1.8 .6-.3 .5-1.2 .9 4.4 1-.2 .4 1.7 .9-3.1 1.2 .1 .9 7.4 .7-7.9 1.2 7.7 .9-4.1 .6-.1 .6-4.2 .7-.4 .5-4.7 .5 1.1 .9 3.7 1.1-5.1 .7 4.5 .4-4.7 .9 15.1 .9-8.8 .9 2.7 1 4.5 1 3.2 .7-4.4 1 .8 .5-.3 1-2.1 .4 4 .6-4.1 .6 3.6 .9-1.8 .7-.4 1 .8 .6 4.3 1.1-5.1 .4-2 .4 2.1 .7 3 .4-2.8 1.1-7.4 .9 5.3 1.2 .6 .6 2.7 .5-9.3 1 .7 .6 6.3 1-2.8 1.2 7.8 .7-10.3 .4 .2 1 3.3 .8-1 .7 1.9 1-.6 .7-.5 1-5.1 1-1.5 .9 .9 1 3.3 .9 8.5 .9-6.4 1 2.9 .4 2.2 1.1-5.4 .9 3.7 1-4.5 .5 3.3 1.2-.2 .5-2.7 .6-1 1 5.3 .8-1.2 1.1-1.3 .9-2 .6 6.3 .6-4.8 .6 1.8 .6 .4 1.1-.7 .7-.9 1-2.8 .7-1.5 .7 4.9 1.1 .7 .8-7.7 .9 1.2 1.2 9 .8-1.9 .8-.6 1.1-6.4 .9 4.9 1-2.4 .8 1.3 1.1-3.3 1.1 4.8 1.2 .9 1-5.4 .5 3.1 .6-2.1 .8 .1 1.1-3.5 1 5.6 .9-8.5 .5 9.5 .8-6.4 .6 3.2 .5 5 1.1-1.6 1 3.3 .5-10.1 5.9-20.2 .6-5.4 .8-4.1 1.2 4.4 .6-2.3 .8-.4 .9-4.9 1.2 3.1 1 6.8 .5-3.3 .8-3.5 .6 3.7 1.1-5 1.2 2.1 .7 5.9 1.1-5.4 .7-2.2 .5 2.8 .4-.8 1.1 2.1 1 4.1 1-5.7 .9-1.4 .5 3.2 .5-2.3 .8-4.4 1 7.3 .8-2 .6 1.6 .5-4.5 .6 3.7 .5 3.4 .7-4.9 1.2 4.9 .5-3.1 .9-.9 .8 9.7 .9-8.4 .5-8.8 1 4.1 .5-.1 1 3.3 1.1-5.2 1.2 6.2 .6 2.5 1-1.2 1.2-2.5 .6-.3 .7 .6 .7 .8 1 3.2 1.1-.4 1-.7 .9-1.5 1.1-5.1 .4 1.4 .6 4 1-3.5 .4 4.4 .5-2.8 1 3 .6 .4 1.1-5.7 1 1.6 1 2.8 1-2.6 .4-1.1 .6-2.5 .9 3.4 .9 .9 1.1-4.5 .7 .5 .9 6 .6-2.8 .6 .5 .6 4.2 .9-2 .5-3.7 .8-5 .5 3.9 1.1 4.3 .4 .3 1.1-2 .7 3.3 .9-5.1 .8-.1 1 .4 1.2-1.9 .4 4.4 .5 1.7 .5-3.8 .7-4.9 .5 2.6 .8-.2 .7 6.6 1-3.6 .9-1.1 1.1 .1 .4-1 1 2.9 .7 3.1 .6 3.8 .5-3 .4-4 .5 4.1 1.1 .2 1-8 .6 9.2 1-4.1 .4-5.1 .8 1.5 .6 1.5 .6 1.5 .8-5.6 .8 8.9 .7-1.3 .5-3.5 .8 1.6 .7 .7 .5 1.4 1-1.8 .7-.8 1.1-1.7 .7 4.6 .8-5.6 .9 5.1 1 2 .9-6.9 .4 5.7 .9-3.3 .8-1.1 .5 .8 1.1-4.8 .9 5.8 1-1.2 .8-2 .9-3.8 .5 7.5 1.2-4.1 1 3 .9-1.4 .5-1.5 .8 6.9 .6-2.8 .4-4 .7 5.7 .9-1.9 .7 1.1 .8-2.9 .4-1.1 .9 3.3 .5-.3 1 2.5 .7-7.9 .7 8.9 .5-6.4 .8-.1 .7 2.4 .6-2.2 .4 2.5 .9 2.1 .7-.9 1-1.7 1-2.6 1 3.8 .9 .2 .5-4.7 .9 5.1 .7-2.5 .7-1.3 .6-.4 1 6.4 .6-5.5 1.1 7.2 .7-3.4 .4 1.8 .5-.7 1.1-.9 .9 2.9 1 .2 1 1.3 .9-4.5 .6-.6 .7-1.3 1.1 4.4 .9-.4 .7-6 .7 1.3 .7-1 .5 2 1 4.8 1-1.4 .7 .7 .5-6 .5 12.6 .8-9.8 .7-.7 1.1 4.2 .4-2.7 .9-2.1 1 .4 .5 .1 .8-2.1 1.1-.6 .9 1.7 .6 3 1 .8 1.2-7.9 .8 1.7 1.2 8.7 1.1-9 .7-1.2 .9-4.2 1.2 8.8 1.1 1.6 .5-2.5 1-2.4 .7 4.1 .4-1.2 1.2 1.9 .8-1.4 .6 2.6 1.2-3.9 1.1 .8 1.2 .6 .6 .3 .8 1.3 .8-.3 .7-1.2 1 3.3 .5-6.9 1.2 2.8 .8-3.2 1.1-2.2 .7 8.8 1.2 1.2 .5-10.3 .4 11 .9-3.9 1.2 .3 1 1.7 1.1-6.8 .6 3.6 .5 6.9 1-1.5 .9-2.2 .7-5.3 .7 5.3 .6-.8 .7-1.3 .8-4 .6-0 .7 7 .5-6.8 1.1 6.8 .8-8.7 .9 5.8 1.1 1.5 .5-4.2 1 2.8 1.1 2.2 .7-3 1-1.9 1-3.8 .7 5.6 .5-.8 .5-3.9 104.4 2.1 .7 4.7 .4-4.7 .6-4.6 1 1.4 1.1 2.5 1.2 .7 1.1-2.7 .7 1.6 .8 1.8 .4-.8 .5-.9 1.2 5 .7-10.5 .6 1.8 .5-5.6 1.2 11 .5-4 1.2-4 .5 1.6 1.1 .6 .6 .9 1.1 2.2 .6-1.2 .7-1.4 .7 1 .8-1.6 .8 1.7 1.1-1.9 .9 .8 1 3 .6-7.8 .8 5.5 1 .4 .9 4.3 .5-4.4 1 4.6 1.1-3.7 .5-2 .6 4.9 .8-1.7 .6 6.3 1.1-.3 .9-10.9 .7 8.2 .6-9.5 .7 4.4 1.1-.4 .4 3.1 .4-6.7 .6 .9 .7 7 .8-7.7 .4 9.9 1.2-4.3 1.1-3.1 1-2.2 .8 4.7 .4 4.1 .6-5.9 .6-1.5 1-2.6 .5 2.7 .5-1.8 .6 .9 1 2.9 1 2.7 1.2-3.3 .7 3.2 .6-1.3 .8-4.3 1.1 2.9 1.2-.7 1.2 2.8 1-2.1 .7 3.4 .9-1.6 .5-.3 1.2-2.3 .4 5.8 .5-4.1 .9 1 1.1 1.4 .7 .6 1-1.5 .5-1.7 1.1 6.7 .9-1.7 1-.6 .9-8 .9 .6 .8 2.4 .7-1.1 1.1 3.8 .8-2.5 .6 2.5 1-2.2 .8-4.6 .9 0 .5 4.3 .6 .1 .5 5 1-7.2 1 3.8 .5 .5 .8-1.5 .5-1.1 .7-.9 .7 5.4 .8-3.9 1.1-2.5 .9 3.1 .9 .7 .6-7.7 1.1 8.2 .8-1.6 .7-3.2 .8 .1 1 7.9 .7-2.5 1-1 .6-1.2 1.2 7.3 .9-4.4 .6-3.4 1.2 6.8 .4-10 .8-1.3 1.1 5.2 .8-5.4 1.2 8.7 1.1-.3 .7 .5 1-.4 .6 5.8 1-7.1 .7 4.8 .6-3.4 1.1-0 .9 1.4 .6-4.1 .7 1.7 .9-1.3 1.2-6 1 6 .9-.7 .5 3.9 .8-3.6 .7-.9 .6 2.6 1.1-1.8 1.2 .8 .7 3.5 .8-3.1 1.2-6.2 .6 3.2 .8-3.1 .8 2.5 1-1.2 .5 5.9 .4-2.2 .6 1 .5-4.3 .7 4.1 1.1-5.6 .4-2.5 .7 4.1 1 2.1 1.1-5.3 .7-3.7 1.1 9.1 .5-2.6 .5 2.4 1.2-2.6 .8-1.4 .9 3.6 1 1.5 .8-8.7 .6 3.2 .8 .5 1.1 2.3 .5-.1 .4-7.8 .5 5.6 .7-2.6 1 3.8 1.1 1.5 1-2.1 .5-8.2 .5 12 .5-4.6 .7-2.2 .6 3.5 .6-2.4 .7-3.1 1 1.4 .7-5.1 .8 4.5 .5 4.2 .9 1.8 1.1-2.7 1-1.9 .5-1 .6 5.8 .6-4.2 .8 4.9 .4-3.4 .5-3 .4 5.2 1 .5 .8-3.7 .7 2.9 1.2 .9 .6-3.4 .7-4.4 .5 5.9 1.1 1.5 1-4.3 .9 .6 1.1-.7 .6 8.9 1.1-7 1.1 2 1.1 .8 1 1.4 .6-1.8 .6-4.6 1-.1 .7 3.6 1.2-4.8 .6 4.8 .7-.5 .7 .1 1 3.9 1.1-1.1 .8-3.4 .7 .8 .4 2.5 1.1-.2 1-5.3 .6-.4 .5 3.1 1.1 2.5 .9 .6 .5-4.1 .6 2.3 .6-10.2 1 8.2 .7-.8 .8 3.8 .9-.5 .7 3.6 .8-6.7 1 2.9 .9-.2 .8 1.2 1.1-.9 .5-5.3 1.1 .3 .6-2.7 .9 1.5 .8 10.3 .8-5.9 .6 1.8 .8-1.6 .6 .7 .5-1.5 1.1-1.6 .5 5.7 1.1-5.5 1 7.5 .6-5.7 1.1 2.4 .8 2.2 1-3.1 1.2 4.4 .5-1.3 .4-2 1 .8 .8-2.6 .5 1.7 1-4.1 1.1 2.3 1.2-.3 .4 5.5 .6-7.9 1.1 8.6 .7-.3 .7-4.7 .6-3 .4 4.2 .8 1.8 1.2-.6 .5-3.1 .8 7 .4-.6 .6 .8 1-8.3 .7 6.2 .6-4.2 .8-2.3 1.1 .3 1-2.3 .7 4 .7 5 1-7.7 1 7.2 1.1-5.7 1.1 3.8 1.1 .6 .6-3.6 .5-.5 1.2-3 1-.8 .7 5.9 .6-.6 1.1-.8 .8-4.3 .5 10.4 .7-11.4 .7 8.1 .8-1.8 .7-.3 .4 .2 1.1-.9 .6-5.1 1.1 3.6 1.1-4 1 10.1 1.1-6.5 1 3.3 1.1 .7 .8-1.1 .4-9.7 .8 8.4 .5-3.1 .4 .5 .5-5.4 .7 10.6 .6-3.3 .5-1.8 .4 6.1 1-2.7 1.2-2.8 .8 3.4 1.1-4.8 .7 5.8 .8 .6 .7 .2 .6 2.6 1.2-3.3 .7 .2 1.1 .9 .9 1.5 .7 .3 .7-6.1 .9-0 1 2.7 .9 7.2 .4-7.9 .7 2.3 .8-7.4 1.1 3.4 .4 5.1 1-5.3 1.1 4 .4 1 .7-4.1 .6 1.3 1-.1 1-2.5 .5 5.5 1-.9 .7-11.1 1 8.7 .5-3.3 .6-3.1 1.2-2.2 1 5.4 1 5.3 .8-5.4 1 .3 .7 4.1 1-.7 .9-3.8 .9 8.2 .8-10.7 1.1 6.4 .7 1 .7-3.5 1-1.9 1.1 5.9 .9-3.2 1 .7 .8-4.8 .6 .4 .7-1.9 .5 10.8 .7-6.8 .8-.2 1.2 3 .7 1.8 .7-2.7 .8 5.3 .7-7.3 1.2 3.6 .9-2.7 .7 3.4 1-3.2 .5 4.5 .7-2.2 .9-4.2 .5 7.5 .7-7.7 1.2 3.4 .9 6 .8-.8 1-1.1 .5 .4 .5 6.5 .8 .4 .6-10.1 .5-1.8 .9 6 .6-.6 .8-1.8 1.2 1.8 .6-.9 .6 2.1 .5-5.5 .4 4.2 .6-1.9 1-2.4 1 .3 .7-3.4 1.2 5.3 1.2 .2 1.1-1.3 .5-5.5 1.1 7.7 .4 0 .5-4.4 .4 .7 .9-2.6 .7 3.2 1.1 1.5 1-.2 .9-6.1 .7 9.3 .5-11 .9 8.9 1.2-2.8 1.2-3.2 .4 4.6 1.1-1.2 .7 1.2 .7-1.3 1.2 6.5 .5-4.3 1-1.1 .7 .3 .6-1.2 .9-3.6 1.2 3.6 .9-1 1.2 5.6 .6-7.4 .9 7 .9-3.6 .9-3.2 .7-.7 1.1 3 .4 3.2 .8-3.6 .7 5.7 .7-8.3 .8 7.5 .8-6.5 1.1 6 1.1-4.8 1 .9 .7 5.2 .4-4 1.2 .6 .7-2 .9-.5 .6-5.5 .9 4.9 1 .5 1.1-4 .9 5.3 1.2-2.1 .8-3.7 .8 4.9 .6-2.7 .8 1.3 .7 .8 .5-1.4 .5-2.5 .4-.5 1.2 .6 .9 1.6 1-2 .9 4.7 .5-4.1 .8 1 .8 1.7 .8 2.6 1.1 .6 1-4.6 1.1 1.8 1.1 .4 1.1 1.5 1.2-.5 1.1 .9 1.2-2.6 .9 4.3 1.1-3.8 .6 .1 1-4 1.1 4.6 .5 1 .5 3.3 .4-6.7 .6 1.4 .9 3.1 1.1 .9 .4-9.8 .5 2.7 .5 11.1 1.2-7.1 .9-2.9 1.1-.6 .5 1.5 .5 1.1 .5-2.9 .6 2.9 .5 2.1 .9 .5 1 5 1.2-5.2 .7 0 .7 6.5 1-5.8 .4 2 .8-.6 1.1 1.2 .6 .1 1.2 .1 .7 3.9 .8-6 .9-.1 .8 1 .7 1.1 .7-.3 .5 3.6 .5-1.3 .5-8.1 .6 4.3 1 5.4 .8-1.5 1 .7 .9-3.9 .4-5.3 .9-1.7 .7 2.3 1 6.1 1-7.9 1.1 5.9 .9-1.3 .7-.7 .7 .7 .7 .6 .6 1.6 1-5 1.1 8.2 .6-5.1 .6-.6 1.1-1.8 1 1.6 1.2-3 .7 7 .8-3.1 1.1 1.7 1-3.9 .4 .8 1 4.6 .6-2.9 .9 2.2 .7-2.6 1.2-3.3 .4 .6 1 4.9 1-4 .6-3.4 .6 .3 .6-.8 .7 1.7 1.1 2.6 .6-3.3 .5 .6 .5-.6 .8 4.4 .7-3.6 .4 5.9 .5 .8 1.1-5.2 .7-2.6 1-.2 .5-3.4 1 6.8 .7 2 1.1-2.3 1.2 1.6 .7-3 .4 1.7 .5-.4 .8 8.5 .8-2.5 .4-1.7 1.1-5 1.1 3.5 1.1-.8 .6-4.6 .5 6.4 .9 3.7 .9-8.5 .4 1.1 1.1 2 .5-2 .8 8.8 .5-8.5 .8 .8"/>
<path class="n" d="M1355.8 1021.3l.8-3.2 1 3.2 1.1-11.9 .5-.5 .4 7.4 .8 6.2 1-9.2 .8-4.6 1-4.2 .7 11.8 1.1 3.4 .9-11.4 .9 1.9 1.2 2.9 .7 7 .9-3 .5-1.5 .7-3.8 .7 3.9 1.1 4.6 .6-12.5 .9 1.1 1.1 9.5 .7 .5 .9-6.5 .9 5.7 .9-7.2 .6-1.5 .8-1.5 .4 8.3 1-1.4 .6-5.5 1 9.5 1-10.1 .9 11.8 1.1-12.5 .8 1.7 1.1 4.2 1.1-4.9 .5-2.3 .5 2 .7-6.8 1 14.7 1-11.8 1.1 6.5 1.1 7.1 1.2-5.8 .5 4.8 .8-4.3 .5-10.2 1.1 12.7 .8-4.1 .6 8.3 .8-5.7 1.1-2.3 .6 2 .8-4.3 .5-4.4 .6 3.3 .4 4.7 .5-4.9 1.1 2.2 1-.8 1.1 .5 1.1 1.8 .9 .8 1.1-6.9 .8 2.2 1.2 2.3 .6 6.2 .4-6.8 1.1 1.1 1.1 .1 .4-1.6 .4 1.2 .5 4.3 1-9.9 .5-2.7 1.1 4.1 .5-3.9 .8 4.8 .8 1.1 .7 9.6 .9-15 1.1 11.3 .8-12 1.1 2.2 .9 2.3 .7 5.3 .5-7.4 1.1 1.9 .5 2.3 .9 4.1 1.1 2.9 1.1-9.1 .8 5.8 1-.3 1 .2 1-10.4 1.1 5.1 .8 1.6 .8-2.5 .5-1.2 .8 1.2 .5-1.4 .6-3.1 1 1.2 .6 1.3 1 6.6 .6-1.5 1.2-1.8 .9 5.7 1.1-2.7 1.2-3 .6-8.5 1 2.7 .7 1.5 .4 3.4 .6-.4 1 6.2 1 3.3 .5-8.1 1-1.2 .8 6.9 .9-6.5 1 .5 .8-5.6 1.1 13.1 1-5.7 .8-3.4 1 3.1 .8-5.5 .6 5.2 .5 12.9 1.2-10.3 .7-3.5 .9 3.5 .6-3.2 1 3 .5-8.2 1-3 .9 7.5 .5-4.9 .8 .5 .5 5.6 .5 4.9 .9-7.9 1 5.4 .9-3.4 .5-7.2 .4 14.4 .5-9.6 .9 6 .7-6.9 1 2.7 1-8.1 .5 12.4 .9-1 1-5 .8 3.5 .8-2.2 1.1 .4 1.1-3.2 1.2 11.6 6.3-41.6 .8-9.6 .9 8.1 1-4.4 .9 8.4 .8-2 1 2.7 .8-16.1 1 12.7 1 1.5 .7 1.1 .8 1 .5 .3 1-5.1 .8 .4 1.1 5.2 .7-3 1.1-2.4 1 3.3 .8-.8 .5 .4 .9 7.7 1.2-1.9 .7-9 1 .9 .9 6.3 .8-9 .6-2.2 .5 11.5 .4-9.3 .7 3 1-2.2 1.2 10.1 .8-6.5 .4 5.4 1.1-3.5 .9-4.1 1.1 14.3 .7-12.6 .8 3.5 1-.6 1.1-7 1.2 9.8 .9-8.3 1-.5 1.2-1 .5 0 .6-1.3 1-3.7 .7 11.4 .8 1.3 .4-3.8 1.1-3.6 1.2 3 1 10.5 .5-8.9 .9-5.3 .9 4.6 1-3.6 .9 .3 .6 1.5 .9-3.8 1.1 2.3 .6 8.9 .7-5.3 .9-7.2 .7 9.6 1.1 3 .5-7 .4-11 .7 9.5 .6 4.9 .6-8.4 .6-2.7 .7-1.1 1 17.7 .6-20.3 .7 11.7 .7 2.6 .9-.5 1-7.5 1.1 2.7 .6-.4 .5-3 .9 9.4 .8 8.3 1.2-16.8 .8 7.8 .7-3.5 .9-6.2 .6 3.7 .6 2.4 .6 5.6 .5-9.7 .4-6.5 .5 6.3 .7 6.4 1.1-.1 .8-.3 .5-.5 .7-7.9 .9 .9 .9 15.8 .5-4.3 1.2 3.1 .9-15.9 1.1 3.9 .4-5 .5 20.7 .9-9.2 .5-.2 .5-1.5 .5-2 1 9.4 .9-4.9 1 .1 .7 4.4 .4-5.9 .6 .4 .8 3.1 .5-3.3 .9 5.7 .4-10 .7 5.1 .4 1.1 1.2-8.1 1.2 6.9 .5-5.9 .9-1.1 .7 9.2 .8-8.5 .8 2.9 .5-1.3 .8-2.9 .6-.5 .5 11.1 1-.6 .5-5.7 .8-3.3 .6 5.3 .6 2.8 1.2-9.7 .4 4.2 1-4.3 1 3 1.1 10.5 .5-8.3 .7-6.4 .5 18.2 1-6.8 .9-7.8 1 6.2 .5-3.2 1.1 1.9 1 2.8 .6-1.2 1-1.1 1-6.6 1 8.3 .4 5.8 .8-6.4 .9-.1 .7-.2 1 7.5 1-14.5 1.1 10.7 1.1-5.6 .7-9.5 1.2 11.3 .6 .3 .6 3.1 .7 2.8 .6-8.1 .9 5.6 1.1 3.3 .4 5.7 .7-13.6 .7 8.5 .7-1.7 .7-5 .7-.7 .7-1.1 .9 2.3 .6-3.2 1 11.1 1.1-8.8 .5-4.2 .7 4.1 .8-2.2 .8 4.4 .9-6.7 .7 7.2 1.1-5.9 .5 6.4 .8-3 .5-2.7 .4 .6 .7-6.1 .9 8.3 .5-6.6 .7 9.3 .6-2 1.1-.2 .8 5.5 1-8.9 1.1-1.3 .8-2.7 .8 8.7 1.2-7.3 1.2-1.6 .7 4.5 1.2-1.4 .4-2.6 .8 4.4 .5 .3 .4 5.6 1.1-.9 .7-1.4 1.1-2.4 .4 3.6 1-5.9 .9-.7 1 1.6 1.1-10 .7 8 .8 .7 .6-8 1 10.2 .9-12 .5 15.8 .7-3.8 .7-6.4 1.1 10.5 .8-13.7 1.2-.8 1 16.2 1.1-7 .8-7.8 .5-2.7 .5 7 .5 6.7 .4-9.6 1.1-1 .9 10.3 .8-10 .4-.8 .6 .9 .9-.3 .9 7.6 1.2 1.3 .4-1.7 .6-5.1 1-1.3 .4-6.8 .6-1 .7 6.2 .7 3.4 .7-3.7 .5-3.5 1.1-.2 .7 1.6 .8 4.5 .5 6.1 .9-2.8 .4-7.9 1.2 .8 .6 3.3 1-3.8 1 7.6 104.2-.4 .9-3.2 1.1-1.9 1.1 1 .6 5.6 .4-3 .6-4.8 .7 4.7 .8-3.6 .6 9.4 1.1-6 .6 6.5 .4-.4 .7-3 .6-5.1 .8 2.4 1 7.5 .6-2.5 1-5.8 .9 5.8 .7-5.9 .8 4.9 .7 5 1-10.4 1 12.4 .6-2.1 .6-5.3 .6 1.9 .9-.1 .9-6 .8 5.3 .5-6.6 .9 13.8 1.1-5 .9-9.1 1.2 4.4 .8-.5 .9-6.4 1.1 10 .6 3.7 .9-13.9 .8-2.1 .5 8.7 .9 3.4 .8 2.5 1.1-4.5 .5-3 .8-4.6 1 8.3 .6-3.8 .7 8 .5-1.7 .8-.9 1.1 7.7 .9-6.2 .5 6 .5-9.2 .7 10 1-5.7 1 2.7 1.2-2.6 .5 10.2 .4-15.5 1.1 9.1 .7-4.2 1.1-2 1.1 11.4 .7-13.1 .9 7.3 .5-4.1 .8-3.1 .9 3 .6 7 .7-4.5 1.1-7.8 1.1 1.6 .5-2.8 .8-2.8 .8-.9 1 11.8 .5-6.4 .4-9.7 1.1 10.4 .9 3.9 1-3.5 .5 1.9 .7-1.3 .9 1.4 .8-3.5 .6-6.2 .4 9.4 .6-3.6 .5 7.9 .7-16.2 .7 15 1.2-4.8 .6 3 .9-8.7 .6 5.6 .6-7.6 .5 8.5 1.1-1.5 .9-6.1 .7 9.4 1.2-6.7 .4 6.1 .4-5 .9 1.4 1-7 1.2-11.5 1 15.1 .6-8.9 .9 19.2 .8-10.5 .8 4 1.1-4.7 1 2.6 1.2-2.2 1.2-8.1 .9-.4 .6 12 1.1-11.2 .7 5.3 .9 12.4 .6-10.4 .9-2.2 .7-4.3 1-2.8 1.2 .9 .6-.3 1.2 0 .8 4.3 .9-3.9 .5 14.1 .5-14.5 .5 5.5 .7-3.6 .5 9.4 .5-5.3 .5 4.6 1.1 3.9 1-14.8 1.1 11.6 .6-4.9 1.1-2.7 .6 4.7 .8 .9 .6-4.9 1.2 6.8 .7 4.2 1-8.2 .5 5.8 .8-6.3 1.1 8.9 1.2-4.6 1.1-3.8 .5 9.5 .5-4.6 .9 .2 .6 .7 1.1 3.6 .7-3.2 1.1-3.7 .8 3.4 .6-4.8 .5 3.5 .9-12.3 1-2.9 .7 7 .9 5.2 1.1-3.3 .8 1.2 1.1 2.3 .8-2.5 .8-.3 .5 2.7 .7-4.4 .8 3 .5 1.5 .7 8.7 1.2-19.9 .8 6.7 1.1-.1 .8 4.2 .4 0 1 8.3 .5-4.9 1-5.7 1 9.6 .5-8.8 .4-1.3 1 5.5 .5 1.2 1-7.8 .7 5.9 .8-5.6 .8 6.2 .7 1.3 .6-13.5 .7 14.9 1.2 1.3 .9-2.1 1-.6 1-5.2 .8 2.8 1.1 .2 .6-4.6 1-.9 .7 5.8 .7 3.8 .6 2 1-11.9 .9 4.9 1.1-11.5 .5 14.2 .6-5.9 1 5.6 .6-5.9 .8 5.2 .5-2.2 .6-4.3 1.1 3.4 1.1-4.8 .5 4.7 1.1-6 .5 5.2 .8-6.1 1.1 2.2 .7 4.9 1.2-4.6 .8 2.3 .4 3.3 .8-1.3 .6 7.2 .9-4.3 .4 3.4 .5-8.7 .7 4.5 .9 .9 .6 4.6 1.2-10.8 .7-2.7 .9 12.2 1-4.6 .9 5.3 .5 4.7 1.2-11.3 .9-.3 .7 4.4 .5-4.3 .4 2.6 .7 1.2 .6-11.6 1.1 18.7 .7-14 1.1 5.9 .4-13.9 .5 15.2 .7-2.1 1.1 5.6 .7-3.9 .9-16.8 .8 6.6 .9 9 .7-.4 1.1-9.4 .6 7.1 .8-1.3 .7-3.1 1.1 4.8 .7-6.5 1.1 8.4 .5-3.2 1.2 .4 .6 13.7 1-13.3 .8-2.9 .9 4 1.1-4.7 .9 1 .5-3.5 .6 8.9 1.2 2.9 .8-7.2 .8-4.2 1 5.6 .8 .9 .7 2.1 .5 1.9 1.1-6 .4 8.8 .6 1.3 1.2-8.4 1.1 11.5 .8-12.8 1 14.3 .8-6.7 .5-11.6 1 4 1.1 10.3 .6-4.2 .6-4.5 .9 4.5 .8 3.4 1-1.9 1.1-2.4 .9-0 .7 4.9 .8-11.5 .4 4.9 1-3 .8-1.5 1 10.5 .7-13.8 .6 10.7 .5-11.8 1.1 16.2 1-8.8 .5-2.7 1 4.2 .4-4.8 1 4.8 1-12.4 .7 5.6 .7 5 .7-15.3 .7 12.6 .8-4.2 1 9.5 .4-9.6 .9 4 .6 1.4 .7 .8 1-1.4 .7 1.2 .4-.8 1.1-6.3 1 9.4 .5 6 .4-1.8 .7-8.6 1.1-3.8 .4 4 .9-4 .8 1.9 1 6.4 .7 1.3 .7-.2 .9-6.8 1.1 4.7 .7 3.4 .7 1.1 .8-8.2 .9 17.2 1.1-6.9 .6-3.8 1 4.7 .6-7.3 .6 .8 .7-6 .7 8.5 .8 5.2 1.1-7.7 .5 .1 1 1.9 .8 3 1-4 1.1 .7 .6 6.5 .9-7 1.1 10 .6-2.8 .9-7.2 .6 7 1-1.8 .4-1.6 .5 5.3 .8-3.5 .6-1.8 .8-.2 .6 2.1 .8-9.2 .8-3.7 .7 14.8 .7-6.7 .8 1 .5-6.3 1.2 19.9 .9-15.2 1.1 3.7 .7-4.6 .4-.6 1.1-1.3 .8 13.8 1-19.8 .7 1.4 .7 8.5 .8 4 .7-3.7 1.1 3.6 .9 .7 .7-1.1 .8-5.4 .7-4.2 .6 8.5 .6-5.4 1 2.9 .9-1.1 .5 .6 .8-1.1 .7 6.3 .5-8.6 .7 2.2 .4 1.2 .5-5.9 1 12.1 .4-12.6 .6 3.6 1.1 4.1 1-.6 .7-2.7 .8-7.1 1 6 .6 2.7 1.1 2 1 2.8 .9-14.7 .8 1.4 .5 2.1 1-.7 .7 4.8 .7-4.1 .6 3.2 1.1 5.2 .8-6.3 .5-3.4 1 2.3 1 9.9 1-.3 .8-.5 .8-7.7 .6 7.2 .4-3.7 .6-7.4 .4 2.2 .9 7.9 1 7.6 .8-2.3 .8-1.5 .5-2 .5-2 1-10.4 1.1 12 1.1-4.4 .6 2.4 1.2 6.9 .5-7.4 .4-10.2 .7 14.1 .6-9.8 1.1 8.4 .5-9.8 1 1.6 .7-.8 .8 1.3 .4 6.9 .8-9.8 .9 14.4 1-8.3 .9 .5 .8-5.6 .6 2.4 1 9.9 .9-21.7 1 14.2 .9-4.3 1.2-2.4 .9 1.9 1 7.5 .9-1.3 .8 1.2 .6-11.6 .9 14.9 .6-3.6 .7 3 1.1 2 1-10.5 .6 1.7 .5 3.9 .6 1.4 .7-2.7 1.1 10.6 .5-11.3 .5-2 .8 2.8 1.1 4.4 .8-3.5 .5 8 .7-8.2 .7-3.7 1.2-3.5 .5 4 1-2.9 1 4.2 .6-4.7 .8 12 1-4.3 .9 5.6 .7-9.6 .7-7.9 .8 10.9 1.1-.3 .8-1 .9 .8 1 1 .9 7.5 .9-13 .7 6.9 .9-9.7 .8 14.9 .8-.7 .7-15.7 1.1 15.6 .5-.4 .5-1.4 .6-7.8 .7-3.6 .7 7.8 .9-6.2 .9 6.5 .6-4.7 .9 10.3 .5-16 1.2 16.4 .6-17.3 .6 5.5 .9-.5 .6 4.2 .4-6 1.1 3.8 1-3 .4 4.7 .9-3.6 1.1 2.1 .6-2.4 .4-5 1.1 5.9 .7 4.8 .5-10.6 .4 16.5 .7-11.5 .5-2.1 1 1 1-4.6 .6 7.2 .9-6.6 .6 11.4 .7 6 1-7.5 1.1-2.7 .7 9.9 .5-7.7 .7 4.5 1-1.6 .7-2.1 .9-4.6 .7 5.4 .6-2.7 1.2 2.3 1.1-.3 .6-4.8 1.1-2.4 1 2.2 .9-11.6 .4 9.9 1.1-.7 .6-2.2 .9 4.9 1.2 1.3 .4-6.8 1.1 7.8 .8-14.7 .8 15.2 .5-8.7 1.1-.1 1.2 6.4 .8-.7 .9-2.9 .4-4.5 .8 4.8 .4-10.5 .8 17 1-10.1 1.1 7 .9-12 .8 9.2 .9-9.9 .5 5.2 .9 6.1 .9-2.6 .5 9.7 .8 .3 1.1-8.2 1.1 0 .8 3.6 1.2-2.4 .9 2.5 1-2 .9 1.3 1.2-4.5 .5 3 .5-4.9 .6 1.2 .7 6.7 1.1-14.1 .8 17.6 .8-12.1 .6 4.3 .8-2.2 .8-1.7 .9-5.9 1 16.9 .8-9 1.2 3.9 .8 .7 .8-7.7 .7 .9 1.1-2.9 .4 4.6 1.1 6.1 .5-8 1.2 .7 .5 2.6 .5-2.8 .7 10.8 .6-6.2 .4 6.5 .5-5.5-540.8 6"/>
<path class="d" d="M179.2 1625.4l.7-5.6 1 4.6 1.6 3.8 1-3.9 .8 5.9 1.5-11.8 .7 5.2 1.4-.1 1.4 24.3 .8-23 1.6-2 1.4-.7 .5-1.1 1 4.5 1-5 1.3 3.8 1.6-2 1.2 5.3 1.5-5.3 .5 5.6 1.3-1.3 1.3-1.7 .7-.6 1.5-7.2 1.5-1.6 1.1-2 1.1 7.9 1 .9 1.3-5.4 1.4 3.9 1.4 .3 1.1 4.8 .9-3 1.1-4.2 .6-1.1 .8 10.6 .7-7.8 .8 3.1 1.6-1 1.3-7.7 1.6 11.3 1.1 11.2 1.2-16.4 1.5 8.6 1.2-.9 .6-4.2 .9 3.3 .9 8.8 1.5-8.5 1.1-5.6 1.2-2 1.4 13.5 1.6-16 .9 9.2 1.4 2.7 1.1 5.9 1.2-6.7 1.4-3.7 1.6 1.7 .7 3 1.3-1 1.6-4.2 1.6-2 1.1 4.3 1.3 7 1.2 15.1 1.4-26.5 1.1-1.6 .6 6.1 1.2-10.7 .6 10.6 1.3-2.5 1.2-2.2 1.2 2.6 1.4-.5 1 2.9 1.6-3 1.4 2 1.1-1 1.6 6.3 .5-9.8 .8 1.5 1.1-5.5 1.3 9.3 1.1-.9 1.5-9.5 1.5 7.5 1.4-7 1.2 3.7 .9 5.3 1-6.1 1-.9 .6 4.1 1.2-5 1.2 6.9 1.4-3.4 1.4-6.3 .9 2.3 1.2 4.9 1-1.2 .8 19.2 .8-8.7 1.2-19 1.1 7.8 1.3 3.3 .6-4.5 .7 2.9 1.3-1.5 1.4 .6 1.3-6.4 1.6 6.6 1.1 1.3 1.6-1.4 1.6-1.3 1.3-9.7 1.3 3.9 7-39.1 .5 3.3 1.4-5.3 1.2-3.6 .6 6.7 .8 4.2 .9-12.1 .6 4.5 .6 1 1.1 1.1 1.1-1.8 .7-.5 1.3 2.5 1 8 .8-9 .6 .4 .6 2.1 .5-3.8 .8 5.3 1.3-7.2 .6 9.8 1-9.7 .9 2.7 1.4 4.8 .9-5.2 .7 2.5 1.5 3.1 .6-2.9 1.3-1.1 1.3-.8 1.1 2.7 .7-7.3 1.1 2.8 1.2 1.8 1.2-4.1 1.5 7.3 .7-2.6 1.3-.1 1.4-.6 .9 9 1.2-1 1.1-11.8 .8 9.8 .7-7.3 .5 3.2 1.2 1.2 1.1-2.2 .7 5.3 .9 1.9 .6 .3 .5-8.8 .6 5.9 .8-6.2 .6 3.1 1.3 3.5 .6-3.1 1 5.3 .9-3.4 1-3.2 1-3.2 .8 3 1.2-2.5 1.3 7.6 1.4 .8 .9-1.8 1.2-2.8 1.2 4.2 1.2-5.1 .8 7.5 .7-4.1 1-3.1 .7 1.2 1.2-6.2 1.3 4.5 1 3.3 1.3-.9 .5 3.4 .8-7.6 .9 13.9 1.4-15.2 .8 4.4 .7 9.1 .8-4.7 1.3-.9 1.1-2 1.4 3.6 .9-5.5 1.2 0 .6 1 1.1 2.7 .8 26.1 1.1-29.7 .7 7.8 .9-7 .7 3.1 1.5 1.4 1-.6 .8 1.9 .8-3.4 .8 4 1.4-7.7 .8 3.6 1.4 14.9 .6-20.8 .5 13.7 1.2-6.3 1.1-3.4 .9 .4 1.2 8.9 .7-11.9 1.2 3.2 1.1 9.4 .6-7.3 1.2-.4 1.5-7.8 1.1 6.6 .6-8.4 .8 5.8 1.3 1.8 1 2.5 1.2 5.8 1.4-7.5 .6 1.2 .7-4.2 1.4 1.6 .9-2.2 .8 4.4 .9 .8 1.2-2.6 1 32.6 .8-34.5 1.2 2.8 1.2 7.5 1 6 1.1-13 .7 1.2 1.4 1.5 .7-6.8 1.2 1.2 1.1-1.5 1.4 5.2 1.3-3.6 1 4.2 .9-4.6 .8 3 .9-2.6 .5 2.6 1.1-.6 1.3 2.1 .9 1.6 1.3-3.8 .7-1 1.1-.5 .8 3.5 1.5-3.2 1.3 .4 1 2.2 1.2 5.3 .8-5.1 1.3 .2 .6 2.2 .7 2 1.3-.7 1.2 15.6 1.4-14.9 .5-4.3 .6-.6 1.4 4.2 .5 .2 1.3-4.8 .9-.9 .9 5.1 .8-3.9 .9-5.8 .8 8.3 .7-6.8 .6 6.6 .8-3.3 .9 2.8 .6-.8 1.4 1.5 .9-8 .6 16.6 1-8.2 1.5-4.6 1.2 .9 1.3-2.3 1.5 14.9 1.4-19.9 1 29.5 1.1-11.7 .6-12 .8 3 1.4 3.7 .6-9 1 1.9 .5 22.6 1.4-21.5 1.3 3.3 1.3-2.1 1.3-3.1 1.3 5.4 .5 .6 1.1 1.5 .7-4.8 .7 2.4 1.4 .1 1.3 .9 .6-4.2 1.2-.9 .8-0 .9-4.4 1-.5 1 8.9 .5-3.7 1.2-2.8 104.9-1.8 1 2.9 .6-3 .6 23.6 1.1-28.6 .9 5.8 .8-2.3 .8 3.5 .8 .6 1.3-4.7 1.2-.2 .7 2.9 .9 3.3 1.5-8.3 1 .9 1-1.8 1.4 6.2 1-1.7 1.3-.7 1.4 6.9 1.2-3.5 1.4 6.7 .5-4.1 1.3-.2 1.2-2 .6-2.9 1-3.5 1.5 .9 1.4 5.5 1.2 .4 1.3-1.9 .7 4.1 .8-1.5 .7-2.5 1 3.1 1.1-8.2 .7 9.3 .5 1.2 1.1 1.3 .8-1.9 1 3.8 1.5-6.3 1.3-9.1 1.5 36.9 .7-32.5 1 3.4 1.3-.8 1.3 1.3 1.3 1.8 .9-5.7 .8 2.9 1.4-3.8 .6 3.5 1.4 8.8 .7-13.7 1 4.5 1.4-.8 1.2 4.1 .8 .2 .5 1.2 .9-3.9 .7-3.7 1.2 4.4 .8-.5 1.1 1.7 1 3.5 .7-2.9 1 2.2 1.2-7.6 1.2-2.9 .7 7.3 .6-1.6 1.2 3.8 1.4-.4 .8-3.7 .9 12.2 .9-6.6 1.4-2.2 .9-5.1 .5 2.4 .7 1.8 1.5 .3 .9-5.1 .6-4.2 1.4 4.4 1.1 4.2 .9-3.1 1 5.2 1-11.4 .8 2.6 .6-4.5 1.1 3.9 .9 8.8 1.3-6.3 .6-2.7 .5 5.4 1.4-2.9 .7 .7 .6 1.2 .6 3.3 1.1 0 1.3-5.1 .6 27.7 .6-20.9 .5-4 1 5.8 .7-7.3 1 .3 .8-2.6 .8 4 .9-4 .8 .3 1.1 2.8 1.4 24.4 1-25.6 .8 3.6 1.4-3 1.4 2.9 1.2-3.7 1.4 3.6 1 3 1.5 18.6 1.4-28.1 .8 1.2 1.1-5 .6 5.1 1.4 5.1 1 .6 1.5-7.4 1.1 13.8 1.5-15 1.3 6.7 1.2 .4 .6-3.7 1.1 2.5 .5 2 1-3.9 1.1-2.4 1 6.2 1-10.6 .9 1 1.1 1.2 1.5-1.2 1.4 5.2 1.3-4.6 1 6.3 .7-2.2 .6 14.7 .8-11.1 1-4.1 .9 1.8 1.4-.7 1 4.8 1.1-1.7 1.1-.5 1.2-.5 1.3 3.6 1.4 14 .6-14.2 .9-4.2 .7-1.8 .8 0 .8 6.6 1.5 8 .9-9 1.1-9.1 .8 11 .9-2.3 1-1.4 1-3.5 .8 .9 1.3 4.1 .5-4.9 1.4 3.8 1.3-8 .6 13 1-7.8 1.3 .3 .5-1.5 1.4-6.8 .5 10.8 .6-9.2 1.1-3.1 1.1 10 1.1 4.2 1.1-8.8 1.3 .5 .7-2.9 1.5 4.2 .7-.5 1.3-3.4 .7 15.2 1.2-10.2 1-2.4 .5-2 .8 7 .9-12.9 .6 8 .7-3 .9 6.5 .8-5.8 1 3.3 .7-.3 1.3 2 1.1 10.7 .7-9.5 1-3.2 1 3.3 .5-5.6 .7 2.9 .8-3.4 .5 1.8 .7 .4 .9-.4 1.3-6.3 .7 8.3 .6 .2 1.1-.7 .8-4.3 1.1-0 .6 1.4 1.3 .1 .9 2.9 1.2-2.3 1.1 3.1 .8 1.7 .7-6.7 .8 3.3 .9 6.5 1.2-.5 1-6.3 .8 11.4 .7 4 .6-14.7 .9 7.6 .9-7.8 1.2-4.4 .5 8.1 .9-2.3 1.5-1.3 1.2-3.8 1 5.8 1-3.6 .6-1.1 .7 5.9 1.5-5.6 .5 2.8 .7 4.8 1.2-.6 .9-5.5 .6 5 .9-5.5 .6 6.3 1.1-.6 .8 .1 1-1.4 1.4 41.6 1.1-26.8 1.3-11.6 1.3-1.7 1.5-7.4 .5 5.1 1.4-.2 .5-.2 .6-.3 .6 1.5 1-0 .5 3.3 1.1 1.5 1.2-12.3 1 9.4 .9 1.2 1.1-8.5 1.4 7.4 1.5-5 1 15.1 1.4-7 1.4-7.2 .6 2.7 .5-2.6 1 1.4 1.4 .1 1.2-1 .7 .9 .8-4.2 1 4.9 .7 3.3 1.1-6.4 1.3-3.6 .8 4.6 1 3.9 1.2 2.1 .9-4.3 1.3-3.5 1.2 4.5 1.1-1.4 1-.7 1.1-1 1.1 2.5 1.2 1.4 1.2 2.2 .9-7 .9 2.3 1.1-.6 .8 1 1.3-.9 1.2-3.1 1.4 7.8 1.3 3 1.2-6.9 1.4-1.8 .6 8.8 .9-3.9 1.4-.5 1.3 1.1 .7-2.4 1.4-2.3 1.4 5.1 1.5 .7 .9 .8 1.4 1.3 .9-2.7 1.4-1.9 1.4 0 1.1-1.9 1.3-2.2 1.5 7.5 .8-.2 .5-3.5 1.2 2.6 .7-1.3 1.5 1 .8-5 1.5-.5 1.1 3 1.3-.2 .6 .9 .8-.8 .8 3.6 1.3 16.4 1.2-19.4 1.4 .8 1 1.1 .8 2.1 1.3 42.7 .9-43 .9 21.2 .6-26.5 .7 3.9 .6-.6 .6-1.4 1.3 24 1.3-2.3 .8-20.8 1.1-.2 .7 1.5 .7-2.3 1.3 1.5 1.2-1 .8 .7 .7 2.1 .7-4.2 1.3 2.4 .6-1.7 1.3 6.7 .8 2.4 1.2-2.6 1.4-4.1 1.2 1.8 .9 19.8 1.3-21.6 1.5 3 1.3-3 1-1.6 1.1 3.2 1 2.2 1.3 2.6 1 .6 .6-4.1 .9-1.4 .7 7.5 1.5-.4 1.1-8.5 .7 39.6 1.4-35.4 .8-5.6 1.5 7 1.2-4.1 1.5 3.4 .6 2.6 .7-3.1 1.3-2.7 1.1 2.4 .9 3.3 .6-5.6 1.3 16.7 1.4-13.8 .6 2.7 .7-1 1.2-3.8 .8 5.5 1.1-4.5 1 4.8 .6 2 .9-8.6 1.1 3.6 1.3-.4 .7-2.9 1.2 .7 .5-1.5 .7 6.4 1.2-6.7 .8 5.1 .9-.4 1.1-.4 1.3-.8 1.1 3.1 .9-4.6 .6 4.6 1.4-.6 .9 0 1.4 9.5 .8-9.1 .9 13.6 1.3-13.6 1.2-3.1 .8 1.6 1.2 16.6 1.3-13.1 1.3-3.3 1.2-2.9 .9 6.7 .9-5.1 1 1.3 .9-1.7 .7 6.4 .7-3 1.4-4.8 .8 31.2 1.3-27 .6-5.5 .9 4.6 1.5-2.2 1.4 3.2 1.3-3.9 .9-.4 1.5-3.5 1.2 18.4 1.5-20.5 1 9.6 .6-1.8 .9 21.6 .6-24.2 .5 2.4 .8-1.1 .5 6.3 .8-5.7 1.4-1.4 1.1-1.6 1.1 4.3 1.2 .7 1-3.5 1.2 4.1 .6-.9 1 3.3 1.2 .9 .9-4.4 1.1 .4 1.4-2.1 .8-1.4 1 5.9 .5-6.3 .8 1.4 .8 .8 1.1-.4 .8-5.2 .5-2.5 1 8.8 .8-1.8 .9-3.3 .7 .9 1 5.4 .7 1.4 1.1-5.4 1.4 .8 1.2-1.7 .6 7.1 1.5-1.6 1.4-1.5 1.3-5.1 1.5 20.2 1.3-16.1 .6 3.6 .5-4 1.3 1.2 1 8.8 .6-10.7 .9-.6 .6 7.4 1.4-8.2 .7 3.6 1.4 1.7 1.5-1.9 1.5-3 .5-2.6 .9 .4 .7 4-49.5 32.9"/>
<path class="n" d="M179.1 1653l1.3-.2 .7-5.6 1.7-5 .8 6.4 1.3-6.8 1.7 .1 .8 12.5 1.2-6.5 1.6 3.1 1.4-9.5 .9 12 1.3-6 1.3-6.1 .7 4 .8-4.7 .8 8.5 .8-9 1.1 10.4 .6-6.4 1.1-8 1.4 6.3 1.2 6.1 1.4-9.7 1.7 4.9 1.3 2.8 1.5-15.9 1.7 18.4 1.2-15.2 1 21.6 1.4-12.7 .9-7.4 1.2 .1 1.4 1.8 .9 5.8 1.6 6.2 1.1-18.4 1.1 6.2 1 2.9 .8 3.1 1-4.8 1.5 4.1 1.3 12 1.3-19.4 1 .3 .9 7.4 .6-8.4 1 10.1 1.6 1.6 .6-3.5 1.2 6 1-3.6 1.2-12.9 1.4 1.5 .9 5.7 1.1-2.4 1.6 1.6 .9-3 .7 27.3 1.3-29.2 .7 7.5 1.6-7 1.6 7.7 1.3-10.7 1.1 5 1 5.6 .8-4.6 .8 2.5 .7-4.2 1.7-2.1 .9-3 1.1 2.5 1.2 11 1-8.9 1.2 2.7 1.2 2.9 .9-5.5 1.1 7.1 1.3-5.5 1.1-4.4 1.4-5.2 1.4 18.7 1.5-14.9 1.3-3.3 .9 11.3 1.6-5.1 1.2 1.6 .7-7.2 1.6 9.9 1.1-9.7 1.2 13.2 .6-6 1.2-.3 1.3-7.9 1.5 .3 1.5 4.4 1.2-2.4 1-.3 .8-5.1 1.5 25.1 1.2-27.1 1.5 9.1 .9-1.5 1.4 3.4 1-6.9 1.6-8.7 1.2 10 1.7-3.6 .9 15.9 1.3-13.1 1.1-.8 1.5 8.4 .9-10.6 1.4-4 .8 10 1.6 .5 1.5 1.1 6-47.4 1.1-10.2 1.7 9.4 1-4.7 .9 8.8 1.3-11.3 .9 9.5 .9-1 .9 5.2 .8-5.6 1.5 35.7 1.2-40.6 1.4-4.4 .9 5.6 .9-5.9 1 14.6 .6-1.9 1.4-.1 1.3 4.8 .7-16.3 1.3 14.1 1.3 5.9 1.3-11.3 1.4-.7 1 2.5 .7-6.5 1.3 42 1.7-30.2 1.1-12.7 .8-4.3 1.6 6.1 .8-6.2 1.2 5.2 1.1 3.8 1.1 7.5 1.5-3.8 .8-14.2 1.1 47 .7-43.9 1.3 7.9 .6 17 .9-10.9 1.7-.3 .6-20.2 1.2 18.1 .8-1.2 1.1 2.7 .8 3.8 1.3-13.5 1-1.3 1.5 7.7 1.2-6.9 1.2 13.1 1.3-12.1 .7 .9 .8 23.6 1.3-21.6 1.3 6.3 1.3-1 .8 3.7 1.6 2.1 1.4-1.6 1.4-10.2 .7 13.2 .6 4.6 1.4-11.6 1.4-7.3 1.6 11.1 1.6-7.8 .9-2.5 1.3-1.2 .9 4.4 1.7 16.8 1.2-16.4 1.6-10.1 .7 14.6 1.7 28.1 1.6-34.2 1.5 10.7 .9-5.4 .7 2 1-14.5 .8 13.9 1.5-2.8 .9 6.7 1.3-8.2 1 13.5 1.1-14.8 1.5 5.3 1 7.3 1.3-15.1 1.4 5.1 1.2 7.2 .8 2.4 1 2.3 1.3-15.6 .8 14.7 .9-0 .8-3.7 .7 1 .9 5.4 1.6 1.2 .7-20 1.6 9.1 1-6.5 .8 1.8 .9 3.5 1.5-3.6 1.3 10.4 1.5 .2 .8 2.3 .6-19.1 1.7 29.7 1-12.7 1.4 1.9 1.1-15.6 1.6 1.3 1.6 8.9 1.7 7.5 .8-13.3 .8 8.3 1.7 3.9 1.4-10.2 1.5-1.4 1.5 6.3 1.1-10.5 1.1 4.5 1.6 .8 .7-2 1 0 1.2 11.6 1.3-5.8 1.4-6.2 .8 0 1.7-1.8 1.2 10.5 1.5-6.7 1.6 .7 1.7-.4 .7 10.2 1.8-3.8 1.5 5 .7 2.2 .9-10.2 1.1 10 1.5-9.9 1.5 9.8 1-8.4 1.2-3.3 .8 6.2 .7 8 1.6-9.9 1.2 4.6 1.1 4.6 1.6-8 .9 4.9 .6 11.6 .7-14 1.6 22.6 .7-12 .9-6.7 1.6 35.8 .8-41.2 .9 .3 .9-1.7 .6-.2 1.7-4.8 .6 1.5 1.5 7.3 1 3.8 1.2-8 1.4 13.8 .8-4.5 .7-4 1.6 11.7 1.3-23.2 1 11.3 .8-1.8 1.1 3.9 1 2.2 1.2-6.2 .6-10.7 1.4 14.2 .9 14.2 1.5-25.1 105.2-.1 .9-17.9 1.4 12.1 1.6-.7 1.6-3.8 .8 2.3 1.2 .9 1.6-8.3 .8 7.5 1-4.4 .8-2.2 1.5 3.2 1.5-1.3 .9 21.1 .8-14.2 1.5 .2 .8 2.2 .8-1.4 1.7-12.7 1.4 11.1 1.7 1.8 1.4-7.9 1.7-4.1 .7 2.5 .6 .6 1.7 20.9 .8-34.1 1.2 19.2 .7-3.4 1 7.4 1.7-3.3 1.2 4.5 1.6-5.9 .5 2.2 1.3 5.1 1-5 1-2.1 .8 8.7 .9-5.2 .7-10.3 1 7.8 .6 7.5 .8-1.3 1.7-10.8 1.1 9 1 3.4 1.4-4.6 1 .6 1.7-1.4 1-1.9 .6-.9 1.2-8.8 1.3 11.8 1.6-3.3 .8 5.1 1.4-4.9 .9 13.5 1.7-.8 1.2-8.7 .6-2.4 1.2-3.3 1 1.8 .6 8.7 1.4 .4 1.3-3.8 .6 7.2 .7 2.5 1.2-17.4 .7 14.6 1 2.9 1 .7 1.5-7.5 .8 5.3 1.6-9.9 1.4 14.4 1.6-8.5 1.5 6.1 1-8.2 .8 12 1.5 .1 1.7-17.8 .9 14.7 1.1-3.9 .7 2.6 1.6-7.5 1.3-4.9 .8 12.4 1.3-10.7 1.2 6.2 1.1 8.4 1.1-12.9 1.7 3.5 1.5 7.3 1.4 6.2 1.5-6.6 1.7 4.5 1.2-10.6 1.6 4.5 1.2-9 1.1 9 .8-2.7 1.1 1 1.7-4.7 1.6 1.1 1.3-10.2 1.4 9 .7 3.5 1-7.4 .6-.5 .8 .8 1.7 5.5 1.2 2.5 1.6 .8 1.2 4.6 .8-6.5 1.2 5.7 .8 7.7 1-13.3 .9 5.2 1.6-6.2 .8 5.8 .9 .5 1.5 10.6 1-6.8 1.5-8.7 1.6-3.3 .7 4 1.6 3.9 1.6-8.9 1.4-2.1 1.6 23.2 1.3-16.4 1.4-0 1-4.1 .9 11.7 1.6-1.1 1.4 .1 1.4-9.5 .9 11.7 1.7-14.6 .9-2 .8 11.3 1 1 1.2-.8 .7-7.4 .8 31.8 1.6-28 .6-10.2 1.1 4.7 1.4 9.1 1.4 .4 1.7-5.4 1.7 1.1 1.5-2 .6 4.2 .9-12.7 1.1 8 .9 5.4 1 .8 1.4-4.7 1-7.5 .8 7.1 .7-8.4 1.5-.9 1.3 4.3 1.6 1.2 1.3-4.3 1-4 1.6 3.7 .8 7 .8-11.6 1.5 4.2 1.5 5.8 1.5 7.3 1.5 5.5 1.3-21.5 1.1-5.8 1.5 28.3 1.5-13.7 .7 1.4 1.4-7.6 .9 1.8 1.1 3.9 1.4 3.4 .8-3 1.3-1.9 1.2-13.1 .7 4.9 .9 11.4 1.7 1.6 .7-15.2 .8 2.9 1.6 .4 1.4 13.6 1.2-1.3 .6-11.9 .8 .2 1.8 12 1-5.8 .9-9.2 1.5-1.5 1.1 15.1 1-6.1 1 3.5 .6-5 1.5-11.1 1.2 14.4 .9-3.3 .6 12.6 1.1-7 1.4-4.5 .7 1 .9-16.1 1.3 6 .8 2.8 1.6 14.5 .7-19 1.5 9 1.6-1.4 1.3 .4 1.6 1.8 .7-.5 1-4 1.4-7.7 1.1 10 1.3-8.1 1.2 15.2 .9-10.2 .8 2.4 1.4 2.9 1 10.2 1.2-7.9 .9-5.3 .9 3.3 1.7 .1 .7-5.3 1.1 11.5 1.3-12.6 1.5 .2 .6 7.9 1.6-4.8 1.5-.3 1.7-.2 1.3 11.5 .9-15.5 1.5 6.3 1.5 7.8 1.5-15.7 .7-6.2 1.3 12.8 .8 2.9 1.5 2.2 1.2-10.5 .8-1.9 1.2 2.1 1.4 13.7 1.6-22.7 .9 13.4 1.1 3.4 1.4-13.8 1.1 11.2 1.4 3.1 1.6-5.1 .8 1.2 .9 8 .9-5.3 1.4 4.8 1.6 4.5 .6-12.6 1 11.1 1.7-3 .6 .9 1.6-9.4 1.4 12.5 .8-4.7 1 3.6 1.6-6.4 .8 5.5 1.1-0 1.6 .3 1.2-2 1.6-5.4 1.2-4.6 .9 16.5 1.5-12.8 1.6-4.7 1 4.8 .9 25.2 1.5-24.5 .8 4.2 .8-4.1 1.7 .5 1.4-.7 .6 3.2 .6-4.3 1.7 11.4 1.1-3.7 .9-5.3 1.4 5.4 1.4-7.8 .9 10.2 1.2-12.6 1 8.6 1.2-13.1 1.1 11.8 .9 3.8 .6-6 1.1 18.1 .9-16.7 .6 3.8 1.7 13 1.6-5.9 1.5-8.5 1.1 0 1.3 .1 1.7 1.7 1.6 1.8 1.5 2.4 1.1-6.5 1.2 .6 1.1-2 1.1 12.3 1-5 1 .2 1.1 7.5 .9-11.9 1.3 4.9 1-12.7 1.2 17.1 1.7-1.3 .9-5 1 7 1-6.4 .7 4.6 1.6-4.8 1.3-3.2 1.1 11.8 .9 2.7 1.3-5.9 1.3-3.3 1 8.6 1.4-16.3 1.1 9.3 1.6 4.8 .9 1.7 .9-5.2 1.6-2.4 1.4 10.7 .8-6.3 .6-5.4 .7 1.6 .7 13.5 .7-14.7 .7 4 1 8.8 .6-22.7 1.7 17.9 .8 6.4 .9-7.8 1.3-10.5 .8 11.9 1.1-.8 .6-1.6 1.5 2.8 .8-4.4 1.1 6.9 1.7-1.7 .6 5.7 .6-24.7 1.2 13.3 .8 4.2 .9-12.6 .6-1.5 .8 11.1 1.1-1.5 1.7-3.1 1 2.7 1.7 .1 1.6-.4 1 1.2 1.7-3.1 1.5 6.8 1.4-12.3 1.6 3.7 1.3-13.8 1.6 7.4 1.6 14 .6-.9 1.3-14.5 1.2 7.1 1.1 8.4 .7-18.6 .9 10.4 1.5 2 1-3 1.4-9.9 .6 9.9 .9 6.8 .8-7.2 1.6-17.7 .8 10.6 .9 1.5 .9-.9 .9-1 .9 .3 1-1.1 1.1 12 .8-16.3 1 5.1 1.2 5.1 .6-5.3 1 15.9 1.4-10.2 1.2 8.8 1.6-16.4 1-6.5 1 31.4 1.4-12.5 1.3-17.6 1 1.4 .6 11.1 .8-1.2 .7-10.9 .8 11.1 1.4 3.8 1.1-8.8 1.2-1.4 1 6.6 .7-4.9 1.5 9.1 1.2-5.2 .9-8.2 .9 1.5 1.7-3.4 1.4 7 1.5 3.6 1.1 31.8 .7-34.8 1.6 6.4 .8-7.8 1.6-.3-952.7 76.6 157.1-108.7 256.3 31.7"/>
<path class="d" d="M1355.8 1617.7l.6 3.7 1.1 15.2 1.2-16.7 1.1-2.4 .8-1 1.2-2.6 1.2 4.9 .8 2.7 .6-2.5 .8-9.1 1 3.3 .9 18 1.1-10.1 1.3 0 1-6.9 .8-.8 1 5.4 1.4-.4 1.2-5.6 1.2 2.8 1.3 2.7 .6-5.7 1.3-1.3 .6 7.7 1.2-1.1 1.2-.6 .7 4.6 .5-5.5 1.5 2.4 1.3 5.5 1.2-7.9 1.5-5.2 .8 3.3 1.3-1.5 1.3-.2 1.3 4.5 1.3-.6 1 3 .7-4.3 .8-6.8 .7 10.5 1.4 .7 1-7.7 1.1-3.5 1.5-1.1 1 7.2 1-0 1.4-1.8 .8 6.3 .5-5.9 1-2.7 .9-6.6 1.1 9.7 1.1-1.8 .5 2.9 .6 4.3 1.4-5.9 .9-.3 1.2 21.8 1-21.8 1.5-5.5 .6 7.8 1.1 .6 1-7.9 1.3-.7 .8 7.5 1-4.2 .8 26.3 .6-7.4 .8-16.3 .8-2.8 .6 11.8 .8-3.5 1.2-4 .6-.5 .9-.1 1.4 30.5 1.2-36 1.5 5.7 .8-4.2 .7 .1 1.1 7.5 .6-15.5 .9 7.9 .6 .8 1.3 4.3 .7-9.8 1.3 6.2 1.2-3.2 .7 5.8 .8-3 1.1 4.3 1.4-4.4 1.1 2.4 1.4-3.4 .8 .2 1.3-1.8 1.4 6.3 .9-6.4 1.2-4.3 1-3.4 1.4 5.4 .8-.6 .6-1.6 1.1 7.3 1.4-2.6 .7-2.6 .7 5.7 1 8.5 1.2-8.9 1 1.9 .7-4.9 .9 19.3 .9-21.2 1 .7 1.5 28.9 1.5-24.1 1.3-1.6 .9-3.1 1.3-3.2 .8 8 .8-3.5 .9 4.7 1.4-1.8 1.3-4.6 1-2.2 1 7.1 .8-3.3 1.1-5.4 1.4 2.1 .7 .6 1 .4 1.3-5.7 6.3-33.1 1.1-.2 .6-3.5 1.4 5.3 .8 3.1 1 .3 1-3.6 1.4-1 .7 .9 .6-3.6 .5 6.5 1.1-.5 1.3-4.1 .6 5.2 .6-7.7 1.3 3.6 1.2 5.5 .8-6.8 .8-.2 1.4 2.6 1.3 .9 .9-4.6 .6 4 1-.4 1.3 2.3 1.4 .5 .7 .1 1.3 6.8 1.1-5.2 .8-10.3 .7 1.6 .5 1.3 .8 1.4 .5 1.8 1.2-5.5 1.4 5.3 .7 20.8 .6-19.8 .8-3.5 1.1 5.9 .9-1.9 .8-1.6 .6 5.7 .7-3.9 .5 3.2 1.5-7.5 .6 9 1.1-9.3 1.2 5 1.4 .6 1-.1 .7 4.7 1.5-5.5 .7 4.4 .7-7.3 1.5 1.2 1.5 3.3 1-6.1 .7 2.5 1.5-3.1 .6 .8 1.3 5 1.3 1.8 .5-6.9 1.1 9.2 .7-7.5 1.1-.3 1.3 2.7 .9 5.6 .8-1.6 1.1-6.6 .6 3.1 1.1 2.9 .6-1.1 1.1 .7 .6 1.9 .8 9.3 1.4 21.6 .8-33.4 .6-.5 1.1 1.3 .7-1.3 .6-3 .8 5.5 .9 1.7 1.2 30.4 1.1-34.7 1.2 22 .9-20.8 .5 1.6 1.1-4.4 .8 2.9 1.3-8.8 .7 13.2 .7-4.7 .9 2.6 .9 .9 1-2.2 .9-4.1 1.4 7.6 .9-10.2 1.3 4.7 .7-4.4 1.1 3.1 .6-1.8 1 4.3 .6-5.3 1.2 2 1.1 6.9 .8-3.9 1.3-1.8 .9-3.7 1.1 7.4 .5-5.2 1.3-.3 1 15.3 1.4-10.9 .7-8.8 .6 9.8 1.1-1.1 1.3 13.3 1.5-5 .8-5.7 1-4.5 .7 2.8 .6-.4 .6 6.5 .7-7.1 .8-3.7 .6-.4 1 5.9 .8 4.3 1.5-14.6 .6 15.3 .8-8.8 .8 4.6 .8-3.8 1 7.3 .7-8.8 .6 7.6 .8-.1 .8 14.5 .5-25.7 .6-.6 1 11.4 .6-7.1 .8 1.9 1 .5 .7 2 1.5-5.6 .6 .1 1.1 2.8 .7 7.1 .7-5.2 1.3 30.5 .7-24.5 .6-6.4 .5 4.7 .7-1.3 1.4-7.8 .8 6.2 .6 15.7 .7-14.3 1 5.1 .9-15.8 1 6.4 1.5-.1 .7 .9 1.3-.6 .8 4.6 .7-.5 1-6.3 1.3 1.7 1.4 2.4 1-3.5 1.3 6.5 1.4-3.6 .5-3.5 1.2 2.5 1.4 1.5 1.4-2.3 1 .4 .7 3.4 .7 2 .9-4.6 1.3 3.1 .7-4.1 .9 .1 .9 7.1 .9-.8 .8-2.1 .8-8.8 .6 5.4 .9-5 1.4 6.9 1.3-3.5 .8 3 1.4-5.2 1 3.3 .8-2.9 .6-4.4 1.2 7.5 .5 7.4 .6-13.4 1 2.3 .7 6.2 1.4 2.4 .9-7.3 .7 6.9 1.1-2.5 .8-2.6 1 1.5 .9-5.1 .7 2.5 1.3-.1 1.4-1.1 1.5-4.5 1.2 18.9 1.5-12.7 1.5 8.2 1.5-5.7 1.2-2.1 .7-2.4 .6 7.4 14.7-5.9 .8 1.1 1-1.1 1.8 5.3 1.4-10.6 1.1 10.5 .8 2.6 .8-2.4 1.7-3.3 1.1-4 1.7 14.2 1.1-24 .8-6.8 1.5 26.1 1.4-6.9 .8 .8 .8-7.2 1 4.8 1 13.7 1.1-14.4 1.5 .7 .9-1.6 1.1-.3 .7 4.9 .9-17.9 1.2 21.3 .7 22 1.5-30.4 .8-5.3 1.6 14 1.7 1.7 1.7-3.4 .6-1.3 1.1-4 .8-1.2 1.4 8.4 1.4-2.3 1.5-8.5 1.2-4.3 .6 4.5 1.7 3.3 1.7 5 1.7 4.3 .9-11 1.7 16.9 1.6-13.3 .8 6.2 1.2-6.5 1.6-2.3 .9-4.1 .6 10.9 31.1-9.8 .8 17.7 .9-14 1.4 4.7 1.3 .5 .6-8 1.3-1.3 .9-1.9 1.3 6.4 1.5 2.2 1 2.8 1.5-1 .5-.8 1.1-3 .9 .9 .9-.9 .6 7.1 .8-4.5 .7-4.8 .8 2.2 1 2.1 .6 1.3 1-.7 .6-3.6 .6 3.2 1.3 1.7 .8-.6 .7 1.1 1.4-3.1 .6 2.8 1-8.5 .6 7.3 .8-4.2 1.5 6.9 .9-5.5 1.5 6.6 .6-11.8 1.3 14.6 .5-7.9 .8 3.9 .8-4 1.1-3.9 1 2.6 1 3.4 1.2 1 .7-10.6 1.1 6.4 1.5 4.2 1.3-5 .8 4.8 1.3 17.2 1.3-19.3 1.3 6.2 1.2-11.8 .5 3.8 1.4 4.3 1.3-4.5 1.1 13.2 1.5-10.6 1.1-5.1 1.4 2.2 1.3 3.1 .6-3.7 1.4 3.1 .6-3.9 1.3 36.6 1.3-36.7 .6-1 1.3 2.9 1.3 3.7 1.3-1.5 1 3.6 .9-1.6 .6-3.7 .8 .7 1.3 3.9 1.3-1.9 1.1-3.7 .8-2.5 .7 4.4 1.2-3.3 .8 9.1 .5-.5 .8-8 1.4 3.7 1.2 7.7 1.5-14.9 1.3 27.2 1.4-14.2 .8-5.8 .9-5.7 1.5 4.9 1.4 4.4 .8-2 1-5.8 1-4.3 1.5 9.5 .8-1 .8 2.6 .9-.9 1.1 4.2 .7-3.9 .9 12.8 .8-17.9 1 2.7 .7 .3 1.2-6.1 .9 7.3 1.3 3.7 1.5-9.1 .5-.5 .5 3.1 .9 2.6 1.1-6.8 1.4 9.3 .8-13.5 1.2 8.4 1.1-7 1 9.4 .5-5.4 1.3 6 .9-7.4 1.1 7.3 1.5 14.3 .5-17.1 .6-12.6 .6 8.7 1.1 .9 1.2 13.8 1.5-12.1 .7 2.6 .8-8.6 1.3 9.1 1-5.1 1.1-2.1 1 41.4 .6-38.6 .9-3.7 .6 3.2 1-1.6 1 6.9 .8-3.9 .5 5.9 1.5-3.5 .6 17.3 1.1-8 1.4-14.3 1.4 7.9 .9-4.2 .8 3.9 .6 1.8 1.2-1.4 .8 6 1.5-4.5 1.3 7.6 1-10.3 .6 1.2 .8 3.8 .8-1.9 1.5 10.4 1.3-14 .5 1.5 .7-2.3 .8-1.6 .6-2.3 1.3 6.6 1.3-3.9 1.2 .7 .7 4.9 .7-7.1 .9-1 1.2-3.8 .9 8.3 1.2-1.2 1.4-5.9 .6 2.7 1.2 5.3 1.4 9.6 1.5 24.9 .9-38 1.3 6.5 1-7.5 .6 7.6 .8-1.9 1 .9 1-7.5 .5 3.6 1.4-1 1.4 5.9 1.2 18.1 1-26.7 1.3 8.6 .7-4 .8 3.3 1.5-6.3 1.3 4.5 1.1 15.5 1.1-18 1.3 2.4 .8-5.7 1.2 1.6 .8 2.7 .7-3.4 1.4 5.5 1.3 30.1 1.4-35.1 1-1 1.5-.9 .9 4.3 .8-4.4 1.3 0 1.3 1.7 1.5 1.7 .5-1.1 .8 4.7 1 .6 .9-12.7 .7 10.2 .5 9.2 .7-16.2 1.2-.7 1 5.7 1.2 2 1.1-11.2 .9 11.2 .7-2.9 1-1.1 1.3 6.6 1.1-8.1 .9 .2 .8 .9 1.5-.5 1.2 2.1 .7-0 .7-.4 .7-2.9 .7-1.7 1.1 3 1.2 2.8 1.5 23.8 .5-20.5 1-8.7 1 6.6 .7 4.5 .8-4.7 1.2 20.4 1.1-23.3 .6-.5 .6-3.2 1.5 4.8 .5-1.5 1 .8 1.5-4.5 1.5-4.2 .6 10.9 1.2-1.2 .6-4.3 1.3 1.5 1.2 4.5 1.2-2.1 1-5.6 1.4 2.6 1.4 4.7 1 .9 1 5.5 .5-3.1 .7-1.5 .5 1.6 .8-2.8 1.3-3.3 .5 6.7 .8-4.4 .8-5.9 .7 0 .5 11.7 .9-11.6 .8 1.4 1.1 12.4 1.1-8.7 1.1 4.3 .7-7.7 .7 3.1 1.2 1.9 1.3 .7 .9-3 .8 4.7 1.2-3.5 1 7.2 1.3-10 1.5 2.7 .8 .2 1-2.6 1.2 14.5 .7-2.1 .6-15.6 1.4 5.4 .6 1.3 .8-1 .5 4.7 1.1-6.5 1.2-2 .7 3.3 .7 17.1 1.3-14.9 1.3-12.7 .8 3.9 .6 16.4 1-14.4 .9 6.3 1.4-9.3 .5 10.6 1.1-4.2 .6 4 .8-9 1.3-1 1.1 2.3 .7 0 .7-1.2 .6-1.4 .6 2.1 1.3 2.7 .7-1.7 1.4-1.6 .9-.9 1.2 8.2 1.4-3.3 .6-1.9 .8-.4 1.5 2.5 .7 5.2 1-4.3 .7 .1 1.3-3.4 1.1-.5 1.3 1.8 .6 3.6 1.3-4.9 1.5 6.2 1-7.8 1.4 4.5 .7 10.2 .6-8.7 .8-5.6 1.2 5.6 .9 3.1 .7-11.4 .7 4.4 .8 5.6 1-.1 .8 3 1.1-1.4 .9-3.1 1.4-8.6 .7 3.4 1-.5 .6-2.4 .8 5.1 1.4 3.7 1.4-6.4 1 .4 1.2-6.8 .5 4.4 .8 7.2 1.4 1.6 1.4-.1 1.2-3 1.4-3.2 1 .4 .7-1.1 1.4 2.9 1.4-4.3 .9 9.2 .6-6.3 .5 8 1 11.3 1.1-14.5 1.2-4.6 1 1.1 1.2 .9 .6-3.6 1.3 6.2 1-11.8 .9 14.3 .7-8.7 1.4 5 1.4 .8 .8-1.7 .6 3.6 1.2 .5 1.2-1.2 1.4-8.7 .6 3.5 1.1 1.7 .6-5.2 1.1 4.7 .6 4.5 .6-6 1.5-9.8 .6 9.7 .9-6.3 .6 5.9 .6-4.1 1 6.8 .6 1.4 1.2 4.5 1-.3 1.2-11.5 1.1 8.3 1.2 1.5 .7 12.4 1-7.4 .7-10.5 1.3 6.9 1-1.7 .8-5.3 1.1 2.8 1.5 2.2 1.2 22.2 1.1-22.1 1.3-2.8 .9 2.2 .7-8.2 1.4 12 1.1-6.7 .9-3.2 1.2 32.8 1.1-35.7 .7 7.5 .9 6.2 1.1-3.2 1.2-3 1.5 .1 1.5 5.2 .8-3.2 .8-3.3 1.2 1.5 .5-7 1 11.1 1.4-4.4 .8 3.9 .7-.9 .7-9 .6 5 1.1 1.1 .6 3.8 .5-2.5 1.5 .8 .8-6.1 .7 3.2 1.3-2 1.5 1.4 .8 4.7 .9-8.4 1.5 5.9 1.1 .2 .8-.5 1.2-.6 1 19 .6-21.7 1.3-4.4 1 13.2 1.4-7.5 1.1 .5 1.2 3.7 .9-.9 .7 16.8 .8-15.3 1.1 2.9 .7-3.8 1.2 9.7 1.1-14.7 1.2-2.2 .8 10.8 .7-4.7 1.2 .1 1.3-0 .8-2.3 1.2 4.2 .5 3.9 .8-12 1.3 25 .8-20.8 .9-2.7 1 3.1 1-1.6 1.2 2.8 .5-4.5 1.1 3 .9-7.8 .7 8.2 .9 2 .7-5 1 10.4 .5-5.7 .9-.1 1.4 4.9 .8-11.2 1.3-.6 1.4 3.1 .9 17.4 1-17.9 1.5-2.9 .9 2.4 1.3 1.6 1.5-.2 .6-4.5 1.5 1.2 .7-.1 .8 3.7 1.5 1.5-872.4 25.9 591.4-5.8 33.8-4.5 16.6-4.5 201.6-32"/>
<path class="n" d="M1356 1629.7l1.2 .9 1.5 5.4 1.2-16.5 1.5 7.2 1.2-2.3 1.5 1 1.4-7.3 .8 6.9 1.5-.1 .9 5.6 1.5-5.3 .7-6.4 .5 .1 1.3 18.5 1-25.1 .8 7 1.7 7.6 1.2-9 .7 12.1 .9-4.3 1.3 22.2 .7-33.4 1.6 13.4 1.7 11.5 1-3.3 .6-13.6 1.4 12.3 .6 5 1-14.9 .7 12.2 1.4-5.2 1.1-11.6 1.6 12.7 1.6 .1 .8-.8 .7-8.6 1.4 9.8 1.2 4.7 1.4-21.4 1.6 10.3 1.6 7.5 1.4-10.1 1.2 14 .7-12 1.4 2.7 1.6-5.2 .6 1.1 1.7-4.9 .8-2.7 1.2 6.2 1.5 8.4 1.5-3.6 1-9 .6 .5 .7 5.3 .7 13.1 .9-6.2 1-8.5 1-7.5 1.1 27.4 .8-25.2 1.4 9.2 1-15.6 1.7 4.4 1.5 4 1.5 11 .9-5.9 1.1 6.8 1.4-8.5 .6 .6 1.2-11.5 1.6 5.4 1.6 12.2 1.1-15.2 1.4 7.5 1.6 11.3 .6-9.9 1.7-13.1 1.2 6.6 1.6-10.3 1.7 12.3 1.6-12.1 1.5 13.9 .9-11 .5 15.2 1.6-17.3 1.1 8.5 1.6-7.4 1 14.9 1-5.1 1.7-1 1.3-3.9 .7-4.8 1.1 12.7 .7-16.9 1-3.6 .6 1.5 1.2 13.5 1.7-6.8 1.2 11.6 1.5-16.7 1.4 2.3 1.1-9.6 1.3 10.1 1.2-4.2 .8 11.9 1.7-6 1.6-2 .7-2.4 .8 5 .9-14.1 .7 12.1 1.6-8.1 .9 7.5 1.4 .7 6.5-36.8 1 .4 1 7.5 1.4-.1 1.3 .3 1-14.4 .6 7.5 .8-21.6 .8 26.4 1.5-9.2 1.3-6 1.1 11 1.4 .2 .8 2.5 .8 24.1 1.3-25.3 1.3-4.3 1.8 2.1 .7 5.2 .8 2.8 .7-12.3 1.2 2.9 1 2.3 .8-8.2 1.6 8.7 1.1-2.5 1.3 5.2 1.6-2.1 .7-1.9 1.4 5.2 .6-5 1.5 1.8 1 5.9 1.1-.6 1.2-10.8 1.7 3.3 .6 2.7 1.4-2.2 1.3 5.6 .8-8.4 1.3 7.8 1.5-5.2 1 7.4 .9-13.1 .6 3.2 1-1.5 1.2 7.4 1.3-3.5 1.5 1.6 1.6 2.3 .6 .1 1.2-4.1 .7 9.4 1.3-13.9 1.3 2.5 1.3-2.8 1 9.6 1.1-6.1 1.3 10.2 1.4-12.3 1.5 8.5 .7 30.8 1.1-39.3 1.4-2.2 1.6 5.2 1.1-1.9 .8 3.6 .7 5.5 1.7-2.2 .6-5.8 1.1-7.9 .8 4.2 1.1 3.5 1.3 4.5 .9 4.3 .7 .4 .6-3.2 1.1 7.8 1-11.8 1 4.4 1.3 8.2 1.1-12.5 1.2 6.9 1.6-1.7 1.3-5.7 .6 14.6 1.3-13.2 1.4 15 1.1-3.1 .6-7.4 1.6 1.7 1-7.4 1.2 2.2 1 3.5 .7 2.9 .6-1.1 .8-2.9 .8 1.5 .8-6.2 1.5 24.7 .9-21.1 1.5 1.1 1.3 1.9 1.3 9.4 .9-14.2 1.2 10.3 .9-15.6 1 14.9 1.5-3.4 1-7.5 1.5-2.6 .9 13.1 1.1-3.8 1.4 1.5 1.5-5.3 1.2 16.9 .8-11.7 1.5 10.1 1.3-19.7 1.3 16.3 1-9.9 1.4 9.2 1.2-11.1 1.4 2.4 .7 2.5 .8-4.4 1.3 6.1 1.5 1.4 1.6 2.3 1.2 .9 1.2-3.1 .7-5.6 .7-2.2 .7 11.3 .7 6.8 .8-14.5 1.4 19.1 .9-11.6 .8-5.7 .9 5.9 1.4 .6 1.3-4.9 1-8.8 1.2 6 1.5 7.2 1.7 6.2 .9-5 1.3-17.5 1.4 6.3 1.5 17.4 1.3 3.4 1.5-15.3 1.1 5 1.5 .9 .6-1.2 1.4 2.9 1.2 0 1.2-8.3 1.2 2.4 1.5 44.1 1.7-41.7 1-5.8 .8 4 .8 8.7 .9-14.9 1.2 7.9 1.4-7.1 1.1 5.6 1.7 6.8 1.6-1.3 .9-1.3 1-8.1 .7 12.4 .9 10.4 1.4-17.7 .7 4.9 .9-5.6 1.1 8.1 1.1-7.8 1.6 3.4 1.1 15.1 1.3-14.4 1.4 18.3 .7-16.1 .8-4 .8 .7 .7 8.9 .7-13.6 1.7 13 15.3-22.8 1.2-4.1 1.7-6.7 .7 13.1 1.2-8.3 1-2 .6 4.8 .7 5.2 1.1-10.1 1.5 3.5 1-7 .7 13 1.7-13.2 .9 13.4 1.5-1.7 .8 9.1 .8-7.2 .9-13.8 1 8.1 .7 1.2 1.4 5.1 1.3-15.8 1.4 10.5 1.3 6.2 .9 6.5 1.7-15.7 1.1 2.8 1.1-4.2 .6 12.1 1.8-19.7 .7 1.3 1.3 15.2 1.1 1.6 1.6 5 .7-.5 1.7-10.5 .9-.4 1.4-6.4 1.3 14.2 1 10 1.5-3.7 1.7-5.3 .9-13.1 1.1 .4 .9 13 .7-6.3 .6-2.5 .7 10.1 1.1-17 .8 3.6 1-2.9 1.6 .9 1.3 13.2 1.7-12 .7 3 35.3 2.2 .8 .7 .8 6.5 1.6-2.8 1 14.6 1.4-12.7 1.7 3 1.5-4 .8 .7 .8-2.4 1.6-4.4 1.6 7.9 1.2-.1 .8 7.7 1.5-7 1.6-2.4 1.3 5.2 .8-18.1 1.3 27.1 1.6-11.5 1-3.1 1.1 30.7 .9-28.3 1.3-4.1 1.4-1 1.5-2.3 1.4 12 .9-4.7 .8-4.7 1.2-.7 .7-1.2 .7 5.6 1.4 6.5 .7-4 .8 1.3 1.4 7.4 1-9.2 .8-2.6 1.4-9.2 1.5 7.4 1.4-2.6 1.2-4.2 1.2 4.2 .6 6 .8 3 .9-13.7 1 5 1.7 2.2 .8 6.8 1.1-17.8 1 10.6 .9-.2 1.4 2 1.7-.6 .7 6.7 1.4-16.7 .6 25.1 1.6-19.6 .8 13 1-12.5 1.2-1.2 1.5 7.4 1.2-3.9 1.2-1.4 1.6 1.8 1.1-16.9 1.6 17.2 1.5 .7 .6-4.3 1.1 3.7 .7 4.5 1.4-5.5 .6 2 .8 3.7 1-8.1 1.7-.3 .8 2.6 1.7-11 1.1 18.7 1.7 1.5 1.2 2.5 1-7.5 1.1-.6 1.2-4.9 .8 12.1 1.2-1.8 .9-3.6 1.4 5.5 .6 5.7 1.5-8 1.6-2.1 .9-4.2 1.2 7.3 1.1 4.6 1.4-7.3 1.7-2 1-3.4 1.6 1.9 1 2.5 1.6 3.4 1.2-15.2 .6 35.7 .6-27.7 1.5-1.1 .7 1.1 1.3 9.2 1-12.6 1.1-.7 1.6 1.2 1.5-3.8 .6 14.9 .9-2.1 1.8 6.8 .9-15.5 .8 9.1 1.6-12.1 1.1 15.5 1.1-1.5 .6-4.4 1.4-.6 1.1-1.3 1.4-3.7 1.7-1.1 1.6-2.3 .6 10.6 1 11 1.6-7.7 1.7-4.1 1-2.9 .6-.5 1.3-.8 1.1 7.3 .9-9.5 1.3 3.7 .7 5.5 1.6-3.3 1.6 3.4 1.2-4.1 1.5 .7 1.6-3.7 1 .2 1.6-11.8 .8 12 1.1-5 .7-5 .8 7.9 1.5-7.6 .7 18.7 1.2-2.2 1.4-9 1.6-10.7 1.2 18.4 .7-14.5 .9 .8 .9 4.6 1.2-1.7 1.4 4.1 1-15.7 1.1 50.1 .8-34.5 1.3-7 .7-1.7 .7-3 .6 5.2 1.3 .1 1 6.8 1.4-5.5 1.2 4.4 1-1.4 1.6-4.5 .9 5 .6-.5 1.2-6.4 .7 6.6 1-5.4 .9-.8 .6 5.2 1.4-.7 .8 2.9 1-5.6 1.6 .6 1.5 9.1 1-7.7 .7 .5 1.6-15.5 1.2 7.2 1.4 17.1 1-6.2 1.8-3.8 1.3-12.8 1.2 23.8 .6-8.1 1.6 6.4 1.1 7.7 1.1-12.9 .8-7.9 1.5 1.2 .8-2.8 .7 11.7 1.2-3.1 .8 4 1.7 5.2 1.5-9.4 1.1-5.3 .9-.2 1.7 .9 1.4 1.2 1 9 1.4-7.4 .8-.6 1.5-3.2 1.5 2.2 .7-2.9 .9-.6 1.4 4.8 1.2 7.1 1.5-3.9 1-5 .8 2.4 .9 1.3 .8 5.8 1.4-11 1.2 5.3 1 3.1 1.1 1.2 1.5-13.9 1.2 4.2 .6 7.6 1.7 12.7 1-4.2 1.6-8.4 1.2-.2 1.6 1.6 1.6-13.5 1.3 5.4 .9-3 .6 1.5 1.4 3 1.5-6.7 .8 15 1.6-.7 1.5 7.5 1.3-9.8 1.6-24 1.4 21.8 1.2-6 .7 6.4 1-5.3 .9 8.6 1 .8 1.3-3 .7-8.6 1.7 8.8 1.1 29.5 1-30.2 1.2-2.4 1-1.2 .9 1.1 .6 4.6 .9-6 1.4 7.9 .8-6.7 .8-3.5 1.7 7.6 1.5-15.9 1.5 18.8 1-13.1 1.3-10.5 .8 10.2 1.5 5 1.1-13 1.1 14.2 .7-8.3 1.4 2 1.6 8.9 1.6-4.3 .8 2 .8 6.5 .7-4.7 1.6-7.1 1.7 5.1 .9 4.4 .7 4.9 1.3-22.9 .7 15.7 .9 .7 1.6-3.1 1.6 4.2 1.4-9.5 1.4 20 .9-12.3 1.7 7.8 1.4-11.2 1.7 2.5 1.4 .3 1.5 6.8 1.1-6.9 1.2 7.8 1.5-8 .7 17 1-6.9 .9-9.5 .6 1 .9-2.5 .9 25.6 1.1-22.5 1.6 6.4 1.4-2.6 1 1.8 .9-3.5 .9 9.5 1-1.5 .9-2.5 1.7-5.1 .6 8.2 1.6-9.6 .9-1.8 1 2.1 1.2 13 .8-11.2 .8 1.2 .9-3.6 1.3 .3 1.4 3.2 1.3-6 1.3 7.9 .6-4.7 .7 3.3 1-2.8 1.3-.6 1.5 5.4 .6-6.6 1.4 19.3 1.6-13.7 1.5-2.2 1.6-7.5 1 2.9 1.6 8.7 1-2.4 .8-9.2 .9 20.8 1.5-6.9 .9 4 1.1-2.8 1-9.5 .8 8 1.7-.1 1.5-.9 1.1 8.8 1.4 3.1 1.5-9.9 1.6-2.9 1.2-5.1 1.4 5.1 .7-4.3 1 4.3 1.4-4.5 1.1 10.3 .7-5.5 .8-4.3 1.2 5.6 .7-6 .6 24.8 1.5-26.4 .7 9.4 1.4 .1 1.4-10.8 1.1-5.7 .9 8.6 1.5 1.8 1.4 9.6 .8 2.7 1.1-5.5 1 1.4 1.2-10.2 .9 1.1 .7-.2 1.4 2.8 1-5 1.6-2.1 .9-4.5 1.2 1.5 .8-7.5 1 6.7 1.5-5.1 .9 12.5 1.2-4.8 1.6 7.1 .6-3.3 1.7-7.1 .6 53.3 1-46.9 1.6-16 .8 21.8 .6-4.9 .7-9.2 1.1 11.5 1.2 2.1 .8-10.5 .9 3.5 .9 3.3 .9-6.7 1.1 .2 .6 4.2 .8-1.8 .8 4.6 1.3-4.3 .6-6.2 1 .8 .9-5.4 1.6 10.3 .9-1.7 1.5 3.2 1.2-10.7 1.1 2.8 1.4 3 .5-4.9 .8 11.1 1.6-9.5 1-2.2 .8-5.4 1.2 7.9 1.6 7.5 1.6-2 1.2-2.7 .7 4.2 1.4 3.2 1-9.4 .6 2 1.4 3 1.6-10.1 1.1 5.4 1 3.3 1.6 9 .6-15 .8 9.4 1.5-7.9 .7-4.7 1.1 18.2 1.1-18.1 1.1 5.5-879.2 64.3 84-90.2 388.7 55.5 152-57"/>
<path class="d" d="M179.4 2237.3l1.2 4.9 .9 25.4 1.2-27.1 1.1 1.5 1-.9 1.1-1.3 1.3 3 1.1 .2 1.5-.8 1.2-3.8 1.3 28.6 1.2-22.6 .7-5.4 1 1.7 .7-7 .6 9.8 .9-1.9 1-1.3 .5 .8 .5-1.2 1.2-9.3 .7 7.3 .5 .4 1.2-4.5 .9 18.2 .5-18.6 .9 7.6 1.4 .9 1.1-1.5 .8-4.8 1.1-1 .9 1.3 .8-4.3 .8 11.5 .6-14 .9 15.8 1.4-4.4 1.2 1.9 1.5-1.4 .9 2.5 1.4-5.8 .9 1.1 1.1 5.8 1.2-8.3 .6 2.7 .6 1.4 .9-2.4 1.3 1.9 .7 4.5 1.2-4.7 1.1 1.5 .9-1.1 .6 30.9 .6-28.8 1.4 1.1 1.5-2.3 .7-2.7 .9 5.3 1.2-4.9 .9 2.2 .8 5.8 .9-4.3 1 6.1 1-9.6 .7 .7 .8 2.6 .7 .7 .5-1.3 1.3 2.4 .9 8 .6-4.8 1.2-4 .9 4 .9 3.7 .6-1 1.3-9.8 .8 6.8 1-1.4 1.1 .7 .7-5.5 1 5.6 1-5.6 1.2 3.3 1.4-3.2 .9 .4 1.4 3.1 1.3-4.4 .9 6.4 .9-5.6 1 13.4 1.3-11.6 1.4 6 .9-12.7 1.4 7.9 1.3-4.2 .9 .9 .5-4.9 1.4-1.6 .5 .1 1-.8 .7 4.8 1.3-.7 .7-4.5 .9 2.8 .9 4.6 .7 .6 1.3-6.1 1.4 7.2 1.3-1.9 1.1-7.2 1.1 1.3 1.5-4.8 1.3 5.6 1-2.1 .7 1 1.5 .8 1.2-2.3 .6 2 .9 13.4 .7-11.3 1.3-9.5 .9 9.1 .6 5.5 .7-1.4 1.4-6.4 1.2 24.2 1.4-22.1 1-.8 1.5 1.5 1.5-4.7 .7 1.3 .7 5.4 .7 3.9 .8 24.4 1-27.6 .9-11.7 6.4-45.4 1.5-9.2 .8 2.8 1.2-4.6 1.2 3.1 .8-1.1 .8 1.6 .8 7.8 .7-8.3 1 5.2 1.3-7.2 1.4 3.4 1.3 6.1 .7 9.4 .5-13.2 1.2-.7 .6 1.3 .8-7.8 1.1 4.9 .5 4.1 .6-2.3 .7-.2 1.1-2.5 1.2-2 1.2 31.6 .7-25.6 .9-8.1 .8 9.8 1.2-5.6 .7 3.5 1 39 1.3-42.3 1 .7 1.4 .2 1.1 6.7 1.3-4.2 .6 7.4 1.3-7 .6 .4 .7 5.9 .6-8.6 .6 7.5 .8-6.3 1.3 .8 .8 14.9 1.5-15 1.2 3 .7-2.7 1 2 .8 2.8 .7-.4 .9-8 .7 6.3 1.1-6.4 1 4.3 .7-3.5 1.1 29.2 .9-27.5 .7 4 .6-4.6 1 8.4 .8-6.3 1.3 20.6 .9-22.6 .6 9 1.3-8.5 1.4 13.9 1.2-14 1.4-2.6 .7 2.2 .8-.7 .6-4.7 .6 3.6 .5-.3 1.1 6.4 1.2-3.4 .6-1.7 1-2 1.3-.7 1.3 6.2 .7-2.3 1.1 9.5 1.1-5.3 1.5-.1 1.3-.4 1-6.7 1.4 1.8 .6-3.9 .9 7.4 1 4.7 1.5-8.1 .9 3.2 1.1-.9 1.1-1.4 .7 2.1 .6 .4 .5 3.2 1.5-5.5 .9 3.5 .7-1.8 1.1 1.3 1.4 1.7 1.2-1.1 1.3-1.3 1.1 2.9 .8-11.6 .8 32.7 1-14.9 .9-11.3 1.1 9.2 1.2-14.4 1.3 4.6 1.1 2.7 1.4 21.3 1.2-23.1 1.2 1.4 .9 1 .6-0 .5-4.1 .7 17.4 .7-13.6 1-1.1 .8 2.3 .5-3.6 1.3 5.2 1.1 1.4 .6 3.3 .7-8.2 .6 5.4 .8 11.7 .8-16.8 .7 1.5 1 20.7 1.4-17.4 .8-5.8 .6 3.6 .8 .5 .5-6.3 1.5 6.2 1.3 1.3 .5 3.8 1.1-3.3 1.3 .2 1.2-1.6 .6 .4 .6-3.2 1.5-1 1.1 2.7 .6 2.2 1.2 .4 .6-1.8 1-5.7 1 3 .5 3 1.3-1.2 1.3 2.8 .8-2.2 1.5 1.2 1.2-2.4 1.1 .7 1.4 5 1.2-2.8 .6 1.8 .8 3.4 .6-0 .8-7.3 1.4 8.9 .9-11.2 1.4 2.3 1.5 3 1-4.5 .8 4 .7 14.4 1.1-12.2 1.1 6.1 .9-2 1.1-8.5 .5 2.6 1.4-.2 1.1 37 1.1-38.8 .6 3.8 .5-6.3 1 5.8 .6-1.9 1.2 9.1 .6-6.9 1.4-1.3 1.1-2.4 1.5-1.2 .9-4.1 .9 2 .8 3.3 1.5 3.2 .5-6.6 .8-2.6 .8 6.7 1.3-6.4 .8 5.7 .8-2.8 1.1 8.1 1.3-4.4 .9 .9 .6-1.7 .7 1.6 1.3 13.8 .6-16.3 .7 4.3 1.3 1.5 .9-4 1.1 33.6 .6-35.1 .7 12 1.1-8.9 1.3-4.5 .9 2.4 1.1 9.8 .9-10.3 1.5-4.2 .6 10.2 15.5 16.7 1.6-26.2 .7 1.5 .9 9.2 1.3-5.1 1.6-1.2 .6 1 1.4-2.8 1.8 4.4 1.3-1.5 1.5 .1 1.1 6.5 .9-4.7 .6 5.2 .8-7.4 .8 .6 1.7-3.1 1 5.5 .7-5.6 1.5 0 1.3 3.2 1.7-6.4 1.2 14.6 1.6-9.8 .8-1.1 1 11.6 .9-15.8 1.3 4.2 1.3 1.1 1-7.9 1.3 9.1 1.2-.3 .9 2.9 1.4-1.2 .8-2 .9 5.5 .7-16 .9 11.3 1.6-9 .7 .8 1.6 27.5 .8-18 1.5-6.2 1.4 .7 1.5 10.9 .6-9.8 1.1 1.2 1.4 4.6 1-5.2 1 4.2 1.6-5.1 1.1-1.6 30-.2 .6 0 1.2-3.8 .6 1.2 1-3.4 .9 8.7 1.5-2.8 1.1 15 .6-14.5 1.1-3.2 1.4 25.9 1.1-27.5 .7 1.6 .8 .3 1.4 .1 1.1-.9 .7 7.7 .5-7 1.1 .3 1.5 2.1 .7-3.6 1.2-3.8 .5 15.8 1-.7 .6-8.7 1 1.1 .7-1.8 .6-1 1.2 5.1 1.5-4.9 .9 3.3 1.2-2.3 1.1 2 .9-.3 1.3-2.3 .5 9 1.3-5.3 .7-3.4 .7-2.6 .9 1.5 .7 4.9 1-3 .8 3.9 .7-.9 .6-2.3 1.2-5.6 .9 7.2 .8-1.1 .6-6 .8 8.1 1.1-7.8 1.1 8.4 .8-4.3 .6-2.7 1.3 1.3 .7 12.6 1.4-8.8 .8 1.5 .6-3.8 1.3-1.5 1 6.2 .8-7 .5 3.7 1.5-3.2 .5 2.2 1.5 2.5 .6-6.7 1.2 9 .9-.5 1.4 .5 .6-9.1 .9 16.4 .7-8.5 1.1-1.8 1.1 1.8 .7-3.3 .5 .6 .8-1.9 .9 3.4 1.4-5.1 .8 2.3 1.3-5.6 1.3 6.3 1 1.2 1.2 2.8 1-6 .9 4.5 1.1-5.2 .5-1.4 1.1 .1 .5 1.3 1.3 2.7 .5-4.6 1.2 7.7 1.5-6.3 1 .3 1 2.6 .9-5.8 .6 10.2 .5 .5 .6-8.3 .6 12 1.1-9.6 .6 2.2 1.4-5.7 1.3 2 1.2-1.7 1.2 3 .6-2 1.2-1 1.2-2 .7 1.6 .7 1.5 1.4 1.2 .9 0 .6-3.9 .8 6.5 .9 9.4 .8-10.7 .8 1.7 .9-3.3 1 1.7 1.1 35.9 .5-34.7 1 1.2 1.1 2.9 .6 15.4 .8-14 .5-5.8 1.2-.6 .5-.6 .5 5.1 1.5-.6 1.3-.8 1.4-9.3 .7 4.9 .8-2 1.4 3.6 1 5.6 1-1.9 1.4-1.9 1.5-2.8 .8 2.2 .8 .4 .7-.8 1-2.6 1.2 15.6 1.1-7.5 1.5-9.6 1.2 9.9 1.4-7.5 .5 1.8 .6-3.7 1.4 4.4 .8 1.5 .8 2.3 .8-5.3 1.2 6.5 .9-1 1.5-.8 .7-2.7 1 1.8 1.3-1.5 .7 5.5 1.2 8.7 .8-7.9 1.3-3.8 1.1 13.8 1.5 1.3 1.2-16 1.1 4 .9 2.3 1.1-6 1.1 5.8 1.3-4.2 1-7.3 1.4 4.7 1.3-.3 .8 1.2 1.2 4.5 .7-3.6 1.4 4.6 .6-9.3 1 5.6 1-8.4 .9 5.9 1.3-.6 .6 6 1.4-4.4 .6-.3 .5-6.5 .8 6 .5-3.6 1.1 13.3 .7-12.5 1.3 9 .9-1.9 .8-8.4 1.4 5.9 1.2-2.4 1.1-.8 1.4-1.3 1 6.1 .6-2.4 1.3-1.2 .5 7.4 1.2-6.4 1.2 2.7 1.2-3.3 1.2 6.8 .7-6.1 .7 3.7 1.4-3.4 1.1 1.3 .9-7.1 .8 10.2 .9-2 1-.2 1.1-4.8 .5-1.6 1.3-.2 1.3 27.8 .7-28.7 1.4 5.9 1.1-6.4 1.2 7.9 1.3 8 .9-16.4 .7 1.4 1.1 2.3 1.5-.1 1.3-2.7 .5 12.1 1.3-.6 1.1-5.8 1.1-2.9 1.3-4.6 1.1 4.1 1-.8 1.3-1.3 .9 4.1 .9-5 .8 4.9 .6 .2 .6-5.8 1.4-2 1.5-1.4 .6 5.1 1.3-3.6 1.2 1.2 1.5 1.5 .7-1.3 1.2 2.4 1-2 1.1-3.8 .7 2.3 .9 2.6 .7 .9 1.4-7.9 .9 7.8 1.2 2 1.3 1.9 .7-7.3 .8 3.1 1.2-1.1 1-.1 .9 1.1 1.1-3.4 1-2.1 .5 2.6 1.3-2.4 .7-.5 .9 7.6 1.1-2.9 1.1-5.5 .5 1.7 .7 2.2 1.2-1.9 1.4-.6 1.4 1.4 1.5-.3 .7 5.8 1.1-1.2 .7-7.9 .8 8.1 1.5-6.4 1.1 2.7 .5 3.3 1.1-9.5 .9 4.3 .7-6.1 .7 7.1 1.3 5.7 .9-.1 .5-5.7 1.2 .9 1.3 2.9 .7-3.4 .6-.6 1.2 10.7 1.4-5.7 .9 .1 .8-5.6 .5 20.7 1.2-11.4 1-6.7 1.3 4.6 .8-1 1.3 2.9 1.4 1.9 .7-5.5 .8 5.9 .5-5.1 1.4 1 1.3-1.8 1.3-4.9 1.1 4 .7 4.8 1.2 2.5 1.4-11.2 .8 6.1 .9 1.8 1.1 1.2 1.1-1 1-12.7 1.2 11.3 .9 2.8 .8-2.3 1.2-1.4 1.2-.8 .8 6.5 1.1-1.9 .7-1.4 1 .5 1.4 12.1 .8-18.4 .7 2.9 1.5 1.5 .7-1 1-6.6 1 1.7 1.5 8.2 1.2 3.5 1.3-4.4 1.1 3.7 1.2-5.4 .5 11 1.2-10.2 1.5 14.7 1.3-10.3 1-3.8 .8 4.3 .9-.8 1.2-3.8 1.4 16.6 1-21.9 1.3 8.9 .5 4.4 .7-10.2 .6-3.3 1.1 10.8 1.1-6.7 .5 6.6 1.4-1.3 .9-0 .7-5.8 1.5-1.6 1.3 3.7 1.3-2.7 1.1-4.5 1.4 6.1 .9 1.6 1.1 2.1 .6 10.9 1-9.3 1.3-1.8 .6-3.6 .7 3.6 1.4-1 .9 4.7 1.3-9.3 1.2 6.6 .6 5.1 .6-11.2 1 9.7 .7-4.2 .5-3 1 4.8 1 1.4 .7-6.8 1 7.6 .9 13.8 1.1-16.5 .9 .4 .8-2.5 .9-5.3 1.1 10.2 .7-8.6 1.4 3.6 .9 1.2 1.1-2.2 .8-1 1.2 1.4 .7 .3 .7 1.1 1.4 4.9 1.1-3.5 1.2 38.4 1.2-34.4 .6-7.2 1.1 8.7 .6-4.1 1 1.2 .7-2.2 1.2 2.8 .8-4.9 .7-.5 1.3 2.4 1.1-4.4 .7 4 1.4 7.2 1-13.2 1.4 9.3 .7-4.1 1.4-.3 .5-0 1.4 1.9 .9-4.7 1.4 1.4 1.1 2.5 .8-2.2 1.3 1.3 1.2 2 1.5-3.6 1.5-2.7 1.4 6.5 1.2-7 1.4 1.7 .6 .9 1.1 5.8 1.5-3.5 1.4 .3 1.1-4.6 1-3.2 1.2 3.5 .6 7.3 1.4 22.5 1-26.3 .9-6.3 .9 1.7 .5-2.2 .9 6.4 1.4-.9 1.5 4 1.1 19.1 1.1-29 .6 39.7 1.1-33.1 .9-5 1.4 .7 .7 5.1 1.1 2.9 1.4-3.5 1.3 .6 .7-3.6 1.3-.3 1.2-.5 1.4 8 .8-3.4 .9-7.3 1 8.3 1.2-.5 1.3 6.5 .6-3.2 1.1-6.6 1.1 6.2 .7-8.2 1.3 4.5 1.4 3.5 .7-.1 1.2-1 1.2-12.5 .9 14.9 1-.8 1.1-5.2 1.3 3.8 1.1 8.1 .8-8.1 1.1 3.1 .9-.9 .7 3.7 .8-5.7 1.4-5.9 1.2 8.2 .7 .2 1.1-.8 1.5-1.1 1.1 .9 .9-.4 .5-1.4 1.1 2.1 .7-8.9 .7 8.6 .6-8.4 .8 2.4 1.3 .7 1.3 0 .7-2.3-744.5 36.3 25.5-6 128.5 1 538.8 12 28.2-6"/>
<path class="n" d="M179.4 2251.5l1.1-6.1 1.2 7.4 1.1 4.7 1.1-7.7 1.1 2.7 .7 9.3 1.1-8.4 1.2-3.3 1.2 15.6 1.3-17.9 1.1 8.7 .8 3.7 1.2-3.2 1.5 62.5 .6-68.8 1.5 13.5 1.3-7.2 1.5 .9 1.7 9.2 1.6-19 1.7 9.6 1.4 2.2 .9 5.1 1-5.8 1.3 .8 1.6-6.2 .9-3.1 1.4 13.1 1.3-11.1 1 12.1 1.3-12.4 .7 6 .8-4.5 1.6-9.6 1.3 17.3 .9-2.1 1.1-2.5 .6-4.8 .9 7.5 .9-8.1 .8 8.9 1.2 4.8 .7-11.3 1.5-1.2 1.4-.2 1.5-6.8 1.6 8.1 1.2 9.2 1.1 1.7 1.7-2.2 1.2 11.8 1.4-7.5 1.2 1.3 1.7-10.5 .6 2.4 1.6-10.6 1.2-3.4 .9 .2 1.4 9.1 1.1-1.7 .6-4.1 1.3-1.5 1 .9 1.3 8.4 1.5-7.9 1.3 4.4 1.2-5.7 1.4 2.5 1.3-10 1.6 27.3 1.3-14.5 1.3 2.1 1.1-14.7 1.6-7.3 .7 25.6 .8-13.2 .9 4 1.3 4.4 1-13.3 1.2 10.3 .6 5.7 1 4.4 1.1-22.2 1.2 26.2 1.6-23.6 1.3-.2 1.3 1.1 1.4 5.4 .7 3.9 .8-6.6 1.5-6.9 .7 3.1 .8 4.1 1.4 24.3 1.7-24.5 .9-9 1.2 2.5 .6 15 .8-13.2 .6 11.4 1.6-17.4 .6 1.4 .7 18.2 .7-13.5 1-4.6 1.3-1.3 1.5 3.9 .9 11.4 .8-10.7 1.2 11.5 1.1-3.7 1.4-7.5 .8-12 1.6 19.2 1.7-9.2 1.4-8.2 1.2-8.7 6-24.1 1.4 1.1 1.7 50.5 1.1-64.5 1.1 24.8 .9-7.5 1 9.9 .6-7.3 1.6-5.5 1.1 2.9 1.2 .1 .8-11.1 1.6 6 1.7 1.9 1.1 18.4 .6-31.2 .8 11.6 1.1-2 .6-3 1.3 4.5 1.5 13.5 1.4-7.7 1.1 4.3 1.4-10.1 .8-3 1.7 13 1.4-7.3 1.3 3.1 .6 1.6 1.4-.6 1-0 .9-18.9 .8 5.5 .7 11.5 1.7 4.8 1.4-13.4 1 11.6 1.5-1.2 1.4-1.1 1.7 7.3 .9-18.9 .8-2.2 1-6.6 1.2 7.3 1.3 5.4 1.1 13.8 1.5-14.4 .6 2 1.4 11.1 .7-19.1 1.7 9.3 1.2 2.7 .6 1.1 1.2-8 1.7 11.2 1.6 4.2 .7-4.2 1.1-9 .9-5.4 .7 3.1 1.4-.9 .8-1.5 .8 3.9 .9-11.9 1.3 15.7 1.2-12 1.5 16.4 1.1-3.2 1.6 2.1 .6-6.4 1.5-13 .8 13.1 1.3 42.2 1.4-48 1.6-.5 .8 27.3 1.7-24.1 1.3 5.8 .6-10.1 .9 9.2 .7-1.1 1-3.2 1-.3 .8 2.2 .8 6.3 1.3 1.4 1.7-14.1 1.6 10.1 1.3 17.5 1.1-24.9 1.2 5.6 .7-1.5 1.4 8 1.7 9.7 1.3-5.1 .8-3 1-6.6 1.1 13.2 1.4-7.9 .7-12.2 1 10.5 .9-6.1 .7 17.6 1 2 1.2-18 1.7 20.9 .9-32.5 1.2 19.2 1 24.2 1.1-22.6 .8 53.6 1.6-48.3 1-12 1.1 18.4 1.2-6.3 .7-7.6 1.1 5.6 1.5 4.8 1.7-15 .6 8.1 1.1 .4 1.2-5.8 .7 6.1 .8 4.5 1.3-2 .6-18.5 1.3 5.4 1.6 11.8 1.4 3.8 1.5-14 .9-5 1 9.7 1.5-7.5 1.2 1 .6 1.6 1.7 .7 1.4 .3 .6-4.3 .8 25.8 1.4-15.6 1.1-15 1.6 17.9 1.2-5.7 .9-1.6 1.5 2.9 1.8 .8 .8-4.7 1 5.9 .9-7.1 .7 8.5 .7-10.8 1 6.4 1.6 8.3 1.5-3.7 1.7-2.1 1.6 3.5 1.2 1.4 .7-3.9 1.5-8.6 1.2-2.4 1.7 23.7 1.7-3.3 1.1-2.9 1.2-16.7 1.5 4.4 .6 7.6 1.6-7.8 1.6 7.7 1.5-4.3 1.3 4.5 .9-5.5 1.6 8.4 .9-4.8 1.3-7.8 .9 7.5 1.5 7.2 .8-6.1 1.6-8 1.5 5.2 1.6 4.5 1.1-14.1 1.3 6.6 15.6-10.7 .9-15.3 .8 9.9 .8 11.1 1.7 10 1.7-20.1 1 11.9 1.5-9.6 1.3 2.7 1.6 5.6 .9 6.2 .8-3.7 1 1.6 1.8 9.8 .9-11.1 .6-7.5 1.4 3.1 .8 7.2 1.3-22.6 1.1 13.4 1.6 1.6 1.2-4.1 1.1 8.6 1.6 2.1 1.1-9.7 1.4 .8 1.4 18.8 1.6-11 1.3 1.7 1.5-9.2 1 1.8 1.6 0 1.7 9.5 1.2-6.3 .7 7.5 .9 1.2 .6-13.4 1.4 13.8 1-12.3 .9-3.4 .8 26.5 1.5-23.4 1.8 1.3 1.1-7.8 1.5 1 1.3-6.6 1.1 14.4 1-4.9 .9 18.2 1.1-.3 .9-12.4 29.3 7.5 .9-12.3 .8-6.6 1 1.2 1.5-3 1.4-3.2 1.6-8.7 1.1 21.4 1-.9 1.2-18.2 .6 10.3 .6 6.1 1.1 .1 .8 0 1-13 .8 10 .9 1.5 1.3 2.1 1.4 6.8 1.1-16 .8 22 1.1-25.6 .8 6 .9-5.1 1.1 17.4 1.1-.2 1.4-6.8 .8 4.7 .9-7.9 .6-7.8 1 18.7 1-4.2 .9 7.1 1.4-14.5 1 3.7 1.3 .9 1-12.5 1.1 7 1.3-5.8 1.4 21.4 .8-2.7 .7 4.4 1.7-11 1.3 8.9 .8-14.1 .8 18.7 1-7.4 1.4-3.5 1.8-7.1 1.5-2.3 1 14.1 .7 4.1 .9-15.9 .9-.8 1.5 6 1.7 8 1.3-9.9 1.1 5.3 1.7 4.4 1.1 .6 1.6-8.8 1.2-.9 .8-6.8 1.1 8.4 1-.2 1-4.4 1.3 20.4 1.3-25 1.4 .8 .8-.7 1 1.2 1-3.5 1.7 13.6 .6-1.5 .8 4.1 1.1-13.4 1.3 11.4 1.2-10.3 1.2 2.2 1.2 7.8 1 40.5 .7-43.9 .8 2.5 1.1 3.9 1.5-2.9 1.7-9.7 1.3 7.4 .8 7 1-9.5 1.2-7.6 1.6 11.5 1.5 19.9 .9-10.9 .6-8.1 1.6 .2 1.5 7.9 1.5-7.5 .8 1 1.2 4.9 .9-1.6 .6-5.7 1.1 11.4 .8 1.1 1.6-11.8 .6-2.8 1.1 5.2 1.1 7.5 .7-3.6 1.5-.8 .5-1.3 1.4 5.3 1.1 6.9 1.1-9.9 1.2-8.5 1.6 5.7 1.4-6.3 1 12.5 .6 6.7 1-13.1 .7 7.1 1.5-3.6 1.5 2.4 1.1-13 1 5.3 1.1 3.9 1.3 9.3 1.2-.4 1-6.6 1.1-.3 .8 13.4 1.6-27.8 1.4 9.3 1.7 .1 .6 6.6 1.1-8.3 .7 7.5 1.6 11 1.4-19.8 1.1 15 .8-2.4 1.1-2.5 1.7-.2 1.5 5.7 1.3-8.6 1.7 12.8 .6 7.2 1.1-10 .8-1.8 .7-14.3 1.2 13.6 .9-1.8 1.5-11.7 .7 9 1.7 1.8 1.4-3.5 1.6 7.4 1.1 2.4 .7-13.4 .7 15.5 1.3-14.2 1.3 1.2 .7 .8 1.5 2.3 .9-5.6 1.5 12.1 1.4-11.1 1.5-3.4 .7-4 1.3 10 1.2-1 .6 .9 1-7.5 .7-.2 1.4-6.7 1.3 6.9 .7 5.4 1.6 1.1 .9-5.6 .6-4.8 .9 8.2 .9 9.4 1.3 6.9 .8-12.6 .7-13.5 .7 3.9 .8 3.2 1.2 1.6 1.6 5.6 .7-13.9 1 6 1.3-3.2 1.7 1.4 .9 16.3 1.6-17.7 1.7 2 1.4 4.5 1.2 1.3 1 3.8 1.1-4.9 1.3-15.2 1 24.7 .6-19.2 .8-12.9 .9 16.7 1.3 6 1.1-1.9 .8-10.1 1.3-.4 .9 .5 1.3 6.7 .9-4.3 .8 3.7 1.7-3.1 1.4 3.4 1.3-2 1.3-9.2 1 4.8 .8 5.2 1.7-7.6 1.1 1.1 1.5 6.2 .8-5.5 .9-8 1.4 23.7 1.6-19 .6 9.1 1.6-7.2 1.3-.3 1.3 5 1.6 3.9 .7-3.1 1.2-6.7 1.6 2.7 1.1 4.2 1.1-2.5 1.2-5.7 1.2 1 .8-7.8 1 5.7 .7 5.5 .6-9 1.3 12.7 .7-10.9 1.2 5 1.3 17 1.4-31.3 .7 9.2 1 3.5 1.3 11.8 .9-10.3 1.5 2.6 .9 2 1.3-3.1 1.4-6.3 .6 1.6 1.6 11.4 .9-10.1 1.3 9.1 1-1.6 1.3 .8 .8-1.9 1.3-9.1 1.5 13.7 1.6-4.4 1.7 .9 1-1.1 1.5 2.6 1.4-1.7 1.2-.5 1 6.4 .6-3.2 1.7-13.3 1.4 19.5 1.5 21.4 .6-16 .9-16.2 1.3 9.7 1.1 4.5 1.3-25 1.4 12.7 1.2 3.5 .8 7.8 1-2.8 1.3 .9 1.2-7.2 1.1-9 .9 11.3 1.5-3.1 .8 10.1 1.2-25 .9 11.2 1.5 3.6 1.6-4.8 1.5 2.5 1.7 5.2 1.6-4.6 1.6 17.7 .8-8.7 .9 1.9 .9-20.1 .7 23.2 .7 23.5 1-34.1 .7 9.4 1.4-10.4 1.5 5 .7-5.3 1.6 5.5 1.4-1 1.5 .7 1.5 7.6 .9-3 1.2-3.9 1.6-5.9 1.1-4.7 1.4 11.9 1.4 9.6 1.5-12.5 1 1.9 1.6 .4 1.3 2.3 1.2-2.7 1.3-7.7 1.1 10.7 .9 5.1 1.4-17.6 1.8 13.3 .7-15 .7 20.1 .9-2.7 1.1-2.1 1-2.1 .9-5.3 1 7.8 1.3 3.7 .7-14.8 1.4 9.3 1-9.3 .6 12.7 .9-21.2 1.1 15.2 .7-9 1.3 19.9 1.7-12.8 1.6 10.3 1.4 9.9 1.7-20.2 1.2 3.5 .9 11.4 1-9.4 1.1 5.7 .8 .7 1.6-5.7 .9 1.3 1.2 2.5 1.1 8.6 .8 3.8 1.5-17.7 1.2 4.9 1.2 4 1.7-14.6 1.6 7.5 .9-12.5 1.6 10.2 1.6 4.8 .6 .2 1 .7 1.2 12.1 .9-14.4 1.4-4 .9-4.5 .8 2.2 1.5 12.2 1.4-13.1 1.5 7.9 .9-7.1 .7 11.3 1.1-3.9 1.2 3.4 1.4-3.6 1.7 9.3 1.4-4.7 .7-2.5 .6 7 1.5-9.1 .9 2.4 1.2-2.1 1.1 2 1.3 10.1 .8-1.4 .8-15.2 1.6 8.3 1.1-2.9 1.7 7.6 1.1-5 1.4-2.3 1.7 8.5 .6-5.7 .7-4.5 1.3 7.6 .7-4.1 1.5 3.6 .9-2.1 1.3-3.8 1.3 6.7 1-3.5 1.6 1.2 .9-6.7 .7 6.9 .7 2.8 1.5 10.1 1.7-21.7 1.3-4.9 1.2 13.3 1.5-6.2 .7 8.1 1.5-1.8 1.5-5.5 1-12.2 .6 5 1.2 4.8 1.2-2.3 1.5-2.6 1.5-7.1 1.6 21.1 1-6.5 .7 10.5 1.4-17.2 .7 3.7 .7-0 .9-3.7 1.1 4 1.1-6.7 1 .2 1.6 .7 1.1 9.6 1.3-7.7 1-9.7 .6-4.4 1.7 11.3 1.7-5.2 1.1 .9 1.7-6.9 .8 9.3-953.3 83.9 75.3-0 8.8-15 73.9-104.5 160.9 81.2-103.6-20.7 22-0"/>
<path class="d" d="M1355.8 2231l1.1 .1 1.4-7.1 1.5 7 1.1-5.1 1.2 1.9 1-4 1-.5 1 6.5 1.1-3.9 .7-.2 .7-4.4 1.1 9.1 .9-5.7 1.5 6.3 1.4-1.3 .5-2.3 .9-4.1 1.4 2.1 .6 1.3 .8 2.2 .6 6.5 1.1-5.6 1.2 24.2 .6-23.3 1.5 1.4 1.3-.1 1.2 .1 .7 2 1.1 .9 .7-12.3 1.2 4.4 .9-.9 .5 5.7 1.4-4.8 .6 6.2 .8-5.1 1.2 .3 .6 .2 1.3-2.8 .6 7.1 1.3-7.8 .6 5.4 1.3-2.9 .9 2.4 1.4-.9 1.4 1.1 1.2 5.5 .7 1.4 1.3-5.3 1-6.9 .8 12.2 .5-1.2 1.4-4.4 .7 1.7 .8-.9 1 1.1 .8 6.7 .8-1.7 1.2-8.5 .9 1.5 1.1 1 1 2.3 1.3-7.8 1.3-0 .9 20.3 1.4-18.8 .8 1.5 1.3 14.9 .9-14.9 1.4 27 .9-24.2 1.3-1 .9 2.6 1.4-3.3 .5 1.3 1.1 1.6 .9 3 1-1.8 1-9.4 1.4 3.5 1.3 1.1 1-.5 1.2 2.1 .9 .5 .9 .1 .7-5.2 1.3-2.7 1.2 8.1 .7 19.3 .7-21.6 1.4 .4 1.3-3.5 1.4 3.2 .6-11.7 1.2 10.5 1.1 5.4 1.4-10.6 1 1.5 .6 7.3 .5 1.2 1.4-9.6 1 3.2 1.1-6.1 1.4 12 .9-10.7 1 .4 1.2 1 .8 2.4 .7-3.3 1.4-.2 1.2 3.6 1.3-4.3 .7-3.1 1 5.2 1.3 .2 .9-8.7 1.3 2.8 .8-5.5 1.3 35.1 .6-26.2 1.3-4.2 .8-.5 1 .4 .6 14 .8-19.8 1.2 6 .7 15.6 .8-14.6 .7-4.7 1.1 2.8 1.2-1 1.4-.4 7-48.6 .9-1.1 1.5 5.3 .7-1.7 .6-3.5 1.3 .4 1.3-8.1 1.3 11.3 .6 1.6 1.2-3.8 .8 4 1.4 .7 .7-4.1 1.1-4.5 1.2 3.1 .6-.1 1.3 1.1 1.2 12.2 1-12.3 .7 3.5 1.3 17.2 .9-17.6 .5-1.8 .8 7.9 .6-2.1 .7-10.5 .8 1.5 1.3 8.8 .9-4.4 .6-.9 1.1 .8 1.2 1.4 1.2 2.2 1.3 10.3 1.3-13.2 1-5.4 .9 3.5 1.5 .6 .9 2.6 1.5-5.9 1.2 3.1 1.4 9.6 .7-10.2 1.1-2.2 1.3 1.8 .7 1.9 .5 .2 1-1.3 .8-1.1 1.2 3.6 1.3-.2 .8-4 .8-1.2 .7 27.2 .7-21.9 1.1-3.2 1.3 5.7 1.4 4 1.4-6.8 1.1 .7 .5 14.1 1.3 8.2 1.2-16.9 .5-6.9 .9 3.5 .9 3.5 1.3-.9 .9 4.9 1.2-8.7 .6 27.8 1-29.5 .7 18.2 1.1-28.9 .6 9.2 1.5 4.1 1.4 .6 1.1-2.9 1 4.7 .8 1.9 .8-3.8 1.2 .1 1.2 1.4 1.3 5.4 .5-9 1.3 5 1-.7 1.5 1.7 .7-1.8 1 .2 .6-0 .5-4.1 1.1 3.5 .8-6.2 .8 3.4 1.1 1.5 1.3-2.4 1.5 .2 1.3 1 1.1 4.5 1-2 .7-4.7 1.4 3.5 1.1-2.3 1.1 10.7 .8-10.4 .5-2 1.1 6.2 .6 2.9 1.2-1.4 1.3-4.8 .6 2.8 1 3 .6 3.8 .9-11.7 1.2 3.6 1.3 21.3 .9-28 1 11.2 1.4-6.4 1.3 .2 1.5 1.1 1.4 4.2 .8-2.9 1.3 .7 .7 6.2 .7-3.7 .6-3.5 1.3 10.3 .8-5.5 1.2 .5 1-6.3 .9 2.4 .6 .8 .7 1.3 1 6.8 1.1-6.8 1.2 1.8 .9-4 .6 .8 .7 1.6 .7 1.6 1.1-.2 .8 .2 1.1 2.7 .8-4.5 1 8.5 .7-12.6 .7 8.2 .6-7.5 .8 5.2 1.4 13.8 1.1-5.7 .6-5.9 1.1-.3 1-.9 1.3 7.3 .6-3.9 1.5-5.3 .7 2.3 .6-.9 1.4-.4 .9 2.3 .6 35.4 1.4-37.1 .7 .5 .6-3.1 1 18.8 1.3-13.3 1-5.5 1.4 21.1 1.4-23 .6 1.6 .8 2.3 1.2-5.9 1.4 3.2 1.4-2.9 .7 1.3 1.1 12.7 .9-16.8 1.2-.6 1.4 8.5 .6-7 .6 6 .5 3.4 1.5-1.6 .6-.6 1.1-2.6 1.3-3.2 1.1-0 1.2 10.4 .8-5.4 1.1 .8 .7-4.8 1.4 5.7 .5 2 1.1-4.8 1.1 1.9 .6 4.8 .8-4.9 .9-.8 .9 .6 .6 .7 .5 .4 1.4-2.2 .8-1.4 1.3 5.4 1 2.3 1.3-4.5 1.1 4.6 1.2-3.8 .6-8.9 1.2 8.3 1.1-2.2 1.2-.2 14.3-7.1 .9 .4 1.1 4.6 1.3-3.2 1.6-6.4 1.4 9.8 .8-8.3 1.8 43.9 1.5-36.5 1.5 6.4 .8-1 .9-9.1 .6-.5 1-5.2 1.2 22.3 .8-19.2 1.6 3.2 .9-3.1 1.2 4.5 1.7-7.8 .7 12.9 1.2-9.6 1 2.9 1 3.5 1.4-4 1-3.6 1.4 3.6 .8-1.6 1.7 1.8 1.2-6.5 1.3 .9 1.4 4.7 1.6-2.7 .8 2.2 .7 2.2 .7-.6 1-4.1 1.2-2.6 .9 15.4 1.1-5.3 1.4-1.4 1 1.2 .7-7.4 1.5 4.6 1.1 1.3 1.3-3.5 1.3 7.3 1.3-.1 1.7-7.5 1.4-.1 1.2 1.1 1.3 .3 1 .7 35.3-3.7 1.4 7.9 1.1-9.1 .7 45.3 1-42.4 1.3-.3 1.1 .7 .9 1.1 1.5 .3 1 .1 .6 3.1 1.1-2.1 .9-.1 .7 2.9 1.1-.5 .6 1.8 1-9.7 .8-.9 .8 2.4 .6 11.7 1.2-10.2 .6 2.5 .8 1.9 1.2-7.1 .8 15.6 1-13.6 1.2 2.5 1.1-.5 1.2 .4 .6 11.5 .9-20.5 1.3 4.8 1.3-1.3 1.3 .6 .6 2.7 1.1-1.6 .6 6.5 1.3-.5 1.1-5.1 1.3 1.4 .7 11.8 1.2 3.4 1.4-14.5 .8 15 1.2-14.9 1.1-1.3 1-1.5 .9 16.4 1.5-21.9 1.3 10.3 1.4 1.1 1.4-6.3 .7 3.6 .9 .1 1.3-6.7 .9 6.8 .6-4 1.2-1.5 1.4 3.6 .7 1.3 .9 1.8 1.1-1.8 1.4 8.3 1 1 .8-2.8 1.3-4.4 1.1 1.4 .8-2.9 .7 5.4 .8-5.2 1.4-1 1 7.4 .8-7.8 1.2 .7 .6-1.3 .9-5.7 1.4 8.1 1-2.4 1.4 4.2 .8-1.6 1-4.1 1.4 .1 1.1 3.2 .9 1.4 1-2.2 .8-1.4 1.2 4.3 .7-5.9 1.4 1.3 .8 14 .8-12.2 .8 5.7 1.2-5.8 .8 6.2 .9 5.3 1.3-13.1 .8 6.9 1.5 11 1.1-8.6 .7-6.9 1.2 6.8 .9-1.9 .7 10.1 1.1-11.4 1 9.1 1.4-9.4 1.4 4 1.5-8.5 .9-4.6 1.3 11.5 .6-4.3 .6 1.5 1-.6 .8 4.7 .7-7.6 .7 7.1 1.4-2.5 .7-.4 1.3 1.1 1.1-.5 1.3-.4 .6-1.2 1-1.5 .8 .1 1 23.8 1.1-18.8 .6 1 1-4.5 .6 1.6 1 .1 .7 .9 1.4 3.2 1.4 2.5 .8-4.1 1.1 3.9 .7-4.4 1.2 .6 1.5 6.5 .8-2.4 .9 6.1 .7-1.6 1.1-6.7 .9-.4 1.3 1.6 1-7.8 .9 12 1.1 5.5 1.3-9.8 .6-1.1 1.2 1.9 1.1 20.4 1.3-21.3 .9-4.1 1.3 9.9 1-1.2 1.5-5 .8 20.4 .7-14.2 .9-9.3 .9 2.1 1.4 3.9 .7-2.2 1-4.5 1.2 4.2 .9-4.8 1.2 5.3 1-7.7 1.1 2.3 .5 5.1 1-5.9 1.3 4.9 1.2-12.9 .5 6.2 .7 3.3 .8-.1 1.4-7.9 1.4 1.2 .5 2.2 1.4 1.3 .8-3.4 1.3-3.2 .8-2.8 .5 7.7 .9-4.6 .6 1.7 .9-2.9 1.1 19.4 1.3-19.8 1.1-1.4 .9 11 1.1-9.6 1.2 6.6 1.3-3.1 1.3-.2 1-5.3 1-.2 1.5-.7 1.1 5.9 .6 .1 1.3-5.7 1.4 3.6 .8-1.4 .6-6.3 1.5-3.3 1.1 13.7 .8-7.6 1.4 2 .9 4.2 .6-9.9 1.3 6.4 .9 3.9 1.5-3.2 .9 .1 1-1.2 .6 2.5 1.4-2.9 .9 2.6 .9-6.7 .7 10 .9-4 .7 2.1 1-3.1 1.1 3.7 1.2-1.5 1.1 2.8 .6 1.6 1.4-6.6 1.1-1.9 .7 5.9 1.2-13.7 1.4 3.7 1.1 5.5 1-1.8 .7 .4 1-.4 1.2 .3 1.3 7.1 1.3-5.9 1.1-8.3 .6 10.6 1.5-8.4 1.5 2.8 .6-.6 .9 5.3 1.4-2.3 1 1.5 .8-1 1.3 1.3 .9 3.3 .8-4.2 .5-3 1.3 6.9 1.2-5.4 1.1-1.3 1.3-2.5 .5-1.6 .6 5.6 .7 7.6 1.4-8.2 1.4 22.6 1.3-19.9 1 3.2 1.1 1.4 1-5.6 1-.4 .6 1.1 .7-5.7 1.3 7.9 .8-8.1 1.3 5.7 1.1 1.7 .9 3.4 1.1-6.5 1 1.2 1.1-1.3 1 1.1 1 .5 .6-.8 1.5-.8 1.4 2.1 1.5-3.6 1.3 11.6 .9 .7 .5-9.3 1.3 11.4 1.3 .6 .8-8.6 1.2-.8 .8 7.6 1.1 .4 1.3-4.5 .7-3.4 .7 4.3 1.1-2.5 1.1 6.7 1.3-9.8 .7 3.3 1.3-5.8 .7 1.4 1.1 3.8 1.4 2.8 .5 8.2 1.1-8.2 .8-2.4 .6 5 1 2.2 1.5-2.2 1.2 7 1.2-7.6 .6 6.7 .6-11.9 .7 10.4 1.3-7.2 1 4.2 1.3-.2 1.3-1.6 1.2-2.2 .9 10.6 .5 2.5 .8-15.1 1.1-2.6 .7-.8 1.3 8.4 1.2-9.7 1.1 2.6 1.5 2.3 1.1-.8 1.3-.5 .9 3.6 .8 2 1-3.5 1-5.6 .6 6.9 1-2.4 .9 21.1 .9-16 .8 3.6 .9-8.2 1.4 .4 .5 5.5 1.2-5 .9 1.1 1.2 4.4 .6-.8 1.4 3.8 .9-1.5 1.3-5.3 1.1 5.1 1.1-1.3 1-6.2 .7 17.5 .6-13.1 .9 2.2 1.2-2.2 1 1 1 .2 .8 4.8 1.2-5.5 1.5-4.1 1.2 11.2 .9-9.5 1.3 9.6 .8 16.8 .9-22.5 1.1 .6 .5 3.5 .7-.3 .6-3 .8-3.8 1.1 4.1 .8 25.1 1.1-21.6 1-5.8 .9 4.3 .6 1.2 .6 .3 .5-.7 .5-4 .9 4.3 1.5-3.3 .8 5.7 1.2-2.4 .7 30.7 1.3-38.6 .5 8.6 1-3.6 1.2-1.7 1.3-1.5 1.3-3.3 1 2.2 1 6.7 .9-4.1 1.4 3.4 1 .6 .8 .8 1.2 .4 .6-9.3 .9 18.4 1.4-10.1 .8 1.1 .8 0 .6-6.8 .9 9.5 .8-8.4 .6-2.8 .7 8.3 1.4 3.8 .6-17.4 1.4 7.9 .6 3.3 1.1-2.2 1.3 2.1 .7 .6 1.3-2.7 1.4-1.7 .6 .1 1.1 8.2 1-8.1 .6 5.8 .6-3 1-3.1 1.1 11.4 1.1-5.8 .7-4.1 .5-3.8 1.2 13.7 .7-4.5 .8-2 1.4 29.6 .8-30.2 1.2 12.6 .8-9.2 .8 3.1 1.3-2.9 1.2-1.8 1.4 2.6 .6-7.4 1.2 40.2 1-32.9 .9-3.4 1.2-.9 .8 1.1 .6-.8 1.4 7.2 1 16.8 1.1-23 1 7 1.1 6.6 .9-8.9 1.4-4.1 .9 2.6 1.3-3.2 1 2 .5-12 .6 7.7 .8-1.6 1 2 .7 1.6 1.3 2.9 1-2.4 1.4 2.2 .6-.2 .7 3.2 .8-9 1.2 8.8 1.4-1.7 .5 .9 .7-5.8 .6 7.2 .5-1.5 .6-5 .9 2.9 .7 1.3 .9 9.3 1-10.1 .7-1.9 1.1-3.2 1.1 1.3 1 3.9 1.2-3.4 1 17 .8-18.3 .8 5 1.4 1.9 .7-4.6 .8-2.8 .8-1.8 1 1.9 .6 23.5 .6-20.4 1.1 6.2 1.4-9.2 1.4 5.4 .6-4.2 1.1-7.4 .8 4.3 1.1-.4 .9 1.4 .8 1.3 .5-5.9 .6 3.3 .7 2.5 1.4-6.8 1.1 2.4 1.4 4.8-925.1 27.1 53.2 4.4 127-5.8 26.4 0 127 1 568 1-25.4 6"/>
<path class="n" d="M1355.7 2237.7l.9-4.4 1 3.6 .8 7.4 .6-12.1 .8 7.8 1.6-8.4 1.6 1.1 .8 11.5 1.7-7.8 1.6-4.3 1.5 9.5 1.7-7.9 .6 8.3 .8-11.8 1.2 19.4 1.4-3.9 .8-6.2 1.2-2.6 1.4-5.8 1.3 18.1 1.4-9.2 1.6 6.1 1-4.8 1.1 2.5 .7-12.8 1.2 3.1 1.5 12.4 1.1-9.1 1.2 5.4 1.4 4.8 .6-5.7 1.1 12.4 1.2-15.8 1.3 5.1 1.5-7.8 .7 15.7 1.5-1.2 1-5.3 .6 9.4 .7-13 1.4 36.9 1.3-29.1 1.5 17.3 1.4-19.7 .8 10.7 .6-23.3 1 6.8 .6 3 1.3-6.1 .8 7.5 1.2 3.2 1.7 6.4 .7-4.9 1.6-10.6 1.6 8.5 1.4-7.5 1.1 15.2 1.3-11.1 .6 6.7 1.2-15.4 1.4 10.3 1-.7 1.7-1.6 1 6 1.5-8.5 1.6 1 .7-8.7 1.4 2.4 .6 1.7 .8 4.3 1.6 18.4 .9-24.5 1.5 4.7 .9-4.4 1.2 8.4 1.5-2.9 1 9.1 1.3-24.9 1.1 18.9 .7-17 1.4 3.1 1.2 1.2 1-5 .6 2.1 1.5-6 1.6 10.4 1.1-8.8 .7 3.8 .6 2 .8 4.7 1-3.1 1.5 10.6 .9-17.5 .7 2.4 .6 7.8 .7 1 .9-5.4 1.5-3.8 .8-3.9 1.2 3.4 1.5 1.8 1.4 6 1-2 1.4-4 1 5.9 1.2 31.3 .7-40.2 .9 4.4 1.4-9 .8 13.1 1.2-11.3 1.6-3.3 1.3-3.1 1.2-2.5 1.5 8.1 1.6 6.6 1.4-11.6 1.6 12.6 6.8-29.2 1.1-15.3 .8-10.7 .7 8.4 1.2-.2 1.3-.1 1.4-3 .8 10.8 .6-11.7 .6 5.3 1.1 14 1.7-17.7 1 1.8 1-2.7 1.3 5.9 .9-3 1.4-2.1 1.1 8.6 1.4 1.6 1.1 3.5 .7-10.7 1.1 .7 .9-6.1 1.6 2 1.1-7.6 1.5 17.2 .6 1.9 1-21.9 .8 17.5 1.4 1.6 1.7-3 1.6 .5 .7-13.4 1.2 9.6 .7-2.1 1-10.2 .6 16.8 1-7.2 1.3-.1 1.1-1.6 1.5 .9 .9 8.3 1.7-10.7 1.4 12.5 .8-12.5 .6-8 .8 14.9 .6-13.1 1.4 4.9 1.1 4.3 1.2 6.4 1.2-.4 1.1-4.2 .6 2.4 .9 4.1 1.4-6.1 1.2-.6 .9 10.2 .6-11.6 .7 10.3 1 1.6 .8-15.4 .7 11.9 .9-8.6 .9-.8 1.3 4 1-.2 1.2 5.3 1.5-11.3 1.5 2.6 1.5 15.1 1-12.7 .9-5.9 .9 11.8 1.6 1.6 1.7-.1 .9-9 .7 4.9 1.2-2.9 1.6 2.5 1.1 4.6 1.6-3.6 1.5 7.4 .8 5.2 1.3-11.4 1.5 12.9 1-12.8 .7-8.1 1.2 18.3 1.1-17.5 .7 18.4 1.3-3.4 .8-8.1 1.2-4 1.5-1.8 1.7-7.5 .6 10.2 .7-1.7 1.4 4.6 .6 11.1 1.7-8 1.4 7.6 1.5-7.6 1.4 .4 1 1.7 1.4-1.4 1.7-1.7 .7-5.7 .6 4.4 1-5 1.1 17.9 1.1 4 1.5-20.4 1.2 2.4 1.2 2.9 1.6 6 1.2 7.7 1-15.8 1.7 5.8 1.2-4.8 1.6 4.6 1.7-14.5 1.3 6.8 1.2-4 1 3 1 8.5 1.6-15.8 1.4 8.5 1.4 .9 1.6 1.1 1.1 16.3 .7-23.7 .9 9.7 1.6-1.3 1.4-1.2 1 1.6 .8 17 .9-9.7 1.2 2.1 1.3-2.5 1.5-.6 .9 5.5 1.4-7.4 1.5 14.7 .9-6 1.1-5.5 .8-0 1.6-5 1.1 5.7 1.5-6.3 1.7 9.2 .8-2.7 1.7-3 1.4 14.3 .9-11.3 1.4 4.2 1.2-10 1 14.3 .6-4.5 1.5-9.2 1.6 11 .9 1.6 1-6.5 .9-7 1 2.9 .6 9.2 1.1-18.3 .6 9.2 1.4 1.6 1.3-5 1.3-.9 1.5 15.2 .8-14.5 1.5-5.9 1 7.4 1.1-9.6 1.6 4.3 .9 3.5 1.7-14.4 1.4 16.5 .6-18.1 .7-.9 .8 23.8 .9-.1 .7 1 1.5 .6 15.7-26.6 1.2 2.3 1.6 31.9 1.1-25.5 1.6-2.8 1.2 9.1 1.5-8.8 1.4-2.2 1.7-.2 1 1.7 .7-1.9 1 10.4 .8-2.9 1.1-1.9 1.5 5.1 .7-5.8 1.7-2.3 1.1-1 .7-10.4 .9 8.6 1.1 .7 .8-1 .8 3.1 1.1-1.9 1.5 1.5 1.3 5.4 .8 4.9 1.7 6.2 .8-17.9 1.6 17.5 1.1-24.7 1.5 2.3 .7 15.6 .7-3 .8 16.3 .7-18 .9-15.6 .9 18.2 .7-6.8 1.7 2.1 1.5 8 .9-3.5 1.7 4.9 .8 5.1 1.6-20.5 1.4 12 .7-5.3 .7 2.8 1.2-8.6 1.7 2.9 1.6 20.3 1.2-16.8 1.1 3.3 .6 7.6 35.7-7.2 1.2 4 .7-2.7 1.6-1.1 1.1-2.6 .7 7 1.3-14 1.7 15.3 1.4-8.3 .9-3.8 1.7 11.3 1.2 4 1.1-2.4 1.6-10.1 .7 2.7 .8 4.8 1.1-5.4 1.2 4.5 .7-7.1 .7 14 1.7-17.4 1.1-3.1 1.7 8.1 1.2-1 .7-6.7 1.4 12.2 1.7-1.5 1.4 5.8 .8-10.7 1.5 1.4 1.3 11.9 .8-9.5 1.5-.6 1.1-10.1 1.3 8.2 1-1.8 1.4 3 1.4 5.5 .6-5.5 1.3-6.3 1.6 2 1.2 11.9 .9 9.1 .9-22.8 1.2 10.4 1.6-11.6 1.5 7.9 1.2-3.7 .9 21 .8-24.8 .9 5.4 .9-4.5 1.6 4.4 1.3 10.8 1.5-3.2 .8-8.1 1.2-3.9 1.4-1.9 1.1 24.1 1.4-18.8 1.4 16.7 1.2-20.8 .8-2 .7-3.2 1.4 11.1 1.6 11.6 .8-8.7 .7 2.9 1.2 3.9 1.7 2.7 1-7.5 .9-3.5 1.5 3.8 1.6-4 .8 6.4 1.7-4.4 .6-8.8 .9 11.5 .8-8.5 1.4 14 1.3 11 1.3-9.4 1.4-10.9 1.3 21.4 .6-6.6 1.4-8.8 1.3 3.1 1.1-1.8 1.6-3.9 1.1-2.5 1.4 6.5 1.7-3.5 1.1 1.5 1.3 4.8 1.1 15.6 .6-16 1.7-.4 1.1-4.5 1.1-8.3 1.5 8 1 1.4 .7 8 .7-6.8 1.7 6.1 .6-8.7 1.3 15.4 .7-14.9 1.2-5.5 1.4 21.8 1.3-12.1 1.4 1.2 1.1-3.5 1.5-2 .8 7.4 1.2-1.3 1.5-3.8 1.6 5.3 1.3-3.6 1-8.6 1.2 32.9 1.7-9.4 1.5 3.1 .9-9.8 1 13.6 1.5-24.7 1.5 3.5 .9 5.5 1.7-7.8 1.2 4.1 .9-2 1.1 6.5 1.5-8.3 1-.2 1.2 1.5 1.7 1.5 1 1.3 .7 2.8 1.3 14.5 .8-11.5 1.4 1 1.1 4 1.4-6.7 1.1-1.2 .9 5.4 .9-9.7 1.5 4.5 1.2 3.7 1-14.5 1.5 1.9 .9 1.9 1-5.9 .9 16.5 1.3-2.5 1.1 4 1.3 4.7 1.2-12.3 .9-4.6 .9 10.7 1-5 1.5-10.9 1.3 17.1 1.1 3.9 1.6-11 1.1 2.3 1.5 8.4 1.5-9.7 .7 5.4 1.2-7 1.4-7.9 .6-5.1 .6 18 1.2 18.6 1.4-24.6 .7-4.3 .8-.1 1.3 15.1 1.1-8.7 1.7 5.8 1-11.5 1.5 7.8 1.1 7.3 1-18.5 1.4-.9 .9 9.5 1.5 5.4 1.6-14.9 1.2 .9 1.2 8.1 1.1-3.7 1.5-10.8 .9 10.2 1.3 1.6 .6-4.7 1.7-1.8 1.5 5 .8 3 .8-20.5 1.5 18 1.5-2.5 .9 3.1 1.4-16.2 1 4.4 1.6-1.1 .8-.8 1.3 0 1.3 10.1 1.5-12.1 .7 4.4 .9 .4 .7-7.8 1.6 18.2 1.6-1.1 1.4-14.3 1 2.5 1.4-2.2 .9 1.6 1.7 8.5 1.5 1.4 .8 1.6 1.3-3.9 .8-16.8 1.3 15.7 1 .7 .7 7.5 1.5 1.4 .8-16.4 .8-7.2 .8 3.9 .6 8.2 .7-5.3 1.1 4.5 1 5.5 1.3-14 .7-4 1.3 15.6 1.4-6.6 1.3 16 .7-17.4 1.7-6.4 1.7 16.1 1-3.1 .7-6.4 1.3 13.4 1.1-4.7 .7-4.2 1.5-3.3 1 2.8 1-5.6 1.3 6.3 1-3.4 1.2 8.3 .6-2.5 1-9 1.3 14.6 1.2-1.9 .9-9 1.6 6.5 1.5 3.2 1.7-9.4 1-4.1 1.1 12.4 1-2.3 1.6 .9 .7 8.1 .8-9.1 1.4 2.4 1.3-6.4 .9 13.4 1.4-18.5 1.2 3.2 1.1 22.3 1.1-12.9 .7-7.2 1.4-.9 1.5 25 .7-21.9 .7-6.7 .9-1 1.6 17.4 .9-19.8 1.4 7.1 1.3-.8 .8 10 1.5 .7 1.1-1.5 1.5-.2 1.5-7.1 1.1 3.2 1.5 .2 1.2-3.2 1.5 11.4 1.1-1.1 1.4-8 1.1-2.1 1 4.5 1.1 0 .7-1.3 1.3-1.4 .8-2.3 1-.1 1.7-5.3 1.7 8.1 1.4 3.4 .8 9.3 1.6-12.2 1.3-12.6 .7 16.3 .6-2.6 1.6 3.6 1 .2 .6-7.3 1.6 20 .9-26.4 .9 9.7 1-.1 1.2 3.9 1.3 1.2 1.4 6 1.7 2.5 1.2-3.6 .9-6.7 1.6-.6 1.4 10.1 1.7-10.7 1.6 .2 1.3 4.3 1.2-.9 1.4-1.4 1.2 9 1-2.7 1.3-3.7 .7 11 .6-24.9 1.1 7.4 1 11.1 1.1-1.5 1.4 14.9 1.1-17.5 1.5-5.9 .8 19.2 .7-18.8 .7 5.8 1.7 7 1.7 12.1 1.5-15 1.6-5.3 .7-4.9 .9 2.1 1.6 26.8 1.7-16.3 .7 7.5 1.3-8.7 1.1-1.2 .6 6.9 1-12.5 1.1 2.1 1.5 2.6 1.2-1.8 1.5 7.4 .7-14.9 1.3 9.6 1.7-2.1 1.1-1.2 .7 .7 1.3 8.9 1.3-8.8 1.5-10.2 1.5 13.7 .9-17.3 1.1 19 .6-11.7 .8 4.7 1.5 5.1 1.3 3.9 1.5 .1 1-12.5 1.2-1.8 1.2 8.3 .9 2.6 1.4-11.7 1.6 20.5 1.6-9.8 1.5-2.9 .9-13.4 1.4 15.9 1.2-8.9 1.5 5.7 1.4-12.6 1 6 1.7 .3 1.2 22.8 1.5-21.2 1.7 11.8 1-2.8 .7-4.2 1.1-12.4 1.1-7.1 1.1 16.9 .8-6 1.5 5.2 1.4 1.8 1.1-7.1 1.4 6.1 1 4.1 .6-5.3 1.6 4.9 1.5-8.1 .6-4.9 1.6-.4 .9 4.2 1 7.4 1.1-6.2 1.3 3.5 1.2-.7 1.2 5.2 .7-5.5 .7-.8 .8 29.8 1.7-30.5 1.1 11.5 1.3-5.5 1.5-6.8 1.3 5.4 .8-9.4 .8 5.6 .6 2.5 1.7-12.8-953 94.4 8.9-57.7 64.9 48.7-60.6-3 144.4-124.6 161.3 92.2 4.4-10-107.7-9.6 21 1.8 462-61.8 185.5 77-25.5-63"/>
<path class="d" d="M179.3 2841.2l1 12 .9-13.4 1.2 3.4 .5-1.6 1.4-1.2 .7-2 .8 4.9 1-1.9 .8 4.2 1.2-6.3 1.1 7.7 1-3.8 .7-2.4 .5 5.4 .7-.1 1-4.3 .6 .5 .6 2.9 1.4 .4 .6-4.3 1.3 2.9 1 11.9 .6 24.4 .7-37.5 1.1-1.7 1.4-.1 .8 20.3 1.2-22.5 1.1-4.4 .9 5 .5 14.6 .6-9.2 .6 .1 1.4-5.7 .5 4.5 1.4 2.1 1.2-5.9 1.3 1.6 .9 2.7 .8-4.6 .8 3.7 1.4-2 1.2 4 .7-.6 1 1.8 1.4-6.3 .9 2.8 1.2 .8 1.2-5.5 .7 6.5 .9-1.7 .7 21.1 1-25.4 .7 .3 1 4.9 .9 1.6 .7-11.9 1 6.4 1.4 11 1.3-14 .7 2.9 .6 .5 .9-5.1 1.2 5.4 .7 7.8 .6-9.1 1 .9 .5 3.9 .6-1.3 .5-.3 1.3 11.7 .5-11.5 .7-5.9 .7 32.6 .9-26 .6-3.3 .8-.1 1 1.5 .9 .7 1.4 5.5 .5-3 1.2-2.1 1.2-2.2 .7 29.8 .5-34 1.5 .4 1.4 2.9 .5-1.4 1.3-3.5 1.4 6.1 .8 4.6 .6-9.1 .9-4.9 .8 4.4 1.4 4.7 1.1-.8 1.4-.7 1.2-1.4 1.2 2.9 1.2-4.2 .9 2.5 .6 4.5 .8-2.2 1.3-5.9 .9 2.8 1-.9 .8 7.7 .9-13.5 .8 9.1 1.1 .2 1 1.8 1.1-1.8 1.2-6 1.3 6.2 1.3 4.3 .7 .4 .8 .6 .8-4.2 .7 2.3 .9 .9 .9 2.4 1.4-3.3 .8 1.8 1.4-9 .7 4.5 1.4-2.9 1 10.6 1.3-10 .7 12.6 1-3 1 4.4 1.5 .7 1.5-8.8 .5 9.3 .6 11.1 1.2-20.5 1.3 2.7 .6-10.5 .7 3.6 1.3 2.7 1.2-.1 7.2-51.3 .6 5.6 .6-4.4 .9-1.2 .9 2.4 .6 4.6 1.1 1.6 .9-7.9 1.1 4.1 .9-6.1 1.1 4.8 .8-.3 1.4 2.3 .7-4.9 1.3 1 1.5 6.1 .9-10 .7 4.8 .9-4.6 1.1 3.5 1-.6 .9 2.6 1.4 2.9 1.4 1.1 1.2-5.9 .5 2.2 1.2 .9 1.1-.8 .7 14.1 1.3-2.8 .6-12.2 1.4 2.3 1.4-.9 .6 2.7 .9 .4 1.4-1.8 1.2 2.7 1.3 4.6 .9-12.8 1.2 6.9 .7-2.7 .9-3.9 .5 6.7 1.3-5.4 1.3 .7 .9 3.3 .9-6.8 .6 4.6 .9 3.9 .5-6.9 .9 5 1 .6 1 20.6 .7-26.8 1.1-7.5 1.5 9.9 1.2 6.7 1.2-9.4 .9-.4 .9 .7 1.5-.6 1.1 2.6 .5-2.2 .8 .3 .6 1.8 1.1 1.8 .9-4.6 .9-1.5 1.2 1 1.3 1.8 1.2-3.7 1.1-2.4 1.4 4.9 .5 13.2 1-7.6 1.1-3.5 1.3-9.8 .6 6.8 1.1 1.8 1.3-1.3 1-.5 1 4.7 .5-1.7 1.2-3.7 1.2 8.4 1.4-1.9 .7-11.7 1.3 9.8 1.4-2.7 1-4.7 .6 8 .8-5.7 .7 33.3 .6-29.1 .6-4.2 1.1 10.8 1-7.3 .7-1.2 .8 32 .8-32.6 1.4 9 1-4.6 1.4-3.9 1.2-.6 .7 1.2 .5 .6 .9 1.7 .6-.2 .9 3.2 1.1-4.2 1-1.7 .6 4.4 .6 .3 .7 1.7 1.4-3 .8 19.8 1.5-19.1 .8-5.3 1.3 4.5 1.4 1.6 1.4-1 1.5-7 1.1 6.9 .8-4.9 .5 9.3 .8 11.3 1.2-13.2 1-.5 1.4 .6 .6-1.5 .7 .9 1.4-6 .8 6.9 .8-4.5 .8 5.1 1.5 1.2 .9-6.7 .8 2.9 .7 2.1 1.5 2.5 .9-13.3 1.4 6.4 1.4-3.7 .5 10.3 1.1-4.6 1 2.3 1.1 16.5 .6-16.4 1.4-1.1 1.3-6.4 1.5 1.9 .6 7.8 1.4 6.3 .9-13.2 .6 3.7 1.3 2.1 .9-.7 .6-.7 1.2-1 .8 4.1 1.1-3.6 .7 .4 1.1 .9 1.1-4.9 1 1.6 .9 4.5 1.2 3.7 .9-6.2 1.2 .6 1.1 1.5 .7-2.8 .9-.4 1.3-5 1 .5 1.2-1.7 .9 12.1 1-1.9 1.1-.7 .7-1.1 .6-1.3 .7-.9 .9 1.8 .8 .6 1 3.4 1.4-1.1 1.1-5.6 .8 1.9 1.3-4.8 .6-1.1 .5 32.6 1.3-22.4 1.4-10.4 .7 5.9 .6-2.6 1.2 1.4 .6 6.9 .6-8.1 1.4-5.4 1.3 6.9 .8-5.1 .6 2.4 .6 5.2 1.2-3.8 1.1-.2 1.1 2.4 1.4-2.9 1 1.3 .6-5.5 .8 3.7 1.4-2.8 .6 6.7 .9 .8 1.1-3.4 1.1 .9 .9 4.4 15.8-3.2 1.6-4.3 1.5-.9 1.3 4.7 .9 .1 1.7-3.6 1.3 2.8 1 .3 1.4 16 .8-19.2 .9 14.5 .9-11.6 1.3 1.3 1.8-3.5 1.7 1.2 1.7-4.2 1 8.9 .8-3 1.3 .9 1.7-6.5 .9 3 1 .2 1.1-4.2 1.6 3.4 .7-1 .6-.5 1 4.2 1.6 5.8 .9-7.6 1.7 .1 1.7-4.4 1.8 9.8 1.3-2.8 .7-1.5 1.2 2.7 1.8-5.1 1.7-7 1.3 5.6 .9 3.8 1.6 1.6 .7-5.8 .8 3.6 .8 4 1.1-2.7 1.6-1.2 1-3.8 1.5 5.4 1.5 2.2 .7 26.6 29.8-33.8 .6-2.8 1-1.8 1 6.1 1.3-5.8 .7-1.8 1.4 17 .9-11.5 1.5-7.4 .7 2.4 .8-2 .6 .2 .8 4.1 .6-4.9 1.5 5.9 1-1 1-1.5 1.3-.3 1.1 1.7 1.2 8.2 .9-8.8 .7 5 1.1-7.4 .6 2.8 1.1-1.5 1 2.3 1.1-1 1.5 5.8 1.2-8.2 .8 5 1.5 .5 .5 5.7 1.4-4.4 .6 1.7 1.1-4.1 .5-.7 .6-2.1 1.2 1.8 1 2 .8 .2 .6-1.2 1.2 22.9 .5 .6 .6-20.2 1.1-2.7 .9 2.6 1.2-3.7 .8 4.6 .7-.2 .8-4.2 .8 3.6 .9-3.3 1.1-.6 1.2 5.5 1.2-3.6 1.1 0 .8 20.9 1.4-13.4 1-3.9 .6 1.7 .5 3.1 1.5-6 .8 1.4 1.3-1.9 1 17.3 1.2-16.9 1.2 16.3 1.5-5.6 1.4-10.1 .6 1.1 1.2 4.4 1.4-5 1.3 .2 1.3 1 .6 14.2 .8-12.6 1-2.7 .9-2 .9-1.9 .8 2 1.4 1 1.3-.9 1.2-3.1 1 5.6 1.1-3.2 .7-1.2 1.4 7 .6 1.9 1-4.5 1.4-6.6 1.3 6.2 1.3 4.1 1.3 19.2 1.3-4 .7-1.5 1.5-16.3 1.2-6.2 1 3.2 .7 48.1 1-48.4 .5 1.5 .7-.3 1.2-1.4 .7-2.8 .7 1 .9-4.2 1.1 2.2 1.2 14.9 1.3-16.5 .8-.1 .8 6.4 .6-2.3 1.2-.5 1 1.1 .9 6.5 .6-7.2 1.2 28.4 1.2-29.6 1.3 24.6 .9-22.4 .6 2.8 1.1-.3 1.1 12.7 1-15.9 1.3-2.2 1 5.7 .7-5.8 .8 .3 .5 1.9 .7 5.1 1.1-3.8 1.5 14.7 1.3-18.2 1.1 3.1 1.2 3.2 1-3.6 1 4.9 .7-6.8 .8 18.8 1-9.9 .7-7.9 1.2 2.4 1 0 .6 .1 1-1.6 1.3-2.9 1 8.7 .9-7.2 .8 4.6 1-3.6 1.3-3.2 1.3 2.6 .7 7.1 1.1-2.2 1.3 .6 1.3-2.4 .9-.3 .8-1.6 1.3-1.9 .7 .7 .6 2.2 1.5 2.1 1.1-3.4 1 2.8 1.3 4.3 1.2-4.1 1-.6 1.3 .7 .9-2.5 .7-1.7 .8 13.2 .6-12.5 .8-3 1 1.7 .8-0 .9 5.7 1.4-3.2 1.1-2.5 1.4 4.4 .9-4.3 1 2.1 1.4-3.6 1.3-1 .8 4.3 1.4 4.9 1.5-6.7 1.3-2.5 1.2-4.5 1 5.8 1.1 1.5 1.4-0 1.5 4.8 1-2.5 .7-2.5 1.2 3.4 1.3 .9 .8-2 1.2-1.4 .9 .6 1.5 15.8 .6-17.8 .7 6.8 .7 19.9 1.3-25.6 1.1 2.9 .6-1.6 1.1 4.3 .7-4.4 1.3-3 1.4-1.7 1.1 5.2 .6 5.4 .8-5.7 1 3.9 1.2 7.3 .8-8.7 1.2-5.4 1 5.5 1.3-1.5 1.1-.2 1-1 1.4 5.7 .7-3.7 .8 6.7 .8-9.6 1 4.2 .7 5.4 .9-6.9 .8-.5 1 .5 .9-4.3 .6 6.7 1.2-1.4 1.1 5.7 1.3-2.5 1-1.1 .7-3.1 1.4 4.8 .6-3.5 .6 5.4 1.4-1.9 .6-3.6 1.1 2.5 1.3-4.1 1.3 3.1 1.1-3.9 1.4 8.1 .9-5.5 .6 .8 1.4-4.2 1.3-1.5 1.2-.8 1.2 3.5 1.3 4.4 .5-7.1 .6-.2 1.5 7.8 .7-8.1 1.1 5.8 1.2-4.5 1 6.5 1.2 2.7 1.4-8.2 1-.2 1.4 2.2 .7-3.8 1 1.3 .6 1.3 .8 13.2 .7-14.1 1-4.1 1.3 5.5 1.1 2 1.4 3.2 .6-12.3 1.2 5.5 1.3 2.9 .8 .9 .9-3.7 1.2 1.8 1.3 10.3 1.2-8.5 .6-4.6 1.4 9.1 .6-5.6 .7 1.7 1-1.8 .7 2 1.1-2.8 .9-3.3 1.4 3.1 .6 1 1.4-6.4 .6 15.8 .7 8.2 .8-18.1 1 8.5 1.3-6.8 1.3-2.5 1.2 .2 .8 25.5 1.4-26.2 1.1 6.9 .7-5.1 1.5-4.6 .8 3.3 .6-.7 .5 1.7 .8 1.2 .7-2.4 1 3.3 .7-.4 .7-.3 .7 3.1 1.4 1.2 .9-2.2 .8-5.4 1-1.7 1.1 5.6 1.2-2.6 1.4-2.8 .5 6.4 1.2 24.7 1.4-11.8 1.1-9.7 1-1 .8-5.4 1.3 .3 1-3.5 1.2-.5 1.1-3.1 .6 10 .7 .3 1.2-3.1 1-1.8 1.2-1.6 1.1 7 1-3.9 .5-.3 1.1 1.3 .7 2.4 .9 .6 .6-2.8 1.3 4.9 .9-8.9 .7 8.1 .8-5.8 1.4 1.8 .5 1.9 .6-9.5 .6 12.1 .8-11 .8 5.9 .9-3.3 1.5 1.1 .8-3.6 1.2 2.8 1.2 30.7 .5-30.6 1 2.8 .7 .8 1.1-1.4 .7-3.2 1.5 21.7 .6-20.4 .7 .6 1-2.3 1.3 4.7 1 1.3 1.1-6.6 1.4 1.3 .8 3.3 1.2-5.1 .8 2.5 .8-1.2 1.4 .4 1 1.6 1.2-4.4 .6 4.6 1.3 .5 .6-2.3 .5 3.7 1-3.5 .5 1.5 .8 .2 .5 2.7 1.1-.9 1.4 6.7 1.2-1.1 1.1 .4 .9 .6 .6-3.2 .5 28.3 .6-35.4 .6 4.9 1.2 1.1 .6-.4 1.5 12.2 1.4-12.4 .8 .7 1.2-.3 .7 1.3 1.3-7 .5 5.3 1.2-2.3 1.3 5 1.2-7.7 1.4 6 1-7.6 1 3.8 1-5.2 1.3 7.7 .8-3 .7-3.2 .8-1.2 1 3.3 1.5 10.8 1.3-11.8 .5 .5 .8-.2 1.3 .7 .6-4.7 1.1 2 1.3 8.9 1-3.3 .7-.3 .6 13.9 1.3-10.9 1.2-4.2 .9-3.9 1.1-.6 1.4-1 1.3 34.5 .7-37.4 .9 13.7 .8-9.5 .5 5.2 .5 4.5 1-2.7 1.4-4.6 1.2-1.5 .9 27.7 1-23 1.1-6.1 1 7.9 1.4-4.2 1.3-3.7 .7 5.7 .7-1.6 1.3-6.3 1.4 7.6 1-2.4 .7-1.1 1.1 7.9 .7-4.5 .9 1.3 .7-1 .7 29.2 .6-28.6 .9-5.3 .8 6 .5-11.5 .8 17.5 1.5-15.7 .8 4.9 .7 3.2 .8-5.2 1.5 3 1.4 17.5 1.4-19.5 1.1-1.9 .9 5.5 .8-1.1 1 19.3 1.5-25.1 .5 5.6 .9 3 1.1-1.1 .7-1.8 .6-0 1.4-1.6 .7-1.6 1 4.2 1.3-3.6 .8 20.5 .7-20 1.3 1.4 1.3-2.4 1.4 1.4 .8 4.1 .6 .5 1.3-7.8 .7 3.4 1.4 2.9 1.3 4.9 .9-2.5 .7-1.3 1.1 .6 1-.2 .7 .1 1.2-6.4 1.1 7.8 1.1-2 .7-1.8 .6 2.8 .5 5.8 .7-3.8 1.4-5 1.1 4.7 .5-8.4 .7 5.9 1.3 3.6-471.7 24.4 423.2 6"/>
<path class="n" d="M179.2 2858.5l1.4 5.9 1.7-.9 1.2-.9 1 .5 1.7-3.3 1.1 5.6 .9-13 .7 16 1.5-5.6 1.6 3.8 1.7-4.9 1.2-0 1.1-12.8 .7 16.3 1.1-8.2 .6-7.4 1.4 19.6 1.6-15.9 1 16.4 .6-9.5 1.6-6.1 1.1 9.3 .9-3.1 .7 26.3 1.2-28.4 1.1 6.3 1.6-4.3 1.3 .6 1-3.7 .8 2.4 .8-5.3 1.5 16 1.3-10.3 1.5 8.8 1.1-6.6 .9 6.5 1.4-11.3 .7 4.7 1.2 .6 1.3 14.5 .9-16.2 1.5 .3 1 4.3 .8 4.2 1.6-5.8 .7-5.7 .9 3.7 .9-.4 1.6-1 1.3 13.8 .7-3.5 1.2-7 1.4 7.2 1.7-7 .7-5 .6 6.5 1-9.3 1.7-1.7 1.6 .9 1.4 5.6 1.6-4.3 .7 8.6 1.3-7.7 1.4-4.8 1.4 6.2 1.5 6.4 1-7.5 1.5-5.4 .9-3.5 1.7 44.1 1.1-37.1 1 8.6 .9-13.8 1.2 2.2 1 3.5 1.3 8.7 .8-6.9 1-7.6 1.3 6.5 .8-13.3 1.4 10.3 1 2.5 .6 6.5 1.6-12.6 1.2 14.6 1.2-9.6 1.7 .8 1.4 4.8 .6-7.2 1.5 4.5 1 .1 1.6-3.1 1.3 5.3 1.1 1.1 1.5-4.9 1.7-4.9 1.5-3.2 1.5 12.4 1.7-.8 1.1-12.8 1.1 5.1 1.3-4.2 .6 7.1 .7-.9 1.5-7.6 1.7 11.4 .8-4.4 1.6 1 .6 3.4 1.3-13.3 1.6 4.1 .8 6.7 1.1 6.5 1.1-9.5 6.7-42.9 1-6.3 1 2.7 1.6 12.7 .8-15.9 1.3 15.8 1.4-18.7 .8 4.8 1.4-5.7 1.3 9.6 1.3 2.5 .9 2.8 .6 2.3 .7-12.4 .7 5.2 1.6 45.7 1.1-53.7 1.6 13.4 1.3-10.1 1.2-.2 1.7-6 1.4 3.6 1 2.5 1.6-1 .8 .1 1 7.3 1.2 .6 1.4-6.7 1.5 7.9 .7-16.8 1.1 3.1 1.7 .5 1.7 3.1 1.3-1.2 1.5 19.4 1.5-18.3 .8 3.6 .7-8.3 1.2-.7 1 7 .8-13.9 1.4 16.6 1.3-7.8 .8-4.5 1.6 7.2 .8 7 .8-12.4 1.7-1.5 1.1 12.1 1.6-4.7 1.4 2.9 .9-8.8 1.7 10.5 1.4-6.1 1.4 7.1 1-3.5 .6-12.3 1.2 18.3 .8-5.1 1.5-2.1 1.7-12 1.3 10.4 1.4-7.6 1.1 4.3 1.6 7.5 .6-.2 .7 2.3 1.4-4 .7-.4 .7 7.3 .8-7.8 1.1 5 1.5 3.9 1.2-5.6 1.3-2.3 1.2 5.5 1.5 1.8 1-5.2 1.5-9.6 .8 10.4 1.4-3.5 1 3 .8 51.7 .9-49.7 .9-8.8 .7 10.2 .9 6.1 .9-12.5 1.5 29.6 1.6-27 .6-5.5 .6 5.9 .7-3 .8-2.8 1.4 2.8 .9 11.6 1 4.6 .6-10.8 .6-.3 .7-5.9 1.4-4.9 1.2 7.6 1.7-2.4 1.4-1.3 1.3 11 1.5 .6 1.1 1.3 1.3-15.9 1 23 1.5-9.8 .7 5.8 1.4-.5 1-5.4 .8 9.2 1.1-6.1 1 5.9 .6-5.2 1.2 5.1 .7-16.8 1.4 12 .6-1 .8-3.9 1.2 6.2 1.1-6.4 1.6 3.7 1 2.9 1.1-4 .6 .6 .8-6.5 1.4 9.5 .8-10.6 1.2 8.4 .7 .1 1.5-7.7 1 9.9 1.6-5.8 .7 1.3 1.2-6.6 1.6 7.2 1.1-8.9 .8 17.3 .8-12.6 1.3 18.8 .8-27.2 .9 7 .9 5.9 1.1 2.5 .7 2 .9-3.5 .8-5.2 1.4 1.1 1.7 2.9 1.2-9.4 1.5 8.4 .7-10.6 1.2 1.5 1 8.5 1.5 3.3 1.3-2.3 1.1-.3 1.5 6.9 .6-22 .9 19.2 1-12.9 1 22.2 1.6-6.8 1.7-5.7 1.1-2 1.6-3 .6 6.9 1.4-9.6 .9-3.9 1.2 3.4 .6-5.1 .7 4.9 1.3 14.1 1-8.7 1.3-7.2 1.2 9.1 .6-.2 .8-3.9 .9 .8 .9 8.3 1.2-2.4 .9 1.1 .7-6.7 1.2 7.4 1.6-4.4 .8-4.6 1.2 20.5 1.2-16.3 15.5-4.6 1.5 7.4 1.1-10.3 .9 2.9 1.7 8.9 1.3-11.1 1.2-5.4 .7 11.4 1.4-8.8 1.2-.6 .6-1 1.8 9.6 1.3-2.8 1.1 4.5 1.6-.5 1.6 7.9 .9-10.5 1.5-7.1 .8 5.1 1.7 2.1 .7-2.4 1.7 9 1.2-9.6 1.5 8.4 1.4-8.9 .7 5.7 1.4-3.4 .8 8.7 1.1-5.3 .8 12.3 1-2.3 .6-3 1.3-5.1 1-1.7 .6 11.9 1.5-16.3 1.2-7.2 1.1 18.3 .8-5.8 1.5 1.5 1.2-.5 1 3.2 1.1-3.1 1.6 8 .8 2.3 .8-12.5 .7 7 1.5-1.8 1.4-4.1 1.7-2.6 .9-0 .8 3.7 29.6 10.8 1.3-26.2 .9 15.6 1.2-9.3 1.6-9.5 1.3 9.1 .7 .8 1.1 4.1 1.5 1.2 1.5-3.5 1.3-15.5 1.6 7.9 1.1 13.1 1.6-7 1.1-.2 1.2 1.1 1.5-14.5 1.8 30.3 .6-13.9 1-.2 1-2.4 .9 8.4 1.5-3.3 .8-8.5 .8 5.8 .7 3.5 1.5 4.4 .6-16.4 .9 3.7 .8 2.4 .8 5.9 .8-3.9 1.1-1.1 1.3-3.1 1.5 3.9 1.3-3.9 1.3 3.7 1.2-7.2 .7 9.6 1.3 4.7 1.1-3.1 .6-5.3 1.3 6.8 1.3-4.3 1.3 2.5 .8-6.4 1.6 3.1 1 5.2 1.4 7.9 1.5 3.9 1.7-11.2 .5-2.5 1.6-0 .7-.2 .9-2.3 1.2 1.8 1.6-7.2 .7 3.7 1.1-4.4 .8 19.6 1.4-7 .8 3.4 1.1-16.1 .7 12.8 1.7-2.8 1.5 .6 1.4-7.7 1.3 1.5 .6 14.3 1.6 5.9 .8-18.7 1.5 2.6 .8 9.5 1.2-.3 1.6-8.5 1.2 2.6 1.1 .6 .7 8.5 1.4-16 .6 3.5 .7-1.3 1.2-2.4 1.4 3.5 .9-.7 1.2 5.4 1 5.2 1.5-13 1.2-1.1 .7 8.6 1-2.4 1.2-2.9 1-2.9 .8 9.9 1.7 2.9 1.4-2.1 .7 .1 .7-9.8 .9 10.3 1-10.6 1 6.2 1.5 .6 1.1 .3 1.3-17.8 1.6 16.9 1-2.3 .9 4.6 1.1 17.2 1.4-27.2 1.4 12.7 .9-3.1 .7 2.3 1.4-8.6 1.3 3.3 .8 5.2 .8-.9 1.4-2.6 1-5.2 .7 6 1.2-2.9 .9 13 1.2-8.5 1.3-6.5 1.7 12.9 1.4-10.2 1.1 .2 1.2 4.5 1.4-8.5 1.2 .6 .8 6.8 1.5-1.8 1-6.7 1.2-5 1.1-5.6 .7 29.6 1.5-13.1 1.4-3.7 1.3 1.6 1.5-4 1.4 19.4 1.7-5.5 .7 8.4 1-20.3 .9-1.5 .6 13.1 .9-14.1 .7 7.5 1 5.3 .6-4 .7 3.3 1.7-1.3 1.6-13.3 1.2 11.4 1 2.3 .8 4.5 1.1-11.5 1.7 3 1.4 9.8 .8-21.3 1.6 .3 1.4 3.9 .9 14.3 .6-5.9 1-3.6 .7-4.8 1 15.3 .7-8.3 1.2-9.8 .9-.2 .5 3.8 1.3-.6 1.6-2 1.1 7.6 1 2.6 1.6-11.8 .7 5.2 .9 7.6 1.3-11.5 1.3 8 .8 3.7 1.4-2.7 1.3-3.5 .6 1.5 .6 1.9 1.5-4.7 1.6 2.9 .9-11.1 1.7 13 1-11.7 1 4.5 .8 5.8 1.1 1 .6-5.5 1 .7 1.2-5.6 1.3 11.4 1.3-6.3 1.3-5.8 1 14.8 .7 2.3 1.3 3 1.6-16.2 1 9 1.6-2.9 1.3-10.1 .9 4.9 1.7 1.5 1.3-.3 1-1.4 1.4 4.9 .8-1.3 .7-9.3 1.4 7.2 .9-10.1 .9-3 .9 8.3 .7-.2 .8 61.3 1.2-52.4 1-6.7 1 3.5 1.4-3.7 .7 3.2 1.7-6 1.3 10.9 1.7-1 1.4 .8 1.5-2.4 1.1-15 1.6 20.5 .8-1.7 1-15.8 1.4 7.4 .7-2.9 1.7 5.9 .6 4.1 1.2-10.5 .7 3.5 1.5 7 1.1 2.4 1.6-9.3 1.3-6 .9 14.6 .7-6.7 .6-2.4 1-18.5 1.7 11.9 .8 12.3 1.6-2.1 1.1 2.8 1-7.2 1-3.6 .6 3.5 1.4 .9 1.6 .1 1.3 5.7 1.3 20.1 1-32.8 1.6 6 1.5 1.1 1.7 6.8 1.3-4.8 .8 1.2 .8-1.7 1.6-.1 .9-.9 1 2.8 .8-3.9 1.1 7.1 1.7-11.2 .9 3 .6 3.9 .8 9.7 1.3-8.6 1.7-1 1.2 4.4 .8-11.9 1.2 10.9 1.6-6.2 1.5 1.7 1.1 25.5 .8-18.4 .6 2.2 1.5-12.2 1.6 10.8 1.3-14.7 .8 4.3 1.3-4 1.2 7.5 1.1-10.7 1.4 9.3 1.3-2.5 1.4 5.1 1.7-15.9 1.7 13.9 1.1 4 1.2-.6 .7 5.5 .7-11.6 .6-.8 1 15.1 .7-10.6 1.7 .7 .9-3.6 1 8.5 1.4-8.5 1.1-8.2 .7 18.8 1.3 4.8 1.4-20.4 1.1 4.4 1.3 5.1 .9 2.9 1.1-4.5 .8 15.9 .6-4.3 1.2-1.7 1.2-13.3 1.2 9.7 .9 7.9 .7-8.9 1.2-1.4 1.5 12.3 1.7-7 1.2 4.3 1.1 1.4 .8 7.5 1.6-19.7 .7 3.8 1.7 8.8 1.4-.2 1.7-11.1 .9 5.9 .8-7.1 1.7 13.3 .8 1.1 1 .6 1.5 .2 .9-7.9 1.5-3.5 1.1 5.7 1.3-10.4 1.4 2.7 1.7 .4 .9 5.3 1.1-5.2 .7-4.4 1 38.7 .7-15.8 .6-21.3 1.7 3.3 1.5-5.1 .7 14.7 1.2 .1 .7-21.8 1.6 20.2 .6-12.7 1.1-4.5 .9 14.2 1.4-6.3 1.5 .4 1.4 .7 1 2.8 1.6-10.6 1.4 6.6 .8 1.5 1-5 1.5-.5 1.1 3.8 1.6-.8 1.3-.7 .9 1.5 1.5-3.2 1.5-9.1 .7 10.6 1.1-6.6 1.6-2 .5 20.8 1.7-10.6 .6-6.6 1.2 18.8 .7-16.5 1.2 4.8 .6 1.1 1.7 .7 .9 1.6 .6-6.2 1.3-13 .8 7.2 1.1 8.4 1-.9 .8 6 1.6 7.9 1.2-10.1 1.5-.3 1.5-.4 .7-6.7 1.5-.9 1-9.3 1.3 11.2 1-8.6 .8 18.6 .6-19 1.1 14.7 1.4 1.2 1.1-4.2 1.6 1 1.3-3.3 .8 8.5 .8-12.4 1 7.1 1.7-5.7 .9 1.8 1.3 9.9 .6-12.9 .7 6.9 .7 4.9 1-9 .9-4.9 1.3 16.3 1.7-7.1 .8-.5 1.2-1.5 .7-3.3 1-7 1.7 11 1.3-.4 .7-10.2 1 5.7 .7-2.6 1-8.8 .8 15.9 1.3-10.2 1 3.8 1.6 8.4 1.1-8.7 1.3-1.5 1.2-.9 .7 10.3 1.1-10.6 1.5 3.3 1.1 25.4 .9-22.5 1.3-13.5 1.5 4 .9 1.3 1.3-6.3 .9 7.4 1.3 13 1.3-1.6-952.5 76.3 74-16.2 91.5-44.4 12.5-2.3 58.4 8.3 82.6-0"/>
<path class="d" d="M1356 2904l.5-8.4 .7-.6 .9-5.6 1 13.5 .8-23.1 1.1 12.1 .7 11.5 1.2-8.7 1.2 9.7 1.1-18.1 1.2 1.5 1.1 9.7 .7 1.2 1 .5 1.4-2.3 .6-1.3 1.2 4 .8-8.4 .7 9.9 1.1-.5 .9-14.4 1.2 37.6 .9-28.3 .6 5.4 .8-11.5 .7 17.1 1.3-8 1.3 26.8 .5-32.3 .6 .2 1.4-1.7 1.3 7.6 1.2-6.8 1 3.6 1.2 9.7 .9-16.7 .8 4.2 1.2-4.3 .9 8.8 1.3 26.2 1-34 .6-1.3 1.2-.5 .5 14.2 .5-8.9 1 6 1.3 17 1.5-19.8 .5-1 .6 12 .9-6 .5-7.3 .9 4.4 1.1-15.7 .6 18.2 .9-5.4 .9-3.5 .8 1.1 1.2-2 .8 2.6 1.2-.5 1.4 2 1-15.9 .6 21.4 1-.3 1.1-8.9 1.2 9.8 1.2 2.5 .9 12.1 1.2-15.6 1.4 1.2 1.1-14.6 1.3 9 .9 3.2 1.3 1.7 1.2-15.6 1 7.8 1.3-2.4 .9-19.8 1 17.4 1.1-12 .8 21.8 .7-9.8 1 16.1 .5-15.7 1.2 10.4 1.1-21.4 1.4 18.3 1.3-9.1 1 15.2 .6-6.6 1.5 1 1.5-8 1.1-4.4 .9 4.5 .5-3.4 1 4.9 1.2-12.8 1.1 19.7 1.2-3.7 1.4-12.5 1.2-2.6 1.1 2.3 1 10.9 .5-8.1 1.3-8.6 .9 5 1 2.7 1.3 2.1 .8-2.5 .9 4.4 .7 .2 1.1-6 .7 18.6 .6-17.3 1-1.7 .5 2.7 1-4.4 1.1 12 .7-12.5 .5-2 .6 6 .6-1.8 1.3-.2 1.3-3.1 1.2 3.9 .8-3.8 .5 2.6 1.5-.5 .7 5.4 1.3-7.3 .5 21.1 .8-20.4 .6 .4 1-1.8 1-.7 1.4 15.7 1.1-13.7 1 7.3 6.2-43.7 .7 1.8 1.4 3.1 .6-5.1 .7 9.8 .8-11.1 1.3 15.7 1.3-15.2 .9 2.5 1.1-10.4 1.3 19.5 1.1-13 .8-11.3 .7 9.3 .8 30.3 .8-29.8 1.3-0 .9 .7 .8 .3 1.4-9.6 .7-.7 .6 16.4 1.3-12.3 1.1 6.7 .6-7.4 .5 4.1 .7-3.9 .7-.8 .7 11.9 .8 14.3 1.2 12 .8-33.8 .5-1.6 1.4 1.8 1 3.8 1-2.1 .8-1.1 1-2.3 .9-4 .6 10.2 .7 1.3 .5 1.1 1-8.5 .9 .4 .6 .9 .7 3.8 1.5 2.8 .7-2.1 1.5 1.4 1-2.9 .7 8.3 .5-3 .8 1.5 .7-4.8 1.4 1.2 .9 5.3 .9-8.9 1.4-.5 1.4-1.8 1 5.8 .7-2.9 .7 3.3 .9-11.2 1.4-.9 1.2 .8 1.3 10.1 1.2-.8 .7-8.3 1.1 10.5 1.3-8.8 1.4 2.9 1.3-1.5 .7 4.6 .8 18.9 .8-17.5 1.3 6.2 1-15.4 1.1 13.1 1.3-7.8 .6 42.7 1.4-45.7 .7 10.9 .8-1.8 .5-6 .7 22.9 1.2-22.7 1 2.4 1 10.1 1-14.8 1 11.2 1.2-9.4 1.1 .1 .7 3.5 .9 5 1.2 6.6 1-10.8 .9 4.8 .6-9.2 1.3-.3 .7 .9 1.2 2.5 1.2 12.1 1 18.9 1.2-36.2 1.2-2.9 .8 3.6 1.1 5 1.5-2.9 1-9.4 1.1 12.9 .6 4 1.4-15.3 1 2.9 1.1 7.6 1-4.2 1.1 3.6 1.1 4.5 1.2-3 1.2 5.2 .8-3.5 .6-16.9 .8 17.4 .8-3.5 1-8.6 .6 14 .5 19.2 .5-.6 1.2-27 .8 5.1 .6-5.3 .8-2.3 1.5 6.9 1.1 4.6 1.4 2 .9-7.3 1-1.3 .6 8 1-3.9 1.4-1.1 1.5 .8 1.3 1.5 .9 27.3 .8-29 .6-2.1 1.3 5.2 1.1 3.5 1.3-3.6 .5-5.8 1.4 6.9 1.1-13 1.1 3.4 1 8.2 .7-4.7 1.4-2.9 .8-.3 1.5 7.4 1.1 .8 1.4 8 1-15.5 .9-2.2 1.2 3.3 .7-.5 1.2-.6 .7-.8 1.1 9.5 1.2 4.5 1.3 .3 1.5-5.7 1 10.5 1-14.1 1.2 7 1-10.5 1.2 11.3 1.1 1 1-13.2 1.1 6.7 1.4 1.6 1.3-2.6 .8 .8 1.1-5 1 7.4 1.4-11.6 .8 11.5 1.1-5.4 1.3 3.8 .7 6.2 1.4 12.8 1.2-25.3 1.1 9 .8 5.4 1.2-9.3 .8 .1 1.3-5.7 .6 3.5 1.2 5.2 .9 17.4 .8-22.4 .8 7.3 1-4 1.4 5 .8-8.9 1.2 4.8 1.3-.6 .7-2.2 1.1 1.9 1-3.2 1.3 11.9 .7-8.6 1-8.1 1.1 14.9 .8-4 1.3 .3 .8-8.5 14.2 6.7 1.5-6.7 1.7 4.5 1.1-1.8 .8 6.9 .7-2.4 1.5-16.9 .7 24.9 1.7-18.2 1.1 13 1.1-11 1.5 17.2 1.4-8.3 1.2-6.9 1.4 1.8 .7-.2 1.5 18.3 1.8-17.8 .8 2 1.7 13.5 1.5-12.9 1.6-4 1.7 9.5 1.1 8.1 1.6-9.3 1.4 .8 1.1-14.9 .9 18.9 1.8-10.9 .9-14.8 1.1 14.6 .7-8 .9 6.6 1.6 7.8 .7 1.8 1.5-.1 1.6-3.9 1-.9 1.3-1.9 1.2 22.2 1.7-21.5 1.7 15.3 1.7-4.4 1-9.4 .6-5.1 .8 25.7 1.8-18 1.1 4.3 .8-6.3 35.7-15.8 .6 9.4 1.1-9.2 1-2.7 1.4 10.6 1.1-5.2 1 .3 .6 7.9 .9-16 .8 1.2 .8 6.2 1.1 9.1 .6-5.8 .8-.1 .9 6.4 1.3-1.3 1-10.6 .6 1 .5 1.8 .9 .4 1.2 2.3 1.2-7.3 1.5 8.7 1.1-12.4 1.4 15.8 1.1-1 .6-2.5 .8-.6 1.1-1.6 .5-8.9 .7 12.6 .7-3.4 .8 13.9 1.3-17.6 .9 6.5 1.3-0 1.2 .8 .6-1 .5-2.4 .9 2.2 1 3.1 .5 42 1.5-43.5 1-3.5 1-11.2 .6 4.9 1.1 6.3 1.5 3.9 1.1 2.6 .8-5.7 1.1-2.6 1.4 9.9 .6-6.5 .7 3.8 1.1-4 1 14.2 1-17.7 1.1-3.2 .7 11.2 .8-3.1 1-4.3 1.3-10.6 1 .7 .6 16.6 .9-1.5 .9-7.9 1.2-2.6 .8 5.7 1.1 4.5 1 36.7 .9-42.2 .6 14.4 .7-13.9 1.5-2.2 1.5 .2 1 8.6 .6-6 .5-5.8 1.4-3.4 .5 13 1.2-11.8 1.3 12.2 1.1-2.1 1.4-3.6 1-3.9 .7-4.3 1.3 3.5 .9 3.4 .5 2.2 .6 2.2 1 1.6 .8-8.7 .7 6 1.4 2 1.2-7.5 1.4 11.8 1.1-9.7 1.4-2.6 .6-1.1 1.3 12.2 .7 8.7 .9-15.7 1.1 32.3 1.3-36.2 1.5 9.9 .8-5.2 1.1-3.9 1.1 17.3 1.1-14.2 1.3-4.4 1.4 5.1 1.5-1.2 1.2 7.9 1.4 9 1.4-17.4 1.4 7.4 1 5.5 .6-14.4 .7 2.8 1.4 11.6 .7-5.9 .8 8.8 .6-11.9 .8 3.3 .9 9.4 1.3-8 1.1-5 .7 3.3 1 10.8 1.2-5.9 1.3-3 .8-1.2 .8 .5 .6 6.9 1.2-5.4 1.3 19.3 .6-19 .7-9 1.4 2.1 .7 14.4 .6-11 1.3-5.2 .6 12.7 1.2-7.1 1 .4 1.5 9.8 .5-10.6 .9-.1 .8-.7 .5 34.1 .9-32.1 1.4 2.9 .7 2.2 .7 8.7 1.2-7.4 .7 8.8 1.5-4.7 .6 4.4 .6 34.5 .8-42.3 .7-4.4 1.2-.4 1.3 9.1 .7-.4 1-6.4 1.5 9.7 1.1-18.4 1 14.1 .6-11.8 .7 9.5 1.3-.1 .9-3.2 1-.7 1.4 .7 .8 2.8 .6 3.4 1.5-8.1 .6 1 .6 28.6 1.3-19.9 1.1-5.9 .6-4.2 .6-1.4 .9 2.2 1.4-6.5 .7 12 1.1 .1 1.2 4.7 .9 .8 1.3-2.2 1-10.3 .5 1.2 1.2-1.2 .6 8.2 .8 3 .9-2.3 1.2-5.4 .6-2.3 1.4 .7 1.4 27.4 .6-23.7 1.5-6.7 1.4 6.9 1.1 1.8 1-10.4 .9 11.1 1.4-2.9 .6-5 1.1-7.5 .9 3.9 .9 11.2 1.5-14 1 8.8 .9-6.4 .6 9.9 .6-9.2 1 1.3 .8 2.3 1.1 3.4 .6 12 .6-21.7 1.1 3.5 .7 2 .9 8.1 1.1-7.9 1.3-2.9 1.4 4.2 1.5 2.5 .7-1.1 1.1 .5 1 24.2 1-6.3 .7-18 1-.1 1.4 2.1 .8 4.6 1.4-9.5 1-3.4 .8-2.7 1.3 34.8 .7-32.9 .9-1 .8 15.4 1.5-7.4 .8-3.9 .8-.1 1.1-2.9 1.1 3.8 1.2 4.2 .7-15.2 1.3 32.4 1.3-30.6 .9 4.8 1.3-3.5 1.5 27.4 1-26 .6 4.3 .7-6.1 .9-6.4 .6 7.5 .6-1.7 1.3 36.2 .6-25.3 1.2-19.2 .7 14.3 .6-1.5 .5 2.8 1.3-5 .8 7.7 .9 10.8 .9 .7 .9-20.8 .6-5.8 .8 11.5 1.3-7.8 .9-2.9 1.3 .7 1.3 .2 .6 19.5 1.1-17.7 1.3-.7 .8-.3 1.4 4.8 .8 2.7 .7-5.5 .9 .5 1.1 .6 1.4 5 .5-3.3 1.5-10.2 .9 7.2 1 6.1 .6-10 .9 11.1 1 .3 1.1 1.9 .6-1.6 1.2-2 .9-2.5 .8-5.6 1.2 10.8 1.3-5.7 .8 8.1 1.4-7.9 .8 1.8 .9 .6 .6-3.3 .8-1.8 1.5 4.1 .9 .5 1.4-1.7 .9-2.4 1.4 .6 .7 31.1 .6-28.1 1.1-1.1 1-1.8 1-4.7 .7 8.3 1.5 38.4 1.1-43.2 1 1.2 1.4 1.2 1.4 1 .8 1.1 1 3.6 1-6.1 .6 2.3 .9-7 1.2 22.4 1.4-19.5 1.4-9.6 1.2 10.2 1.1 4.8 .5-6.4 .5 8.1 1.3-6.6 1.4 .9 .9-1.3 1 3.4 1.2-6.9 1.3 9.8 1.4-3.8 .6 18.3 1.2-14.1 1.3-1.1 .9 .3 .6 5 1.3-13.2 1.1 14.6 1.4-10.9 1.2 24.5 1.1-29 .6-7.5 .6 10.9 .7 3.2 .7-2.7 1.2-.2 .7-3.3 1.1 8.2 .9 2.2 .7 1.4 1-4.9 1.4 4.3 .9 .5 1.1-10.3 1.3 .1 .7 9.2 .5-1.8 .8 1.7 1.4-17.9 1.2 11.8 1.5 .8 .7 4 .6-3.3 .6 2.4 .8-6.9 1.3-3.2 .8 6.6 1.3 .7 .6 9.9 .6-18.2 .5 8.9 1.5-3.4 .6-2 .6 6.9 1.4 3.6 .9 15.3 .8-25 .8-.3 .5-4.2 1.4 15 .7-13.9 1 9.2 1.4-1.1 1.5-.2 1.4-1.8 .9 4.3 1.3-5.9 1.1 9.6 .6-6.5 1.2 7.7 1.4-11.2 1.2 27.4 1.3-21.8 1.3-5.8 .6 5 1.4 3.1 1.3 4.7 .7-5.8 1.1-4.7 .9-.4 1.4 8.4 1.1-3.5 1.5 1.5 .9-6.3 1.4-.5 1.1 8.5 .8-7.2 1.4-3.9 .9 7.2 .7-2.6 1.3 13.9 .6-21.2 1.1 2.6 1 12.5 1.3-4 1.5-1.5 1.1 4.1 1.5-2.6 .8-6.5 1.2 7.3 .5-3.8 1 2.9 .8 4.4 1.1 6.3 1.5-3 1.2-5.5 1.5 1.8 1 47.6 1.4-56.7 1 12.7 .7 .7 .6 .3 1.3-8.5 1.4 27.3 1.1-25.4 .8 9 1.5-6.5 .8 7.6 1.4-3.9 .9-7.4 .5 .3 1.1-5.7 1.2 4 .5-2.2 1.1 5.7 1.1-4.8 1.5 10.6 1.1-13.4 .8 3.9 1.3 23.3 1-21 1.4-1.6 .7 2.3 1.4 3.2 1.4 2.8 .9 20.4 .8-24.8 .9 1.5 1.2 5.2 1.4 7.3 .8-18.2 .6 6.5 .9-4.4 1.2 9.6 .8-3.9 1.4-5.1 .7 1.1 1.4 2.8 .6-11.1 1.2 9.6 1.1 12 1.2-22.1 .6 12.2 1-5.9 1.2 13.4 1.4-14 1.2 4.8 1.3-1.1 1.3-1.4 .8 2.1 .8-6.4 1.2 5.8 1.4-5.6 .9 11.5 .9-4.5 1.2 .8 .9-7.8 1.4 20.9 .7-11.3-925.1 18.9 45.8 53 50.2-16 85.6-28 272.4-8 21.1-5 161.2 11.5 42.1-5.5 16.6-0 3.6 12.1 115.4-3.6 61.6 7.5 25-17"/>
<path class="n" d="M1355.9 2881.5l1.5 24.2 1.3-9.8 1.6 .3 .7 13.6 .9-2.5 1-12.4 .8 21.3 1-27.7 1.4 19.3 1.3-11.1 1.3 18.9 1.3-5.1 1.4-11.2 .8-2.2 1.4 1.5 .6 9.2 1-12.1 1.1 2.5 1.2-22.4 .8 30.1 1.4 1.3 1.4-7.6 1.3 .8 1.3 1.8 1.1-17.2 1.5 17.8 1.3-8.6 1.2-3.3 1.2 1.4 .8 8.4 1.6 10.4 .7-15 1.3-1.1 .8 2.7 1.3-9 .9-8.5 1.3 29.4 1.4-3.8 .6-16.9 1 8.9 .7-7.7 1-5 .7 9.6 1.1 7 1.1-5.7 1.1 4.5 1.1-6.2 1.7-1.1 1.3-4.9 1.2 10.6 1.2-6.2 1.2-7.8 .7 10.3 1.3 3.8 .6-2 .9-14.5 1.4 13.4 .6-5.1 1.2-9.6 .7 21.1 1.2 6.4 1 .1 .7 2.7 .8-14.6 1.4 1.8 1.6 2.6 1-26.2 1.7 25.9 .8 3.4 1.1-5.6 1.4-6.3 1.4 2.7 1 3 1.7-13 1.6 13.2 1.6-4.1 .8 10.7 1-11.6 1.4 4.6 1.2 8.7 .8-9 .8-1.2 .7-3.9 .9 16.6 1.3-21.6 1.4 15.7 1.6 3.3 1.6-1.3 1.5-9.9 1.1-1.7 .7-4.5 1.5 10.9 .7-14.3 1.4 18.1 .9-2.4 1.1-17.7 1.2 29.2 1.6-24.4 1.6 11.2 1.4 2 1.5-3.3 1-16.8 .6 27.1 1 1.4 .8-19 .9 14.1 1.6 7.9 1.5-7.6 .9-20.2 1.2 4.5 .7 4.6 1.2 16.2 1.4-20.3 .9 9.8 1.2-.5 1.1-9.5 1.2-.5 .9 12.8 1.5-7.4 6-52.4 .6-9.9 .8 8.1 1-19.5 1.5 8 1.3 13.6 .9-1 1.7-12.3 .6 1.3 1.6 18.6 1-15.4 1.5 15.4 1.6-13.7 1.3 12.1 .7 3.6 1.2-11.6 1 6.7 .8-5.8 1.7-2.7 1.3-6.7 .8-.5 1.3 .6 1.4 11.5 .7 1.2 1.6 .2 1.3-11 1.7 11.5 1.6-3.9 1.2 8.6 1.6-1.1 1.5 13.7 1.5-10.7 1.2-6.5 1 14.9 1.7-6 1.2-5.1 1-10.1 1.5 1.6 1.3 7.4 1.6-7.2 .8 14.4 1.4-3.6 .7 8.5 1.7-11.7 .8-.3 1.7-3.4 1.1 12.5 .6-20.9 .7 11.1 1.2 2.2 .8 6.1 1.4-18.9 1.5 12.8 .9-7 1.6-17 1 15.5 1.6-7.3 .8 48.5 1.7-38.4 .9-2.4 1.1 9.4 1.1-9.3 1-.3 .6-10.4 1.3 6.8 1.3-3.8 1.6 22.3 .7-15 1.4 1.1 1-.1 1 1.7 1.3 6.4 1.6-9.5 1.7-12.6 .8 27.5 .8-16.2 1.7 10.4 .9 2.7 .7-8.2 1-3.5 1.1 7.8 .8-3.1 .5-1.6 1.7 1.3 .9 7.4 1.5-4.7 .8-20.8 1.1 14 1.5 14.7 1.6-17.9 1.1-3 .9 5.3 1.1 7.8 1.3 2.9 1.5-12.3 .8 15.8 .6-13 1.1 3.1 1.8-8.7 .7-2.8 1 17.3 1.4-4.6 1.1 7.1 1-5.3 .9 12.3 1.5-6.3 1.4 12.6 1.4-20.2 1.5-2.5 1.5 4.7 .7-1.3 .6 23.8 1.7-16.1 .8-8.2 1.7 1.8 1.1 36.6 1.2-33.5 1.4-1.9 .9-.8 1.3 16.3 1.1-9.9 1.5 4.1 1.4-2.5 1.5 0 1.7-20.7 1.2 6.7 1.4 10.8 .7 2.2 1.1 20.6 .6-27.5 .9 5.5 1.5 7.3 .7-4.5 1.7 1 .6-1.3 1.3-5.9 1.3-.3 1.3 3.2 1.2 3.9 1.5-3.7 1 3.6 1.1 4.5 .7 11 .7-28.6 1.4 17.9 1.4-10.1 .6 3.2 1.1-10.8 1.1 1.6 1.1 3.4 1.6 13.3 1.7-13.3 1.2-.7 1.3 4.3 1.5 14.7 1.1-10 .7 8.6 1.3 1.3 .6-15.1 .8 7.6 1.1-9.2 1.3 8.6 1.1-.1 1.6-1.8 1.6 .8 .6-12.2 .8 19.2 1.5-17.7 1.1 2.4 1 2.3 1 14.1 1.1-20.4 1.4 4.2 1.4 2.5 .7-1.7 1.7-3.1 1.6 3.9 1.3 8.5 .9-12.1 .9-.8 1.1 13.4 14.6-.6 1.5-27.8 1 20.4 .7 11.4 .9-4.1 .8-21.3 1.1-10.2 1.6 7.8 1.6 1.8 .8-.8 1.7 11.1 1.2-3.4 1.5 .4 1.1 .6 1.4-6.1 1.3 2.7 1.7 7.4 1.4 7.1 1.4-14.6 1.6-16.5 1.2 13.1 1.4 14.4 .7-4.3 1.6-4.8 1.2 8.3 1.3-6.3 .8-8.2 1.7 10.3 1.1-7.1 1.8 .6 1.2-8.9 1.2-3.3 .7 5.8 1 5.5 1.6 24.8 1.7-10.9 1.5-19.8 1.6 25.9 .7-18.3 .8-10.2 1.6-10.7 1.1 7.7 1.2 9.3 1 .6 1.5 4.8 1.7-3.8 1.3 .9 1.7 6.2 35.4 1.4 .8-2.2 .8-.1 1.2 .4 .7-5.5 1.5 27 .7-11.6 .7-8.8 .6-9.2 .9-2.5 1 3.7 .6 5.3 .8-6.7 1.3-1.1 1.6-2.7 1.2 12.2 1.1-4.5 1.5 5.3 1-1.7 1 1.2 1.4-4.3 .8 4.4 1.1-10.6 1.7 1 .6 .3 1.4 13.1 1.4-4.1 1.2-6.6 1 3.1 1.4-5.9 1.2 4.6 .6-5.9 1.3 3.1 .8 8.2 .6 5.5 1-8.7 .8 17.2 1.6-9.9 1.5-17.6 1.2 9.3 1.2 9 .6 17.8 .7-43.3 .9-8.3 .6 9.6 .6 40.2 1.4-27.2 1.4 12.1 1.1-13.8 .7 17 1.4-19.1 1.5 6.4 1.5-1.4 1.6-5.5 1.7 10.3 1.3 3.2 1.3-13.7 .8 3.9 .8 4.4 1.4 13.6 .7-19.5 1.2 14.6 1.3-9.5 .7 5.6 1.4-15.5 1.7 10.6 .7 3 1.6-24.7 1.4 17.7 1.4 6.8 1.7-.6 .8 3.4 .8 1.9 1.1-11.5 1.3 2.1 1.1 20.9 1.1-29 .9 16.9 1.3 9.3 1.6-6.8 1.3-12.4 1.7 21.9 1.5-10.9 1.2 7 1.4-10.3 1-10.5 1.7 22.2 .6-3 1.3-15.6 .6-4.8 1.4 27.8 1.2-12.2 .8-5.8 1-3.2 .8 18.3 1.5-25.9 1.6 7.9 1 9.4 .6-5.7 1.4 6.5 .8 6.5 .6 1.4 .6-9.4 .6 11.1 .8-19.9 .9 3.1 1.4 9.6 .8-2.6 1.6-7.7 1.3 2.3 1-.4 1.2 4 1.1 7.1 .8-8.9 .7 .5 .9 8.7 1.4-11.7 .6-2.2 1.3 8.9 .9 4.1 1.5 2.1 1.5-8.2 1.7 15.9 1.2-10.4 .9 2.5 1.4-4.6 1.1-33.3 .9 23.1 1.5 11.2 .8 .6 1.4 2.8 .6-8.5 1.7 8.4 1.4-11.2 1.2 10 1.6 12.6 1.6 19.6 .8-38.5 .7 6.8 .9-8.7 1.3-3.5 1.1 16.1 1.4-16.3 1.5-3.2 1.5 21.2 1.7-9.3 1.6 1 1.7-.5 .6-4.8 .6 2.7 1.5-8.1 1.6-.9 1.1 7.8 1.2 7.4 1.2 16.3 1.7-23.4 1.4-3.7 1.1-1.9 1.7-.4 1.4 .7 .7 3.4 1.2-5.9 .7-2.5 .6 1.4 1-4.7 .6 16 1.5-4.2 1.2-12.6 1.3 20.6 1-3.7 1-4.1 1.2-4.4 1.6 14.5 1 .4 1.1-20.7 1.6 12 1.1 2.9 .9-5.8 1.5-15.1 1.1 12 1.6 5.4 .6 8.6 1.5-6.9 .9-.7 .9 2.5 1-4.5 .6 4.5 1.5 1.7 1.3-2.7 .7 .1 1.2 .9 1.3 8.7 1.7-4.4 1.6-9.8 1 26.2 .7-26.2 1.3 14.1 1.4-10.8 1.4-4.2 1.2-.4 1.2 3.9 1.3 8.8 1.5-5.8 .9 11 1.7-21.7 1.4 4 1.2 9.2 .7 4.4 1.2-14 .8 10.4 .8 6 1.7-17.1 .8 2.3 .6-8.9 .8 21.3 .7 .6 .6-9.7 1-3.4 .6-3.1 .6-5.6 1.2 32.8 1.2-22.7 .9-19.9 1.1 13.8 .8 9.1 1.4-22.4 .8 11.6 1.5 7.9 .7-10.6 .9-12.1 .9 14.6 1.3 9.6 1.7-5.1 .9-9 .8-1 1.2-7.8 .7 17.2 .7 7.6 1.2-12.2 1.6-2.2 .9 6.8 1.1 5.8 1.1-7 1.5-10.4 1.4 11.4 1.3 .2 1.5-4.9 1.2 2.9 1.4-1 1.1-2.1 .7-5 1 8.8 1.4-10.3 .8-12 1.5 27.4 1-19.9 1.2 19.6 1.4-17.3 1.3 3 1.5 4.6 1.2 1.5 1.6-12.3 .7 16.6 1.6-3.2 .9-2.6 .9 4.8 .7-10.2 1.3 1.3 1.3-2.8 .8-7.7 1.2 9.8 .7 3.1 1.3 1.2 1.7-13.9 .9 8.1 1.1 6.1 1.1 5.1 1.5-8.6 1.4 3.5 1.4-3.3 1.1 15.1 .7-24.3 1.1 7.9 1.2 6.3 1.1-10.6 1 5.7 .7-3.3 1.5 9.6 1.4 .1 1.6-7.9 1.5 5.1 .9 5.1 1.4-8.8 1.7 3.9 1.7-3.9 1.3 16.4 1.5-2.2 1.7-8.4 1.4-3.8 .7-.1 1.5 8 1.7 .1 1.6 34.1 1.4-49.5 1 36.1 .8 .4 .8-29.8 1.7 8 1.6-9.7 1.4 12.9 .7 4 1.6-.9 1-16.8 .8 3.8 .9 28 .8-29.4 .8 6.1 1.3-8.1 1.1 .7 1.8-7 1.4 16.2 1.2-2.1 1.6-6 .8 2.1 .8-3.5 .7 18.2 1.7-3.4 .9-.8 .9-21 1.3 13.9 1.7 3.6 1.6-11.9 1.3 5.2 1.4 19.6 .7-11.8 1.1 7.8 .6-6.9 1.7-10.1 1.7 12.8 1.2-.4 .9-2.7 1.6 7.4 1.5-.8 1 21.9 1.3-16.3 1.5-.4 1.3-20.5 1.1-2.6 1.5 7.1 1.3-9.8 1.4 15 .7 6 1.1-8.9 1 4.5 1.7 1.8 1.6 3.8 1-8 1.3 10.1 .7 1.1 1.4-.8 1.5-11.6 1.4 8.4 1 1.1 1.2-6.7 1.3 7.8 1.2-1.9 .6-16 .7 11.3 .8 8.2 1.1 5.7 1-12.6 1.4-10.8 1.4 16.6 .6-4.1 .9 .5 1.8-16.2 .6 1.2 1.2-2.3 .8 18.9 1.1-0 1.7-8.2 1-7 .6 13.3 1.1-17.5 .9-2.6 1.6 11.8 1.2 5.6 .8 7.2 1.4-14.1 1.5-1.6 .8 2.1 .8 3.4 .9-16 .6 22.4 1.3-13.5 1 10.8 .6 7.1 1.4-7.5 .6-6.9 .7 4.1 .9 6.7 .6-6.7 .8-13.1 1.1 13.3 1.5-8.4 .9 11.2 .6-3.1 .9 3.9 .6 .6 1.5-1 1.2-14.5 1.1 7 .9 4.6 .7 2.8 1.4-15.9 1.4-2.7 1.4 16.3 .7-3.8 1.5-8.3 1.2 4.4 1-5.6 1.7-7.5 1.5 11.7 1.1-5.2 1 3.2 1.5 7.7 1.4-4.5 .7 2.5 1.7-1 1.4 10.7 .9-.9 1.2-2.4 1.3-18.5 1.1 3.8 .6-4.4 1.6 10.4 1.6-3.5 .9 19.5-943.3 13.3-8.9 60.5 73.8-8.8-60.6-6 144.4-129 21 84 124 3 19 1.6-53-49.6 499.6-47.4-69.6 21.1 4.8 20.3-45.8 6 202.4-13.7-4.4 8.5-308.8 62.3"/>
<path d="M317.9 552V85.1" stroke="#000" stroke-width="7" stroke-dasharray="23.3 10 6.5 10.3"/>
<path d="M535.5 552V85.1" stroke="#000" stroke-width="7" stroke-dasharray="23.5 20.87"/>
<path d="M634.5 552V85.1" stroke="#000" stroke-width="7" stroke-dasharray="23.5 20.87"/>
<path d="M1145.2 552V85.1" stroke="#000" stroke-width="7" stroke-dasharray="23.5 20.87"/>
<path d="M1494.6 552V85.1" stroke="#000" stroke-width="7" stroke-dasharray="23.3 10 6.5 10.3"/>
<path d="M1712.2 552V85.1" stroke="#000" stroke-width="7" stroke-dasharray="23.5 20.87"/>
<path d="M1811.2 552V85.1" stroke="#000" stroke-width="7" stroke-dasharray="23.5 20.87"/>
<path d="M2321.9 552V85.1" stroke="#000" stroke-width="7" stroke-dasharray="23.5 20.87"/>
<path d="M317.9 1173.2V706.3" stroke="#000" stroke-width="7" stroke-dasharray="23.3 10 6.5 10.3"/>
<path d="M535.5 1173.2V706.3" stroke="#000" stroke-width="7" stroke-dasharray="23.5 20.87"/>
<path d="M634.5 1173.2V706.3" stroke="#000" stroke-width="7" stroke-dasharray="23.5 20.87"/>
<path d="M1145.2 1173.2V706.3" stroke="#000" stroke-width="7" stroke-dasharray="23.5 20.87"/>
<path d="M1494.6 1173.2V706.3" stroke="#000" stroke-width="7" stroke-dasharray="23.3 10 6.5 10.3"/>
<path d="M1712.2 1173.2V706.3" stroke="#000" stroke-width="7" stroke-dasharray="23.5 20.87"/>
<path d="M1811.2 1173.2V706.3" stroke="#000" stroke-width="7" stroke-dasharray="23.5 20.87"/>
<path d="M2321.9 1173.2V706.3" stroke="#000" stroke-width="7" stroke-dasharray="23.5 20.87"/>
<path d="M317.9 1794.4V1327.5" stroke="#000" stroke-width="7" stroke-dasharray="23.3 10 6.5 10.3"/>
<path d="M535.5 1794.4V1327.5" stroke="#000" stroke-width="7" stroke-dasharray="23.5 20.87"/>
<path d="M634.5 1794.4V1327.5" stroke="#000" stroke-width="7" stroke-dasharray="23.5 20.87"/>
<path d="M1145.2 1794.4V1327.5" stroke="#000" stroke-width="7" stroke-dasharray="23.5 20.87"/>
<path d="M1494.6 1794.4V1327.5" stroke="#000" stroke-width="7" stroke-dasharray="23.3 10 6.5 10.3"/>
<path d="M1712.2 1794.4V1327.5" stroke="#000" stroke-width="7" stroke-dasharray="23.5 20.87"/>
<path d="M1811.2 1794.4V1327.5" stroke="#000" stroke-width="7" stroke-dasharray="23.5 20.87"/>
<path d="M2321.9 1794.4V1327.5" stroke="#000" stroke-width="7" stroke-dasharray="23.5 20.87"/>
<path d="M317.9 2415.6V1948.7" stroke="#000" stroke-width="7" stroke-dasharray="23.3 10 6.5 10.3"/>
<path d="M535.5 2415.6V1948.7" stroke="#000" stroke-width="7" stroke-dasharray="23.5 20.87"/>
<path d="M634.5 2415.6V1948.7" stroke="#000" stroke-width="7" stroke-dasharray="23.5 20.87"/>
<path d="M1145.2 2415.6V1948.7" stroke="#000" stroke-width="7" stroke-dasharray="23.5 20.87"/>
<path d="M1494.6 2415.6V1948.7" stroke="#000" stroke-width="7" stroke-dasharray="23.3 10 6.5 10.3"/>
<path d="M1712.2 2415.6V1948.7" stroke="#000" stroke-width="7" stroke-dasharray="23.5 20.87"/>
<path d="M1811.2 2415.6V1948.7" stroke="#000" stroke-width="7" stroke-dasharray="23.5 20.87"/>
<path d="M2321.9 2415.6V1948.7" stroke="#000" stroke-width="7" stroke-dasharray="23.5 20.87"/>
<path d="M317.9 3036.8V2569.9" stroke="#000" stroke-width="7" stroke-dasharray="23.3 10 6.5 10.3"/>
<path d="M535.5 3036.8V2569.9" stroke="#000" stroke-width="7" stroke-dasharray="23.5 20.87"/>
<path d="M634.5 3036.8V2569.9" stroke="#000" stroke-width="7" stroke-dasharray="23.5 20.87"/>
<path d="M1145.2 3036.8V2569.9" stroke="#000" stroke-width="7" stroke-dasharray="23.5 20.87"/>
<path d="M1494.6 3036.8V2569.9" stroke="#000" stroke-width="7" stroke-dasharray="23.3 10 6.5 10.3"/>
<path d="M1712.2 3036.8V2569.9" stroke="#000" stroke-width="7" stroke-dasharray="23.5 20.87"/>
<path d="M1811.2 3036.8V2569.9" stroke="#000" stroke-width="7" stroke-dasharray="23.5 20.87"/>
<path d="M2321.9 3036.8V2569.9" stroke="#000" stroke-width="7" stroke-dasharray="23.5 20.87"/>
<text class="lg" transform="translate(2177.6,216.3) scale(0.972,1.03)" text-anchor="end" style="fill:#ff00d2">Day</text>
<path d="M2207.3 214.8L2222 185.6L2236.5 214.8Z" fill="none" stroke="#ff00d2" stroke-width="3"/>
<text class="lg" x="2180.1" y="282.8" text-anchor="end" style="fill:#00ff00">Night</text>
<path d="M2221.2 250.8V281.6M2205.6 266.2H2236.8M2206.9 252.3L2235.5 280.1M2206.9 280.1L2235.5 252.3" stroke="#00ff00" stroke-width="2.8" fill="none"/>
</svg></body></html>
